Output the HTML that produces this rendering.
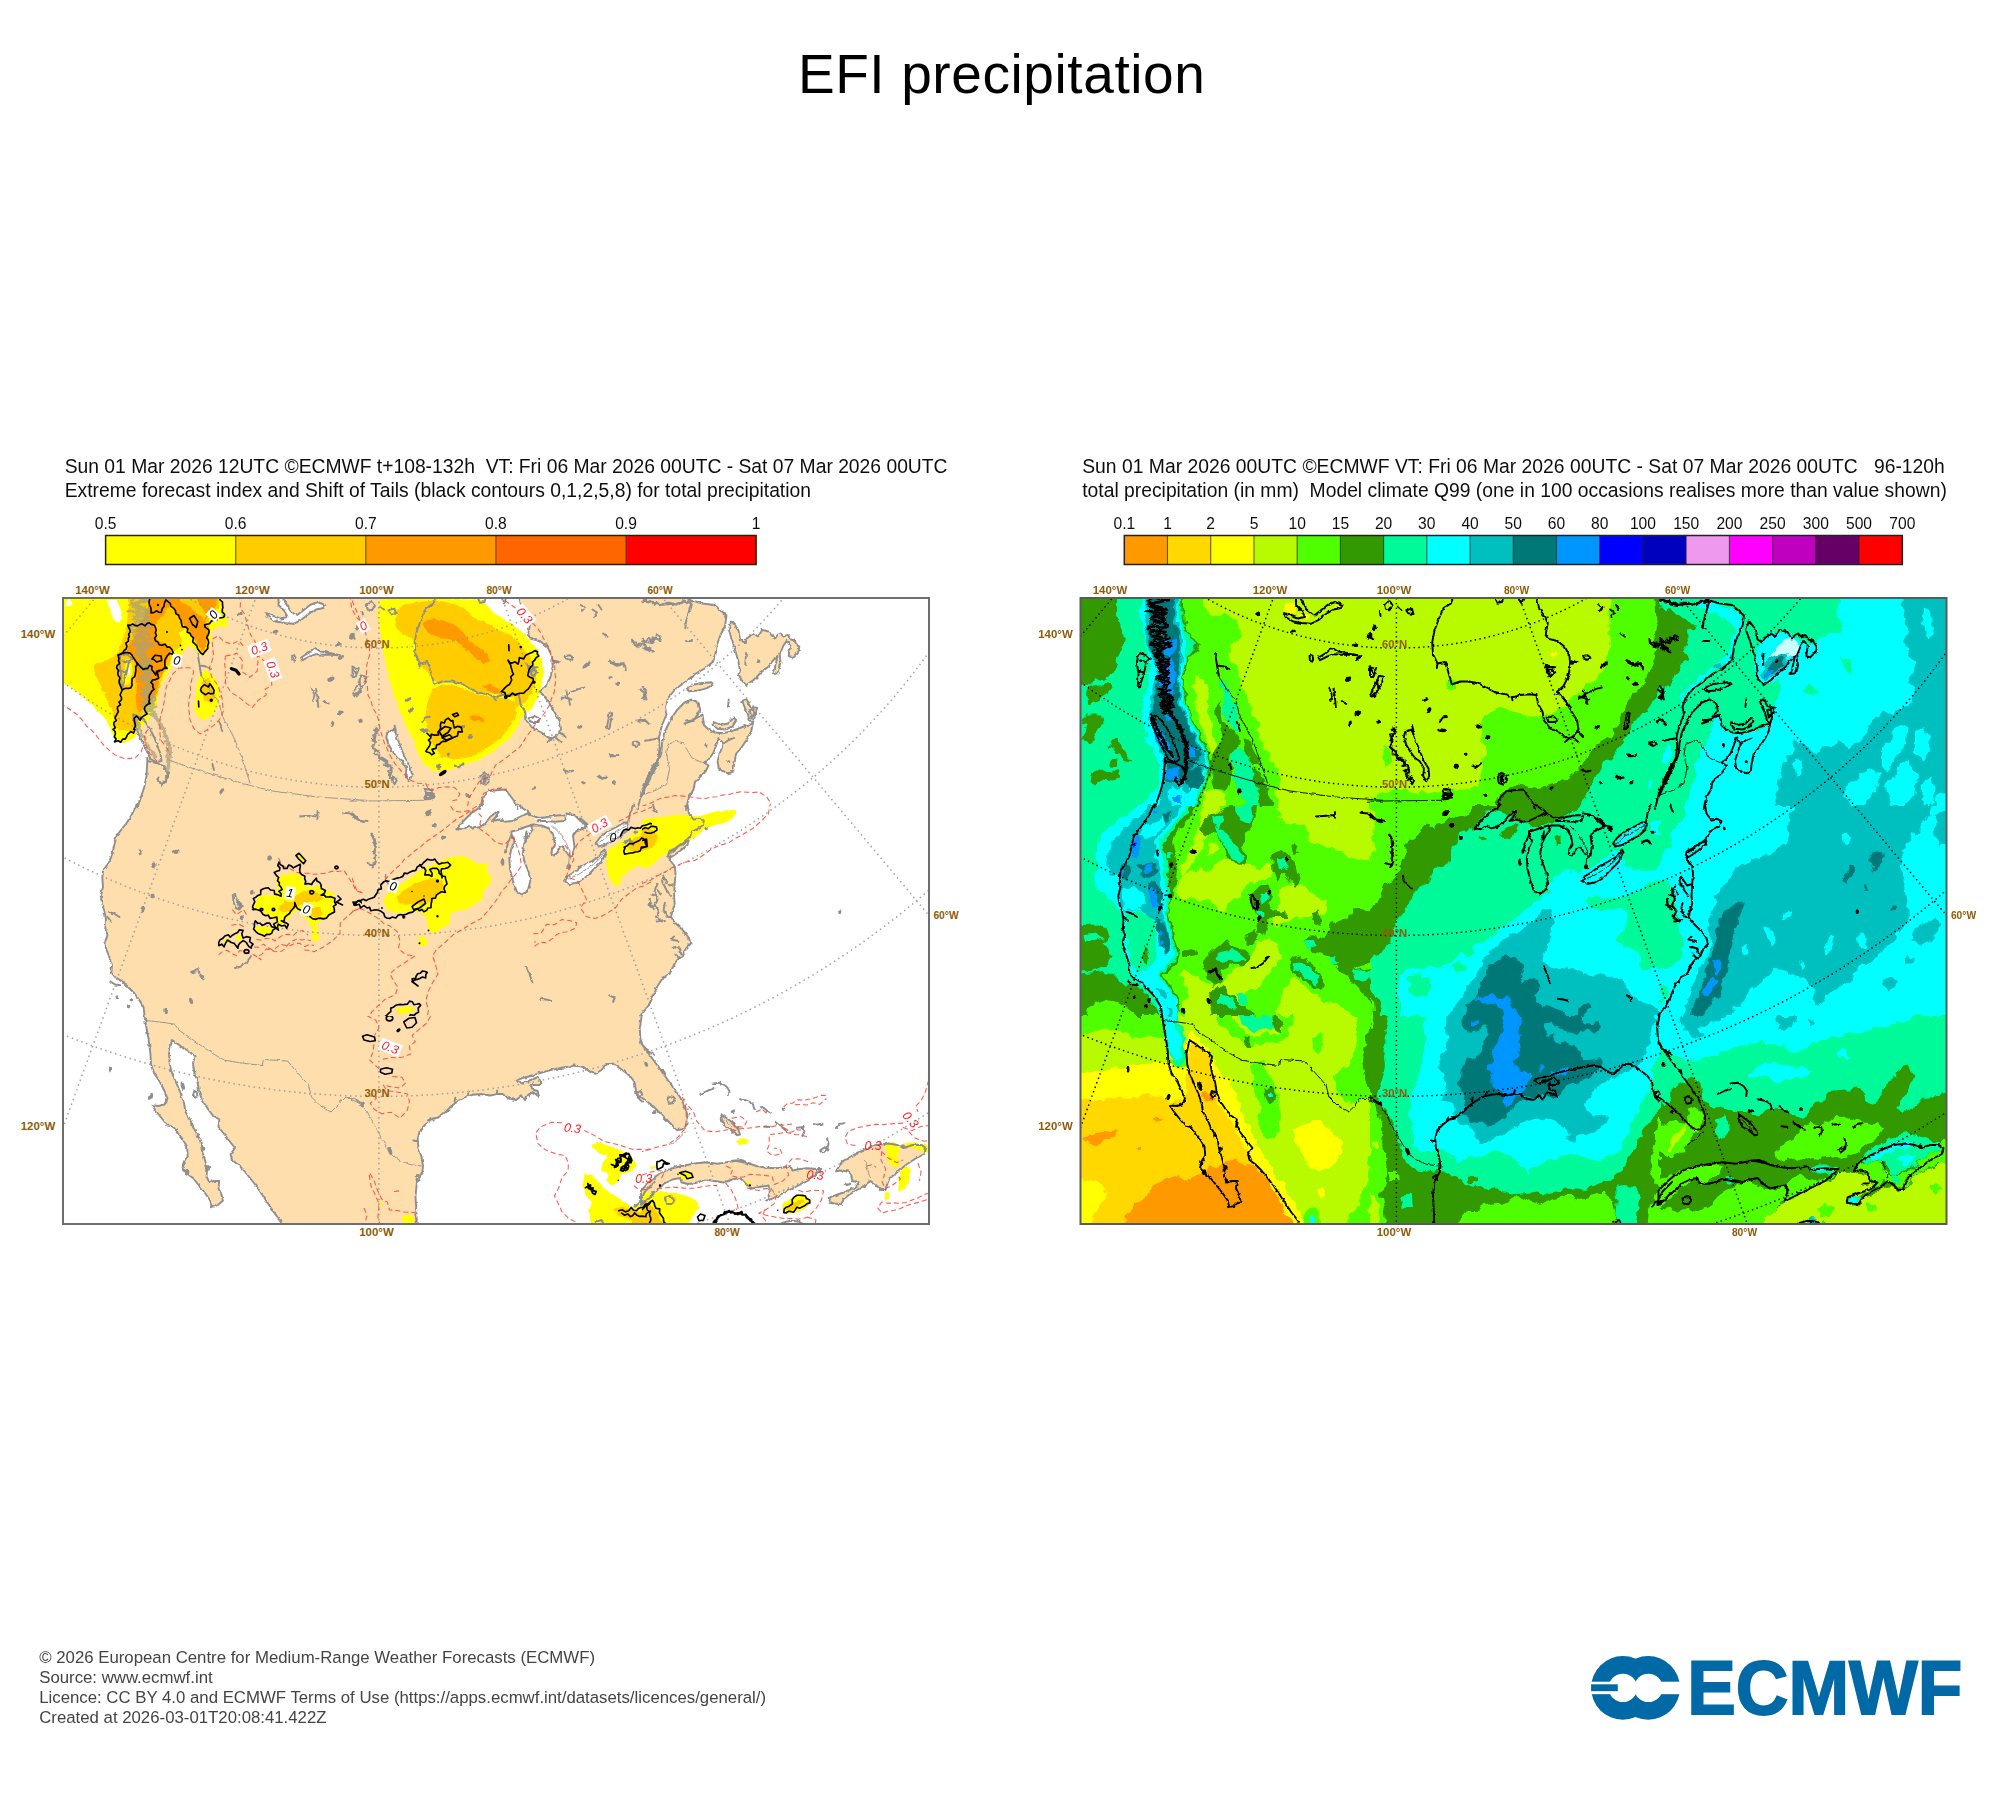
<!DOCTYPE html>
<html lang="en"><head><meta charset="utf-8"><title>EFI precipitation</title>
<style>html,body{margin:0;padding:0;background:#fff;}body{width:2000px;height:1800px;overflow:hidden;}svg{display:block;}text{font-family:"Liberation Sans", sans-serif;}</style>
</head><body>
<svg width="2000" height="1800" viewBox="0 0 2000 1800">
<rect width="2000" height="1800" fill="#fff"/>
<defs>
<filter id="soft" x="-2%" y="-2%" width="104%" height="104%"><feGaussianBlur stdDeviation="0.7"/></filter>
<filter id="rough" x="-2%" y="-2%" width="104%" height="104%"><feTurbulence type="fractalNoise" baseFrequency="0.11" numOctaves="2" seed="7" result="n"/><feDisplacementMap in="SourceGraphic" in2="n" scale="9" xChannelSelector="R" yChannelSelector="G" result="d"/><feGaussianBlur in="d" stdDeviation="0.6"/></filter>
<filter id="soft2" x="-2%" y="-2%" width="104%" height="104%"><feGaussianBlur stdDeviation="0.45"/></filter>
<filter id="wob" x="-2%" y="-2%" width="104%" height="104%"><feTurbulence type="fractalNoise" baseFrequency="0.22" numOctaves="2" seed="3" result="n"/><feDisplacementMap in="SourceGraphic" in2="n" scale="3.2" xChannelSelector="R" yChannelSelector="G" result="d"/><feGaussianBlur in="d" stdDeviation="0.45"/></filter>
<filter id="rough2" x="-2%" y="-2%" width="104%" height="104%"><feTurbulence type="fractalNoise" baseFrequency="0.13" numOctaves="2" seed="11" result="n"/><feDisplacementMap in="SourceGraphic" in2="n" scale="4" xChannelSelector="R" yChannelSelector="G" result="d"/><feGaussianBlur in="d" stdDeviation="0.6"/></filter>
<clipPath id="clipL"><rect x="63" y="598" width="866" height="626"/></clipPath>
<clipPath id="clipR"><rect x="1080.5" y="598" width="866" height="626"/></clipPath>
</defs>
<text x="797.9" y="92.8" font-size="55" letter-spacing="0.6" fill="#000">EFI precipitation</text>
<g filter="url(#soft2)">
<text x="64.7" y="473" font-size="19.3" fill="#111" textLength="882.8" lengthAdjust="spacing" xml:space="preserve">Sun 01 Mar 2026 12UTC ©ECMWF t+108-132h  VT: Fri 06 Mar 2026 00UTC - Sat 07 Mar 2026 00UTC</text>
<text x="64.7" y="497" font-size="19.3" fill="#111" textLength="746.3" lengthAdjust="spacing" xml:space="preserve">Extreme forecast index and Shift of Tails (black contours 0,1,2,5,8) for total precipitation</text>
<text x="1082.2" y="473" font-size="19.3" fill="#111" textLength="862.6" lengthAdjust="spacing" xml:space="preserve">Sun 01 Mar 2026 00UTC ©ECMWF VT: Fri 06 Mar 2026 00UTC - Sat 07 Mar 2026 00UTC   96-120h</text>
<text x="1082.2" y="497" font-size="19.3" fill="#111" textLength="864.6" lengthAdjust="spacing" xml:space="preserve">total precipitation (in mm)  Model climate Q99 (one in 100 occasions realises more than value shown)</text>
<rect x="105.6" y="535.5" width="130.1" height="29" fill="#FFFF00"/>
<rect x="235.7" y="535.5" width="130.1" height="29" fill="#FFCC00"/>
<rect x="365.8" y="535.5" width="130.1" height="29" fill="#FF9900"/>
<rect x="495.9" y="535.5" width="130.1" height="29" fill="#FF6600"/>
<rect x="626" y="535.5" width="130.1" height="29" fill="#FF0000"/>
<line x1="235.7" y1="535.5" x2="235.7" y2="564.5" stroke="#4a3a00" stroke-width="1.2" opacity="0.75"/>
<line x1="365.8" y1="535.5" x2="365.8" y2="564.5" stroke="#4a3a00" stroke-width="1.2" opacity="0.75"/>
<line x1="495.9" y1="535.5" x2="495.9" y2="564.5" stroke="#4a3a00" stroke-width="1.2" opacity="0.75"/>
<line x1="626" y1="535.5" x2="626" y2="564.5" stroke="#4a3a00" stroke-width="1.2" opacity="0.75"/>
<rect x="105.6" y="535.5" width="650.5" height="29" fill="none" stroke="#2a2000" stroke-width="1.5"/>
<text x="105.6" y="529.3" font-size="15.6" text-anchor="middle" fill="#111">0.5</text>
<text x="235.7" y="529.3" font-size="15.6" text-anchor="middle" fill="#111">0.6</text>
<text x="365.8" y="529.3" font-size="15.6" text-anchor="middle" fill="#111">0.7</text>
<text x="495.9" y="529.3" font-size="15.6" text-anchor="middle" fill="#111">0.8</text>
<text x="626" y="529.3" font-size="15.6" text-anchor="middle" fill="#111">0.9</text>
<text x="756.1" y="529.3" font-size="15.6" text-anchor="middle" fill="#111">1</text>
<rect x="1124.3" y="535.5" width="43.4" height="29" fill="#FF9900"/>
<rect x="1167.5" y="535.5" width="43.4" height="29" fill="#FFD800"/>
<rect x="1210.7" y="535.5" width="43.4" height="29" fill="#FFFF00"/>
<rect x="1254" y="535.5" width="43.4" height="29" fill="#B8FA00"/>
<rect x="1297.2" y="535.5" width="43.4" height="29" fill="#50FF00"/>
<rect x="1340.4" y="535.5" width="43.4" height="29" fill="#339900"/>
<rect x="1383.6" y="535.5" width="43.4" height="29" fill="#00FA9A"/>
<rect x="1426.8" y="535.5" width="43.4" height="29" fill="#00FFFF"/>
<rect x="1470.1" y="535.5" width="43.4" height="29" fill="#00BFBF"/>
<rect x="1513.3" y="535.5" width="43.4" height="29" fill="#007878"/>
<rect x="1556.5" y="535.5" width="43.4" height="29" fill="#0096FF"/>
<rect x="1599.7" y="535.5" width="43.4" height="29" fill="#0000FF"/>
<rect x="1642.9" y="535.5" width="43.4" height="29" fill="#0000BF"/>
<rect x="1686.2" y="535.5" width="43.4" height="29" fill="#EE99EE"/>
<rect x="1729.4" y="535.5" width="43.4" height="29" fill="#FF00FF"/>
<rect x="1772.6" y="535.5" width="43.4" height="29" fill="#BF00BF"/>
<rect x="1815.8" y="535.5" width="43.4" height="29" fill="#660066"/>
<rect x="1859" y="535.5" width="43.4" height="29" fill="#FF0000"/>
<line x1="1167.5" y1="535.5" x2="1167.5" y2="564.5" stroke="#222" stroke-width="1.1" opacity="0.7"/>
<line x1="1210.7" y1="535.5" x2="1210.7" y2="564.5" stroke="#222" stroke-width="1.1" opacity="0.7"/>
<line x1="1254" y1="535.5" x2="1254" y2="564.5" stroke="#222" stroke-width="1.1" opacity="0.7"/>
<line x1="1297.2" y1="535.5" x2="1297.2" y2="564.5" stroke="#222" stroke-width="1.1" opacity="0.7"/>
<line x1="1340.4" y1="535.5" x2="1340.4" y2="564.5" stroke="#222" stroke-width="1.1" opacity="0.7"/>
<line x1="1383.6" y1="535.5" x2="1383.6" y2="564.5" stroke="#222" stroke-width="1.1" opacity="0.7"/>
<line x1="1426.8" y1="535.5" x2="1426.8" y2="564.5" stroke="#222" stroke-width="1.1" opacity="0.7"/>
<line x1="1470.1" y1="535.5" x2="1470.1" y2="564.5" stroke="#222" stroke-width="1.1" opacity="0.7"/>
<line x1="1513.3" y1="535.5" x2="1513.3" y2="564.5" stroke="#222" stroke-width="1.1" opacity="0.7"/>
<line x1="1556.5" y1="535.5" x2="1556.5" y2="564.5" stroke="#222" stroke-width="1.1" opacity="0.7"/>
<line x1="1599.7" y1="535.5" x2="1599.7" y2="564.5" stroke="#222" stroke-width="1.1" opacity="0.7"/>
<line x1="1642.9" y1="535.5" x2="1642.9" y2="564.5" stroke="#222" stroke-width="1.1" opacity="0.7"/>
<line x1="1686.2" y1="535.5" x2="1686.2" y2="564.5" stroke="#222" stroke-width="1.1" opacity="0.7"/>
<line x1="1729.4" y1="535.5" x2="1729.4" y2="564.5" stroke="#222" stroke-width="1.1" opacity="0.7"/>
<line x1="1772.6" y1="535.5" x2="1772.6" y2="564.5" stroke="#222" stroke-width="1.1" opacity="0.7"/>
<line x1="1815.8" y1="535.5" x2="1815.8" y2="564.5" stroke="#222" stroke-width="1.1" opacity="0.7"/>
<line x1="1859" y1="535.5" x2="1859" y2="564.5" stroke="#222" stroke-width="1.1" opacity="0.7"/>
<rect x="1124.3" y="535.5" width="778" height="29" fill="none" stroke="#222" stroke-width="1.5"/>
<text x="1124.3" y="529.3" font-size="15.6" text-anchor="middle" fill="#111">0.1</text>
<text x="1167.5" y="529.3" font-size="15.6" text-anchor="middle" fill="#111">1</text>
<text x="1210.7" y="529.3" font-size="15.6" text-anchor="middle" fill="#111">2</text>
<text x="1254" y="529.3" font-size="15.6" text-anchor="middle" fill="#111">5</text>
<text x="1297.2" y="529.3" font-size="15.6" text-anchor="middle" fill="#111">10</text>
<text x="1340.4" y="529.3" font-size="15.6" text-anchor="middle" fill="#111">15</text>
<text x="1383.6" y="529.3" font-size="15.6" text-anchor="middle" fill="#111">20</text>
<text x="1426.8" y="529.3" font-size="15.6" text-anchor="middle" fill="#111">30</text>
<text x="1470.1" y="529.3" font-size="15.6" text-anchor="middle" fill="#111">40</text>
<text x="1513.3" y="529.3" font-size="15.6" text-anchor="middle" fill="#111">50</text>
<text x="1556.5" y="529.3" font-size="15.6" text-anchor="middle" fill="#111">60</text>
<text x="1599.7" y="529.3" font-size="15.6" text-anchor="middle" fill="#111">80</text>
<text x="1642.9" y="529.3" font-size="15.6" text-anchor="middle" fill="#111">100</text>
<text x="1686.2" y="529.3" font-size="15.6" text-anchor="middle" fill="#111">150</text>
<text x="1729.4" y="529.3" font-size="15.6" text-anchor="middle" fill="#111">200</text>
<text x="1772.6" y="529.3" font-size="15.6" text-anchor="middle" fill="#111">250</text>
<text x="1815.8" y="529.3" font-size="15.6" text-anchor="middle" fill="#111">300</text>
<text x="1859" y="529.3" font-size="15.6" text-anchor="middle" fill="#111">500</text>
<text x="1902.3" y="529.3" font-size="15.6" text-anchor="middle" fill="#111">700</text>
</g>
<defs><g id="geo">
<path d="M1139.2,653 1146,655.2 1149.8,659 1146,663.5 1144.5,671 1141.5,680 1140,687.5 1137.8,686 1138.5,674 1137,663.5 1137.8,656Z M1140,660.5 1144.5,662 M1139.2,671 1143,672.5 M1150.5,714.5 1152,723.5 1156.5,734.8 1161,744.5 1165.5,753.5 1168,759 1174,762 1179,761 1178,754 1175,746 1172,738 1168,730 1163,722 1157,716.5Z M1299,596 1303.5,603.5 1308,611 1314,615.5 1320,611 1327.5,605 1335,602 1342.5,605 1341,608 1333.5,609.5 1326,614 1318.5,620 1311,623.8 1302,623 1293,621.5 1285.5,617 1284,613.2 1290,615.5 1297.5,618.5 1305,617 1302,611 1296,605 1296,596Z M1318.5,657.5 1326,653 1332,647.8 1338,651.5 1347,653 1357.5,655.2 1350,654.8 1341,654.8 1333.5,654.2 1327.5,656.3 1320,660.2Z M1309.5,656 1311.8,655.2 1313.2,658.2 1312.2,661.7 1310,661.2Z M1215,653 1216.5,662 1218,671 1218.8,675.5 M1218.8,665.8 1224,666.5 1228.5,668.8 M1236.8,722 1239.8,731 M1230,764 1231.5,770 M1329,687.5 1332,695 1330.5,701 M1333.5,689 1335,698 1335.8,707 M1341.8,701 1346.2,704 M1369.5,666.5 1374,674 1376.2,668 M1377,680 1378.5,689 1376.2,693.5 M1164.8,758 1164.8,761 1164,776 1161.8,787 1158,798.5 1155,807.5 M1164.8,761 1174,763 1181,766 1185,772 M1186.5,772.2 1185.6,775 1185.5,777.9 1183.4,780.4 1182.1,782.8 1179.7,783.7 1179,784.7 1177.1,782.5 1174.8,780.3 1176,777.5 M1184.3,771.8 1185.4,775 1183.2,777.5 1182.6,779.3 1181.1,781.4 1180.2,784.4 1178.8,784.7 1177.9,782.3 1175.2,780.3 1176,777.5 M1453.2,596 1451,603.5 1443.5,608 1439,618.5 1434.5,630.5 1432.2,642.5 1433,654.5 1437.5,663.5 1445,662 1448,671 1451.8,684.5 1460,681.5 1469,681.5 1479.5,683.8 1488.5,689 1494.5,692 1505,694.2 1512.5,697.2 1520,695 1529,694.2 1536.5,695 1538,704 1542.5,711.5 1544,720.5 1550,728 1559,732.5 1565,737 1569.5,738.5 1574,735.5 1578.5,729.5 1577,720.5 1572.5,713 1566.5,702.5 1560.5,695 1556.8,692 1563.5,686 1568,677 1570.2,666.5 1569.5,656 1565,647 1557.5,641 1548.5,638.8 1545.5,635 1547.8,623 1545.5,617 1539.5,609.5 1536.5,596 M1565,742.2 1569.5,737.8 M1572.5,737 1578.5,742.2 M1577,731 1583,737 M1437.5,663.5 1436.8,668 M1511.8,697.2 1512.5,700.2 M1546.2,718.2 1552.2,716 1557.5,719 1556,722 1548.5,722Z M1544.8,665.3 1547.3,666.5 1549.9,667.4 1552.6,667.2 1555.2,667.2 M1544.9,664.6 1547.5,665.5 1550,666.4 1552.5,667.9 1555.2,667.2 M1547,669.7 1549.7,669.7 1552.3,669.9 1555.3,672.3 1552.3,674.2 1550.8,677 M1546.6,670.7 1549.7,669.6 1552,671 1553.9,671.3 1552.7,674.4 1550.8,677 M1547,666.2 1547.2,668.9 1548.8,671.1 1548.5,674 1550,676.2 M1545.4,666.8 1547.7,668.7 1547.7,671.6 1549.5,673.7 1550,676.2 M1570.2,660.5 1576.2,662 1571.8,663.8Z M1494.5,596 1497.5,602.8 1502,602 1503.5,596 M1518.5,596 1521.5,603.5 1523.8,597.5 M1598,605 1602.5,607.2 1599.5,611 M1610,609.5 1614.5,612.5 1611.5,617 M1616,605 1619,609.5 M1405.2,731.8 1412,729.5 1415,738.5 1419.5,750.5 1424,761 1428.5,768.5 1429.2,776 1426.2,781.2 1423.2,776 1424,768.5 1419.5,761 1415,758 1410.5,752 1406,744.5 1403.8,737Z M1410.5,776 1414.2,780.5 1412,784.2 1409.8,781.2Z M1396.3,728.6 1391.6,729.6 1395.2,733.6 1390,734.4 1392.3,738 1390,740 1392,742.9 1391.3,746 1391.4,748.8 1394,750.2 1396.1,752.1 1396.3,755.2 1397.1,757.9 1400.2,757.8 1401.2,760.8 1403.4,762.2 1402.4,766.1 1407.8,765.2 1409,768.7 1409.3,771.8 1405.7,775.1 1407.5,777.6 1409.4,780.2 1411.2,782.8 M1393.4,727.5 1395.2,730.9 1393.5,733 1393,735.6 1392.7,738.2 1392.4,739.8 1392.4,742.8 1389.7,746.1 1392.2,748.2 1392.7,751.1 1392.6,754.4 1397,754.7 1396.9,758.1 1398.7,759.9 1402.2,759.4 1404.9,761.1 1404.8,764.3 1407.4,765.5 1409.1,768.7 1404.5,771.2 1408.6,773.5 1406.8,778 1409.8,780 1411.2,782.8 M1412,725 1413.5,731 M1384.2,604.2 1389.5,601.2 1392.5,605 1389.5,610.2 1385,609.5Z M1397.8,606.5 1401.5,609.5 M1406,610.2 1412,608.8 1413.5,614 1408.2,613.2Z M1379.8,611 1380.5,615.5 M1374.5,626 1376,628.2 M1370,635 1372.2,638.8 M1370,666.5 1376,669.5 1373,677 1370,677Z M1379,675.5 1384.2,677 1380.5,686 1376,692 1371.5,696.5 1370,695 1377.5,680Z M1439.8,722 1442.8,717.5 1447.2,716.8 M1472,765.5 1476.5,767.3 1481,763.2 M1497.8,776 1501.2,772.7 1505.8,775.2 1506.2,782 1502.8,784.7 1498.7,782.8Z M1442.6,789.2 1446,788.9 1450.2,789.4 1449.4,792.1 1451.3,794.3 1451.2,797.6 1447.3,797.2 1443.3,799.4 1443.9,796.5 1444.1,793.6 1442.8,791 M1442.6,789 1446.1,789.7 1449.9,789.4 1450.2,792 1449.4,794.7 1451.1,797.2 1447.9,799 1443.6,799.4 1442.4,796.7 1443.9,793.6 1442.8,791 M1443.5,793.6 1446.3,795.2 1449.5,796.2 M1444.1,792.8 1447.7,793.2 1449.5,796.2 M1583,656 1587.5,655.2 1590.5,657.5 1587.5,659.8 1583.8,658.7Z M1581.5,770 1586,771.8 1590.5,770.8 M1620.5,633.5 1625,636.8 M1649.5,639.7 1650.9,642.2 1654.1,642.5 1654.8,644.4 1657.9,646.9 1659.9,644 1662.7,643.7 1663.7,646.6 1666,647.7 1668.5,648.5 M1649.5,639.6 1649.9,643.3 1652.2,644.7 1655.4,647.3 1657.2,643.4 1660,644.5 1662.1,644.5 1663.6,646.7 1666.1,647.6 1668.5,648.5 M1626.2,660.9 1629.4,661.3 1631.7,663.1 1633.9,664.7 1636.7,663.1 1640.2,663.4 1641.7,666.5 1643.3,669.5 M1626.9,659.9 1628.4,663 1631.1,664.2 1634.2,665.8 1637.3,665.3 1640.7,663.1 1642.6,666 1643.3,669.5 M1578.5,699.5 1586,693.5 1595,689.3 1601.8,687.5 M1583.8,690.5 1586,698 1587.5,704.8 M1579.2,696.5 1589,699.5 M1658.1,689.5 1660.1,691.6 1663,693.7 1663.2,696.7 1664,699.5 M1657.8,689.8 1660.4,691.3 1662.5,693.9 1662.7,697 1664,699.5 M1663,689.2 1663.2,692.9 1661,695.2 1659.5,698 M1663.4,689.4 1662.8,692.7 1661.6,695.6 1659.5,698 M1627.2,712.2 1629.8,713.3 1626.8,728.8 1624.1,729.2Z M1656.8,722 1659.2,720.9 1662.3,719.5 1664.1,721.9 1666.2,723.8 M1656.6,721.3 1659,720.3 1661.3,720.7 1664.3,721.6 1666.2,723.8 M1650.5,742.2 1655,741.5 1656.8,744.5 1653.5,746 1650.2,744.8Z M1662.5,740.8 1669.2,739.7 M1627.2,754.3 1629.8,754.7 1631.7,756.4 1636.2,755 M1627.3,754.1 1629,756.3 1631.7,756.3 1636.2,755 M1616.7,775.6 1619.5,778.3 1623.5,777.5 M1616,776.8 1619.7,778.9 1623.5,777.5 M1655,809 1659.5,791 1665.5,776 1671.5,764 M1497.5,809 1500.5,797 1506.5,791 1514,790.2 1523,789.5 1527.5,795.5 1532,801.5 1535,809 M1659.8,601.5 1663.3,599.5 1666.1,601 1669.1,601.5 1671.9,603.8 1674.8,604.5 1677.8,605.2 1681,604.1 1683.8,602.7 1686.9,602.7 1690.1,604 1693.2,604.9 1696.1,603.4 1698.9,603.4 1701.4,601.6 1704.2,601.7 1706.5,599.3 1709.5,600.5 M1660,600.5 1663.2,599.8 1665.8,602.6 1669.3,600.7 1672,603.1 1675.1,602.6 1677.9,604.6 1680.9,604.7 1684,604 1687,604.2 1690,603.7 1693.2,604.5 1696,602.9 1698.7,602.6 1701.2,600.4 1704.4,603.2 1706.9,601.8 1709.5,600.5 M1709.5,600.5 1706.5,611 1703.5,621.5 1702.8,628.2 M1709.5,600.5 1720,603.5 1732,605 1744,615.5 1742.5,626 1738,635 1734.2,645.5 1732,660.5 1723,668 1712.5,674 1703.5,681.5 1693,689 1685.5,698 1682.5,707 1684,714.5 1679.5,725 1676.5,737 1677.2,747.5 1675.8,758 1670.5,768.5 1664.5,780.5 1658.5,792.5 M1703.5,641 1709.5,641 M1658.5,797 1663,788 1669,776 1675,764 1678.8,753.5 1679.5,743 1682.5,731 1688.5,719 1694.5,710 1702,702.5 1709.5,699.5 1716.2,703.2 1717.8,710 1714,716 1711,720.5 1702,723.5 M1703.5,720.5 1712.5,719 1720,714.5 1721.5,725 1726,729.5 1732,732.5 1741,733.2 1750,731 1757.5,728 1765,725 1770.2,723.5 M1759.8,701 1763.5,699.5 1768,707 1774.8,707.8 1772.5,716 1770.2,723.5 1767.2,720.5 1765,713 1762,707Z M1767.2,710 1771,709.2 1771.8,714.5 1768.8,717.5Z M1731.2,722 1738,725 1745.5,723.5 1751.5,717.5 1753.8,720.5 1750,726.5 1742.5,729.5 1735,728.8 1731.2,725Z M1704.2,689 1711,684.5 1720,683 1729,682.2 1730.5,684.5 1724.5,688.2 1715.5,690.5 1706.5,691.2Z M1746.2,699.5 1745.5,707 M1770.2,723.5 1768.8,731 1765,738.5 1759,747.5 1753.8,753.5 1751.8,762.5 1750.8,771.5 1746.2,773.3 1741,771.8 1736.2,768.5 1735,761 1737.7,752 1741,743.8 1746.2,740 1751.5,737.8 M1741,743.8 1738,740 1736.5,737.8 1733.5,746 1730.5,753.5 1726,759.5 1721.5,762.5 1726,765.5 1723,771.5 1717,777.5 1712.5,782 1711,789.5 1706.5,797 1703.5,809 M1663,740.8 1675,738.5 M1660,686 1663.8,692 1661.5,699.5 M1660.1,638.8 1662.7,642.1 1666.3,638.6 1669.9,642.9 1671.4,640.3 1673,637.7 1677,640.2 1678,636.5 M1659.7,641.5 1662.7,641.7 1665.7,642.3 1670.1,643.2 1670,637.3 1673.5,638.8 1674.5,635 1678,636.5 M1660.8,648.3 1664,647.7 1665.6,650 1668.2,650.4 1670.5,651.5 M1661.9,646.2 1663,649.6 1666.5,648.2 1667.9,651.2 1670.5,651.5 M1748.5,621.5 1746.2,630.5 1750,641 1753,651.5 1756,662 1757.5,671 1756,674 1759,680 1763.5,685.2 1771,680 1778.5,672.5 1786,666.5 1790.5,660.5 1795,656 1792,669.5 1790.5,674 1795,673.2 1798,662 1797.2,654.5 1801,645.5 1804,641 1807.8,645.5 1806.2,656 1810,657.5 1816,651.5 1816.8,647 1813,641 1808.5,639.5 1805.5,635 1801,636.5 1798,633.5 1795,635 1792,639.5 1787.5,632 1780,629.8 1775.5,636.5 1771,633.5 1765,638 1762,642.5 1757.5,639.5 1756,630.5 1753,626 1750,622.2Z M1763.5,653 1762.8,665 M1154.2,804.5 1149,815 1144.5,822.5 1138.5,830 1134,836 1131.8,845 1129.5,855.5 1125,864.5 1120.5,870.5 1119.8,878 1120.5,887 1118.2,896 1119.8,905 1122,911 1123.5,920 1122.8,929 1125,935 1122.8,941 1123.5,948.5 1126.5,956 1129.5,965 1128.8,972.5 1132.5,977 1140,981.5 1146,987.5 1152,993.5 1156.5,999.5 1161,1007 1162.5,1019 M1126.5,911.8 1131,913.2 1137,917 M1125,917 1128,920.8 M1128,981.5 1132.5,984.5 1137.8,985.2 M1250.2,895.2 1252.5,894.5 1254,899 1257.8,902 1259.2,906.5 1257,909.5 1253.2,908 1251,902Z M1317,816.5 1326,815.8 1334.2,815 M1335,812 1335,818.8 M1360.5,812.8 1368,813.5 1372.5,818 1377.8,821 1381.5,822.2 M1209,972.5 1212.6,971.6 1215.3,968.6 1216.1,971.6 1217.1,974.5 1220.4,976.1 1221,979.2 M1208.6,971.8 1212,970.6 1215.9,968.2 1216.5,971.4 1217.1,974.5 1218.7,977.1 1221,979.2 M1252.5,968 1258.5,966.5 1263.8,962.8 1268.2,956.8 M1500.5,804.5 1497.5,807.5 1490,812 1484,818 1478,824 1475,828.5 1481,829.2 1487,825.5 1490,828.5 1497.5,827 1503.5,822.5 1508,816.5 1514,812 1516.2,812 1512.5,818 1509.5,821 1517,819.5 1523,821.8 1529,821 1535,818 1541,815 1545.5,813.5 1548.5,815 1545.5,812 1535,804.5 M1529,831.5 1535,830 1542.5,827 1548.5,825.5 1550,830 1545.5,836 1541.8,843.5 1540.2,854 1542.5,863 1546.2,872 1547.8,881 1545.5,890 1539.5,894.5 1534.2,891.5 1530.5,881 1527.5,869 1526.8,858.5 1529,848 1532,840.5 1529,834.5Z M1529,834.5 1526,842 1523,851 M1544,831.5 1542.5,840.5 M1548.5,815 1556,818 1565,817.2 1572.5,815.8 1580,815 1583,816.5 1581.5,821 1572.5,821.8 1563.5,821 1556,821 M1550,825.5 1559,825.5 1566.5,828.5 1571,836 1572.5,845 1569.5,849.5 1568.8,854 1571.8,855.5 1577,848 1580,846.5 1583,851 1587.5,857 1590.5,855.5 1592,846.5 1590.5,836 1593.5,831.5 1601,828.5 1604,825.5 1598,821 1592,815 1583,813.5 M1592,815 1599.5,819.5 1606.2,825.5 1611.5,827 M1581.5,881 1584.5,876.5 1592,872 1599.5,866 1608.5,861.5 1616,857 1622,849.5 1623.5,852.5 1619,861.5 1611.5,869 1604,876.5 1595,882.5 1587.5,884Z M1613,843.5 1617.5,837.5 1625,831.5 1634,827 1641.5,822.5 1646,822.5 1645.2,830 1638.5,836 1629.5,840.5 1622,845 1616,846.5Z M1646,821.8 1647.5,813.5 1651.2,804.5 M1642.7,843.2 1647.3,839.9 1648.9,842.2 1650.8,844.2 M1642.1,841.5 1647,840.2 1649.5,841.6 1650.8,844.2 M1370,813.5 1376,819.5 1385,821 M1389.4,834.5 1391.3,837.2 1392.5,840.2 1393.4,843.6 1391.9,846.5 1392.6,849.6 1392,852.5 1392.2,855.5 1391.5,858.6 1393.5,861.9 1391.2,864.4 1390.2,867.5 M1388.8,834.7 1390.4,837.5 1391.7,840.4 1391.8,843.4 1392.2,846.5 1392.5,849.5 1391,852.6 1393,855.4 1391.8,858.5 1393,861.7 1392.3,864.8 1390.2,867.5 M1385,863 1391,864.8 M1403,875.8 1403.8,881 1407.5,885.5 1412,888.5 M1544,967.2 1547,974 1550,983 M1557.5,998.8 1563.5,999.5 1568.8,1001 M1626.8,995.3 1632.2,998 1630.7,1001 M1667,899 1667.8,905 1670.8,906.5 M1705,804.5 1706.5,813.5 1711,819.5 1717,818.8 1721.5,821 1720,825.5 1715.5,828.5 1709.5,831.5 1708,836 1705,839 1699,843.5 1693,848 1687,851 1685.5,855.5 1688.5,861.5 1692.2,866 1693,873.5 1692.2,884 1691.5,896 1692.2,903.5 1690,911 1688.5,917 1691.5,921.5 1696,926 1702,932 1706.5,938 1708,944 1703.5,948.5 1700.5,956 1696,959 1693,962 1690,968 1687,974 1681,977 1675,986 1670.5,996.5 1666,1005.5 1658.5,1015.2 M1687,854 1694.5,848 1703.5,842 1706.5,841.2 1705,845 1697.5,851 1690,856.2 1687,857.8Z M1692.2,884 1687,885.5 1681,876.5 1679.5,881 1684,890 1688.5,896 M1675,884 1672,891.5 1675,899 1672,905 1676.5,911 1673.5,917 1679.5,921.5 M1667.5,899 1666,905 1672,909.5 M1682.5,902 1681,911 1685.5,917 1688.5,917 M1675,890 1678,894.5 M1669,894.5 1673.5,896 M1674.2,921.5 1682.5,920 M1691.5,936.5 1688.5,939.5 1696,941 M1690,947 1697.5,948.5 1699,954.5 M1693,954.5 1696,957.5 M1670.5,804.5 1672,810.5 1674.2,812.3 M1161.8,1014.5 1164,1028 1166.2,1040 1167.8,1052 1168.5,1064 1171.5,1073 1177.5,1082 1182,1091 1185,1098.5 1182,1104.5 1176,1106 1170,1105.2 1173,1110.5 1179,1118 1185,1125.5 1191,1127 1195.5,1133 1200,1139 1204.5,1146.5 1205.2,1155.5 1201.5,1161.5 1200,1167.5 1204.5,1173.5 1210.5,1178 1216.5,1185.5 1222.5,1193 1227.8,1200.5 1229.2,1207.2 1234.5,1205.8 1240.5,1200.5 1239,1194.5 1236,1188.5 1236.8,1181 1231.5,1181 1227,1182.5 1224,1176.5 1224.8,1169 1222.5,1160 1219.5,1151 1218,1142 1215,1134.5 1210.5,1127 1207.5,1119.5 1203,1112 1201.5,1103 1198.5,1094 1194,1083.5 1189.5,1073 1187.2,1064 1186.5,1053.5 1189.5,1040 1194,1043 1200,1047.5 1207.5,1052 1212,1056.5 1210.5,1064 1212,1073 1215,1082 1216.5,1091 1219.5,1100 1225.5,1109 1230,1115 1236.8,1119.5 1236,1127 1242,1134.5 1246.5,1140.5 1252.5,1148 1248,1154 1249.5,1160 1255.5,1164.5 1261.5,1170.5 1267.5,1178 1273.5,1185.5 1279.5,1194.5 1285.5,1203.5 1291.5,1212.5 1299,1221.8 M1211.7,1091 1214.2,1091.8 1215,1096.2 1212.8,1097.8 1210.8,1094.8Z M1374,1100 1381.5,1105.2 M1434.5,1229 1433.8,1211 1433,1196 1434.5,1181 1439.8,1172 1440.5,1166 1439,1157 1436,1148 1435.2,1139 1437.5,1130 1443.5,1124 1449.5,1119.5 1457,1116.5 1463,1112 1469,1106 1475,1101.5 1482.5,1097 1490,1094.8 1499,1094 1508,1095.5 1514,1094 1520,1094 1526,1098.5 1533.5,1100 1539.5,1095.5 1542.5,1100 1547,1092.5 1553,1094 1556.8,1097 1555.2,1091 1550,1089.5 1548.5,1085 1556,1085 1559,1082 1554.5,1077.5 1547,1080.5 1539.5,1083.5 1534.2,1080.5 1539.5,1078.2 1548.5,1076 1557.5,1073 1568,1070 1580,1067.8 1592,1065.5 1601,1067 1607,1071.5 1613,1073.8 1619,1070 1623.5,1064 1631,1064 1640,1070 1647.5,1076 1652,1082 1653.5,1091 1655,1097 1659.5,1101.5 M1659.5,1014.5 1657.2,1028 1658,1040 1662.5,1049 1671.5,1055 M1655,1092.5 1658,1091 1659.8,1094.3 1657.7,1097 1655.3,1095.5Z M1433,1177.2 1436,1175 1437.5,1178.8 1434.5,1181Z M1446.5,1121 1448,1118 M1438.2,1131.5 1439.8,1127.8 M1430.8,1140.5 1435.2,1141.2 M1472,1101.5 1472.8,1097.8 M1485.5,1095.5 1485.8,1091.8 M1514,1094 1514.8,1090.2 M1652,1206.5 1658,1200.5 1662.5,1191.5 1668.5,1185.5 1672.2,1181.8 M1658,1202 1664,1200.5 1670.8,1193 M1613,1221.8 1619,1220 1622,1226 M1658.5,1043 1666,1053.5 1675,1065.5 1682.5,1076 1690,1086.5 1697.5,1097 1702,1106 1705,1115 1705,1124 1700.5,1129.2 1694.5,1130 1690,1125.5 1684,1119.5 1676.5,1112 1670.5,1106 1664.5,1101.5 1658.5,1097 M1685.5,1097.8 1689.2,1096.2 1691.8,1099.2 1690.8,1103 1687,1103.8 1684.8,1100.8Z M1717.8,1094 1724.5,1091 1732,1088 M1730.5,1083.5 1738,1082.8 1744,1086.5 1747,1091 1746.2,1095.5 M1757.5,1099.2 1765,1100.8 1770.2,1103.8 1771.8,1109 M1778.5,1106 1784.5,1110.5 1788.2,1112.8 M1781.5,1126.2 1787.5,1127 M1793.5,1122.5 1799.5,1127 1804.8,1130 M1814.5,1127.8 1821.2,1127 1822,1131.5 1819.8,1136 M1832.5,1124.8 1840,1123.7 M1853.5,1127.8 1856.5,1124 1862.5,1123.2 M1837.8,1150.2 1842.2,1147.2 1845.2,1148.8 1840.8,1152.5Z M1845.2,1148 1846,1143.5 1844.5,1139 M1738.8,1114.2 1744,1118 1750,1122.5 1756,1130 1757.5,1134.5 1754.5,1135.2 1748.5,1130 1742.5,1127 1739.5,1121Z M1658.5,1190.8 1666,1182.5 1675,1175 1687,1169 1699,1166 1711,1163.8 1723,1162.2 1735,1163.8 1744,1162.2 1753,1160.8 1765,1163 1774,1166 1783,1167.5 1792,1168.2 1801,1167.5 1807.8,1166 1810,1170.5 1817.5,1169 1825,1168.2 1834,1169 1838.5,1169 1832.5,1175 1825,1181 1816,1185.5 1807,1190 1798,1194.5 1789,1199 1784.5,1200.5 1787.5,1191.5 1786,1185.5 1777,1187 1769.5,1188.5 1763.5,1184 1757.5,1178 1750,1179.5 1741,1182.5 1732,1181 1723,1179.5 1714,1182.5 1706.5,1184 1699,1182.5 1697.5,1178 1690,1179.5 1681,1184 1673.5,1191.5 1666,1199 1658.5,1205Z M1682.5,1197.5 1688.5,1196 1691.5,1200.5 1688.5,1204.2 1683.2,1203.5Z M1750,1160.8 1759,1160 1768,1163.8 M1853.5,1171.2 1859.5,1161.5 1870,1155.5 1882,1149.5 1894,1145 1906,1143.5 1915,1145 1921,1148 1930,1145 1939,1145 1943.5,1148 1942,1154 1933,1158.5 1924,1164.5 1915,1172 1907.5,1178 1904.5,1184 1903,1190 1898.5,1190 1894,1185.5 1888,1181 1882,1185.5 1874.5,1190 1867,1194.5 1861,1199 1859.5,1204.2 1852,1203.5 1846.8,1202.8 1847.5,1197.5 1855,1194.5 1864,1191.5 1873,1187 1877.5,1182.5 1870,1181 1868.5,1175 1867,1172 1859.5,1170.5Z M1799.5,1223 1807,1220.8 1816,1221.5 1822,1224.8" fill="none" stroke="currentColor" stroke-width="1.9" stroke-linejoin="round" stroke-linecap="round"/>
<path d="M1218.8,675.5 1221,680 1228.5,692 1236,701 1239,713 1242,720.5 1246.5,728 1252.5,740 1257,752 1260,761 1264.5,773 1267.5,783.5 M1185,759.5 1210.5,768.5 1230,774.5 1260,783.5 1290,791 1335,797 1383,800.3 M1367,801.2 1400,800.8 1442,800.3 M1685.5,744.5 1694.5,740.8 1700.5,743 1705,750.5 1709.5,758 1714,760.2 1720,762.5 M1685.5,744.5 1684,755 1687,768.5 1684,783.5 1675,789.5 1658.5,795.5 M1569.5,825.5 1580,836 1587.5,851 1586,864.5 M1584.5,879.5 1595,875 1607,867.5 1617.5,858.5 1622,851.8 M1616,844.2 1625,836 1635.5,830.8 1644.5,825.5 M1161.8,1020.5 1177.5,1022 1192.5,1024.2 1195.5,1029.5 1215,1043 1230,1053.5 1242,1060.2 1260,1063.2 1279.5,1065.5 1281,1059.5 1305,1061 1314,1071.5 1326,1085 1329,1097 1338,1106 1348.5,1112 1354.5,1106 1359,1098.5 1372.5,1098.5 1381.5,1105.2 M1368.5,1099.2 1379,1104.5 1385,1112 1391,1124 1397,1134.5 1403,1145 1409,1154 1416.5,1160 1427,1164.5 1439.8,1166 M1703.5,1131.5 1696,1139 1687,1145 M1741.8,1119.5 1748.5,1125.5 1753,1132.2 M1882,1160 1885,1169 1888,1178" fill="none" stroke="currentColor" stroke-width="0.9" stroke-linejoin="round"/>
<path d="M1259.4,612.7 1259.6,613.6 1259.2,614.7 1258.2,615.5 1257,615.8 1256.1,615.3 1255.9,614.4 1256.3,613.3 1257.3,612.5 1258.5,612.2Z M1295.3,630.9 1295.1,631.7 1294.1,632.5 1292.7,633 1291.4,633 1290.7,632.5 1290.9,631.7 1291.9,630.9 1293.3,630.4 1294.6,630.4Z M1371.5,636.9 1370.5,638.4 1369.1,639.1 1367.9,638.7 1367.3,637.3 1367.5,635.5 1368.5,634 1369.9,633.3 1371.1,633.7 1371.7,635.1Z M1357.5,643.7 1357.6,644.7 1357,645.7 1355.9,646.3 1354.7,646.4 1353.9,645.8 1353.8,644.8 1354.4,643.8 1355.5,643.2 1356.7,643.1Z M1375.4,627.9 1374.7,629.2 1373.9,629.8 1373.2,629.5 1372.9,628.5 1373.2,627.1 1373.9,625.8 1374.7,625.2 1375.4,625.5 1375.7,626.5Z M1360.9,656 1360.8,656.8 1360,657.8 1358.6,658.8 1357.3,659.3 1356.5,659 1356.6,658.2 1357.4,657.2 1358.8,656.2 1360.1,655.7Z M1351.5,677.9 1351.3,679 1350.1,680.2 1348.2,681.1 1346.5,681.3 1345.5,680.6 1345.7,679.5 1346.9,678.3 1348.8,677.4 1350.5,677.2Z M1360.5,711.7 1360.4,712.9 1359.4,714.2 1357.7,714.9 1356,715 1355.1,714.3 1355.2,713.1 1356.2,711.8 1357.9,711.1 1359.6,711Z M1351,724.1 1350.4,725.6 1349.6,726.4 1349,726.2 1348.8,725.1 1349,723.5 1349.6,722 1350.4,721.2 1351,721.4 1351.2,722.5Z M1375.8,694 1375.9,694.9 1375.3,695.9 1374.2,696.6 1373,696.6 1372.2,696 1372.1,695.1 1372.7,694.1 1373.8,693.4 1375,693.4Z M1241,791.6 1240.2,792.7 1239.1,793.1 1238.1,792.7 1237.5,791.7 1237.6,790.4 1238.4,789.3 1239.5,788.9 1240.5,789.3 1241.1,790.3Z M1570.2,660.5 1576.2,662 1571.8,663.8Z M1428.2,698.2 1428,699.1 1426.8,700.1 1425.1,700.9 1423.6,701.2 1422.8,700.8 1423,699.9 1424.2,698.9 1425.9,698.1 1427.4,697.8Z M1430.2,711 1429.2,712.3 1428.1,712.8 1427.3,712.3 1427.1,711.1 1427.7,709.5 1428.7,708.3 1429.8,707.8 1430.6,708.3 1430.8,709.5Z M1446.2,730.6 1445.3,731.3 1443.2,731.6 1440.6,731.4 1438.5,730.7 1437.8,729.9 1438.7,729.2 1440.8,728.9 1443.4,729.1 1445.5,729.8Z M1379.6,721.2 1379.3,722.4 1378.7,723.1 1377.8,723.1 1377.2,722.4 1376.9,721.2 1377.2,720.1 1377.8,719.4 1378.7,719.4 1379.3,720.1Z M1481.7,727 1481,727.8 1479.4,728.1 1477.6,727.7 1476.2,726.9 1475.8,726 1476.5,725.2 1478.1,724.9 1479.9,725.3 1481.3,726.1Z M1489.8,736.6 1489.6,737.5 1488.6,738.2 1487.3,738.4 1486.2,738.1 1485.7,737.4 1485.9,736.5 1486.9,735.8 1488.2,735.6 1489.3,735.9Z M1466.9,754.2 1466.7,754.8 1466.3,755.1 1465.7,755.1 1465.3,754.8 1465.1,754.2 1465.3,753.7 1465.7,753.4 1466.3,753.4 1466.7,753.7Z M1458.3,766.2 1457.9,767.5 1456.9,768.2 1455.6,768.2 1454.6,767.5 1454.2,766.2 1454.6,765 1455.6,764.3 1456.9,764.3 1457.9,765Z M1503.8,778.7 1503.5,780.9 1502.6,782.3 1501.4,782.3 1500.5,780.9 1500.2,778.7 1500.5,776.5 1501.4,775.1 1502.6,775.1 1503.5,776.5Z M1607.4,662.1 1607.2,663.2 1605.8,665 1603.7,666.8 1601.7,667.9 1600.6,667.9 1600.8,666.8 1602.2,665 1604.3,663.2 1606.3,662.1Z M1599.3,726.3 1599.1,727 1598.2,727.7 1596.9,728.1 1595.8,727.9 1595.2,727.3 1595.4,726.6 1596.3,725.9 1597.6,725.5 1598.7,725.7Z M1553.1,787.1 1553,787.7 1552.4,788.5 1551.4,789 1550.5,789.2 1549.9,788.9 1550,788.3 1550.6,787.5 1551.6,787 1552.5,786.8Z M1487.6,795.9 1487.1,796.4 1486,796.6 1484.7,796.4 1483.7,795.8 1483.4,795.1 1483.9,794.6 1485,794.4 1486.3,794.6 1487.3,795.2Z M1629.5,677.8 1629.2,678.3 1628.5,678.6 1627.5,678.6 1626.8,678.3 1626.5,677.8 1626.8,677.2 1627.5,676.9 1628.5,676.9 1629.2,677.2Z M1637.6,683.8 1637.2,684.6 1636.1,685.2 1634.9,685.2 1633.8,684.6 1633.4,683.8 1633.8,682.9 1634.9,682.3 1636.1,682.3 1637.2,682.9Z M1632.8,782.3 1632.5,783.2 1631.8,783.7 1630.8,783.7 1630.1,783.2 1629.8,782.3 1630.1,781.4 1630.8,780.9 1631.8,780.9 1632.5,781.4Z M1601.5,782.8 1601.2,783.3 1600.6,783.6 1599.9,783.6 1599.3,783.3 1599,782.8 1599.3,782.2 1599.9,781.9 1600.6,781.9 1601.2,782.2Z M1724.4,745.2 1724.2,746.3 1723.7,747 1723.2,747 1722.7,746.3 1722.5,745.2 1722.7,744.2 1723.2,743.5 1723.7,743.5 1724.2,744.2Z M1747.2,761.8 1747,762.3 1746.5,762.6 1746,762.6 1745.5,762.3 1745.3,761.8 1745.5,761.2 1746,760.9 1746.5,760.9 1747,761.2Z M1777.2,661.2 1777,662 1776.5,662.4 1776,662.4 1775.5,662 1775.3,661.2 1775.5,660.5 1776,660.1 1776.5,660.1 1777,660.5Z M1158.6,852.5 1158.4,853.9 1158,854.8 1157.4,854.8 1157,853.9 1156.8,852.5 1157,851.1 1157.4,850.2 1158,850.2 1158.4,851.1Z M1196.5,851.8 1195.9,852.6 1194.3,853.2 1192.2,853.2 1190.6,852.6 1190,851.8 1190.6,850.9 1192.2,850.3 1194.3,850.3 1195.9,850.9Z M1172.5,865.8 1171.7,867 1170.7,867.6 1169.8,867.2 1169.4,866.2 1169.6,864.7 1170.4,863.5 1171.4,862.9 1172.3,863.3 1172.7,864.3Z M1171.5,896 1171.2,897.1 1170.5,897.7 1169.5,897.7 1168.8,897.1 1168.5,896 1168.8,894.9 1169.5,894.3 1170.5,894.3 1171.2,894.9Z M1161.7,909.3 1160.9,910.5 1159.9,911.1 1159,910.7 1158.6,909.7 1158.8,908.2 1159.6,907 1160.6,906.4 1161.5,906.8 1161.9,907.8Z M1258.8,903.9 1258.8,906.2 1258.2,907.7 1257.1,907.9 1255.9,906.7 1255.2,904.6 1255.2,902.3 1255.8,900.8 1256.9,900.6 1258.1,901.8Z M1270.4,892.7 1269.9,893.6 1269.1,894 1268.4,893.7 1268,892.9 1268.2,891.8 1268.7,890.9 1269.5,890.5 1270.2,890.8 1270.6,891.6Z M1260.8,917.8 1260.5,918.8 1259.7,919.5 1258.8,919.5 1258,918.8 1257.8,917.8 1258,916.7 1258.8,916 1259.7,916 1260.5,916.7Z M1288.6,857.6 1288.7,858.5 1288.2,859.5 1287.2,860 1286.2,860 1285.4,859.4 1285.3,858.5 1285.8,857.5 1286.8,857 1287.8,857Z M1209.7,1000.6 1210,1002.2 1209.8,1003.3 1209.1,1003.5 1208.2,1002.8 1207.4,1001.4 1207.1,999.8 1207.3,998.7 1208,998.5 1208.9,999.2Z M1136,997.2 1135.7,998 1135.1,998.4 1134.4,998.4 1133.8,998 1133.5,997.2 1133.8,996.5 1134.4,996.1 1135.1,996.1 1135.7,996.5Z M1150.2,1000.2 1150,1001.1 1149.4,1001.7 1148.6,1001.7 1148,1001.1 1147.8,1000.2 1148,999.4 1148.6,998.8 1149.4,998.8 1150,999.4Z M1147.2,1006.2 1147,1007.1 1146.4,1007.7 1145.6,1007.7 1145,1007.1 1144.8,1006.2 1145,1005.4 1145.6,1004.8 1146.4,1004.8 1147,1005.4Z M1184.5,1010.5 1184.7,1012.1 1184.4,1013.3 1183.5,1013.6 1182.5,1013 1181.6,1011.6 1181.4,1010 1181.7,1008.8 1182.6,1008.5 1183.6,1009.1Z M1587.5,866.8 1587.2,868 1586.5,868.7 1585.5,868.7 1584.8,868 1584.5,866.8 1584.8,865.5 1585.5,864.8 1586.5,864.8 1587.2,865.5Z M1448.6,811.1 1448.6,812.3 1447.5,813.7 1445.7,814.7 1444,815 1442.9,814.4 1442.9,813.2 1444,811.8 1445.8,810.8 1447.5,810.5Z M1453.8,825.2 1453.4,826.3 1452.4,826.9 1451.1,826.9 1450.1,826.3 1449.7,825.2 1450.1,824.1 1451.1,823.5 1452.4,823.5 1453.4,824.1Z M1462.2,837.8 1462,838.9 1461.2,839.5 1460.3,839.5 1459.5,838.9 1459.2,837.8 1459.5,836.7 1460.3,836.1 1461.2,836.1 1462,836.7Z M1521.3,862.2 1521.1,864 1520.4,865.1 1519.6,865.1 1518.9,864 1518.7,862.2 1518.9,860.5 1519.6,859.4 1520.4,859.4 1521.1,860.5Z M1523.9,851.2 1523.5,852.3 1522.9,853 1522.4,852.9 1522.1,852.1 1522.1,850.8 1522.5,849.7 1523.1,849 1523.6,849.1 1523.9,849.9Z M1612.4,828.5 1611.9,829.7 1610.7,830.5 1609.3,830.5 1608.1,829.7 1607.6,828.5 1608.1,827.3 1609.3,826.5 1610.7,826.5 1611.9,827.3Z M1605.5,825.5 1605.2,826.3 1604.5,826.8 1603.5,826.8 1602.8,826.3 1602.5,825.5 1602.8,824.7 1603.5,824.2 1604.5,824.2 1605.2,824.7Z M1654,832.2 1653.7,832.8 1653.1,833.1 1652.4,833.1 1651.8,832.8 1651.5,832.2 1651.8,831.7 1652.4,831.4 1653.1,831.4 1653.7,831.7Z M1725,828.5 1724.7,829.2 1724.1,829.6 1723.4,829.6 1722.8,829.2 1722.5,828.5 1722.8,827.8 1723.4,827.4 1724.1,827.4 1724.7,827.8Z M1858.3,911.8 1858.1,912.8 1857.6,913.5 1856.9,913.5 1856.4,912.8 1856.2,911.8 1856.4,910.7 1856.9,910 1857.6,910 1858.1,910.7Z M1201.6,1085.9 1202,1088.3 1201.7,1090 1200.9,1090.2 1199.9,1088.9 1199,1086.5 1198.6,1084.1 1198.9,1082.4 1199.7,1082.2 1200.7,1083.5Z M1169.6,1097.4 1168.9,1098.8 1168,1099.5 1167.3,1099.3 1167,1098.2 1167.4,1096.6 1168.1,1095.2 1169,1094.5 1169.7,1094.7 1170,1095.8Z M1129,1069.2 1128.8,1070.8 1128.3,1071.8 1127.7,1071.8 1127.2,1070.8 1127,1069.2 1127.2,1067.7 1127.7,1066.7 1128.3,1066.7 1128.8,1067.7Z M1216.2,1135.2 1216,1136.7 1215.4,1137.5 1214.6,1137.5 1214,1136.7 1213.8,1135.2 1214,1133.8 1214.6,1133 1215.4,1133 1216,1133.8Z M1222.2,1148.8 1222,1149.6 1221.4,1150.2 1220.6,1150.2 1220,1149.6 1219.8,1148.8 1220,1147.9 1220.6,1147.3 1221.4,1147.3 1222,1147.9Z M1227,1167.5 1226.7,1168.6 1226,1169.2 1225,1169.2 1224.3,1168.6 1224,1167.5 1224.3,1166.4 1225,1165.8 1226,1165.8 1226.7,1166.4Z M1206.3,1172 1206,1173.2 1205.1,1174 1203.9,1174 1203,1173.2 1202.7,1172 1203,1170.8 1203.9,1170 1205.1,1170 1206,1170.8Z M1202.6,1164.9 1202,1166 1201.2,1166.5 1200.5,1166.2 1200.2,1165.3 1200.4,1164.1 1201,1163 1201.8,1162.5 1202.5,1162.8 1202.8,1163.7Z M1381.6,1104.8 1380.9,1105.1 1379.8,1104.9 1378.7,1104.3 1378,1103.4 1377.9,1102.7 1378.6,1102.4 1379.7,1102.6 1380.8,1103.2 1381.5,1104.1Z M1408.8,1150.5 1409.3,1152.7 1409.1,1154.2 1408.3,1154.5 1407.2,1153.4 1406.2,1151.5 1405.7,1149.3 1405.9,1147.8 1406.7,1147.5 1407.8,1148.6Z M1665,1064.8 1664.8,1065.6 1664.3,1066.2 1663.7,1066.2 1663.2,1065.6 1663,1064.8 1663.2,1063.9 1663.7,1063.3 1664.3,1063.3 1664.8,1063.9Z M1664.7,1063.8 1665.1,1064.9 1665,1065.9 1664.5,1066.2 1663.6,1065.8 1662.8,1064.8 1662.4,1063.7 1662.5,1062.7 1663,1062.4 1663.9,1062.8Z M1673.3,1112 1673.1,1112.8 1672.4,1113.3 1671.6,1113.3 1670.9,1112.8 1670.7,1112 1670.9,1111.2 1671.6,1110.7 1672.4,1110.7 1673.1,1111.2Z M1682,1071.6 1682.8,1073.1 1682.9,1074.4 1682.3,1074.8 1681.2,1074.3 1680,1072.9 1679.2,1071.4 1679.1,1070.1 1679.7,1069.7 1680.8,1070.2Z M1802.2,1109 1802,1109.7 1801.4,1110.1 1800.6,1110.1 1800,1109.7 1799.8,1109 1800,1108.3 1800.6,1107.9 1801.4,1107.9 1802,1108.3Z M1752.7,1110.5 1752.5,1111.2 1751.7,1111.8 1750.4,1112.3 1749.3,1112.3 1748.8,1112 1749,1111.3 1749.8,1110.7 1751.1,1110.2 1752.2,1110.2Z M1869.2,1184 1868.5,1184.6 1866.7,1185 1864.3,1185 1862.5,1184.6 1861.8,1184 1862.5,1183.4 1864.3,1183 1866.7,1183 1868.5,1183.4Z M1922,1146.5 1921.7,1147.4 1920.8,1147.9 1919.7,1147.9 1918.8,1147.4 1918.5,1146.5 1918.8,1145.6 1919.7,1145.1 1920.8,1145.1 1921.7,1145.6Z" fill="currentColor" stroke="currentColor" stroke-width="1.2"/>
</g>
<g id="geoT"><path d="M1167,597.9 1166.2,600.3 1153.9,602.1 1154.6,604.5 1151.9,606.7 1167.9,609.8 1145.8,611.2 1164,613.3 1151.1,616.9 1166,617.9 1157.6,621 1165.9,622.6 1166.4,625 1162.1,627.8 1159,630.3 1158.6,633 1157.4,635.8 1153.6,639.2 1170,638.5 1152.4,644.6 1154.1,647.5 1164.7,647.3 1158,652 1161.9,653.8 1164,656 M1150.8,597.2 1163.6,600.2 1158.4,602.3 1151.9,604.3 1150.6,606.6 1155.2,609.2 1165.5,612 1160.5,613.6 1156.1,616.4 1155.6,618.8 1153.9,621.4 1160.3,623.2 1147.8,626.7 1166.6,627.3 1154.4,631.2 1160.2,632.7 1156.8,635.9 1162.9,637.3 1153.8,641.7 1149.5,645.2 1161.8,645.3 1153.6,650.5 1153.1,653.4 1158.8,654.6 1164,656 M1167.5,598 1168.4,600.4 1160.2,602.4 1147.7,604.2 1162.3,607.2 1157.7,609.3 1163.6,612 1167.2,613 1155.6,616.5 1150.1,619.3 1166.4,620.2 1160.5,623.1 1168.3,624.8 1167.7,627.2 1149.2,632.3 1150.6,634.6 1166.9,633.9 1166.1,636.7 1150.5,642.4 1154.4,644.2 1171.6,642.5 1156.4,649.6 1161.7,651 1156.7,655.2 1164,656 M1154.4,597.4 1149.8,599.5 1148.2,601.8 1154.6,604.5 1149.8,606.6 1167.2,609.8 1149.9,611.3 1155.1,614.1 1163.2,615.8 1166,617.9 1154.5,621.3 1151.3,624 1152.1,626.3 1147.2,629.1 1156.7,630.8 1166,631.5 1152,636.9 1162.7,637.4 1160,640.5 1163.8,642.3 1165,644.4 1171.7,645.3 1156.7,652.4 1153.3,656.2 1164,656 M1169.7,656.6 1169.5,659.1 1158.7,660.5 1169.8,664.2 1167.5,666.5 1164.5,668.7 1159,671.4 1163.9,673.4 1166.9,675.6 1164.9,678.3 1159.9,681.4 1163.9,683.5 1166.9,685.6 1166.6,688.2 1162.9,691.3 1157.8,694.6 1171.1,695.2 1162.5,699 1169.4,700.5 1160.1,704.3 1161.1,706.5 1174.1,706.6 1166.9,710.1 1170.4,711.9 1168.5,714.5 M1160.5,655.6 1163.7,658.5 1162.7,660.9 1159.4,663.1 1162.1,665.9 1158.3,668.1 1160.1,671.2 1169.5,672.8 1164.1,675.9 1159.8,678.8 1166.2,680.7 1163.5,683.5 1167.5,685.5 1158.3,689.4 1170.9,690.1 1158,694.6 1159.8,696.9 1172.3,697.5 1172.8,699.9 1170.9,702.5 1165.7,705.7 1160.9,708.8 1165.2,710.4 1162.2,713.2 1168.5,714.5 M1163.2,655.9 1156.7,657.8 1161.9,660.8 1168.6,664 1156.2,665.3 1157.4,668 1169,670.3 1169.3,672.8 1167,675.6 1156.4,679.2 1164.9,680.9 1170.2,682.9 1165.9,685.7 1161.2,689 1169.4,690.3 1165.9,693.4 1169.4,695.4 1173.2,697.4 1159.8,702.1 1170,702.7 1172.7,704.5 1174.6,706.5 1162.7,710.8 1172.6,711.5 1168.5,714.5 M1162.6,655.9 1164.4,658.6 1169.4,661.6 1156.5,662.8 1168.2,666.5 1157.1,667.9 1167.5,670.5 1167.3,673 1155.6,676.7 1169.1,677.9 1167.7,680.6 1170.4,682.8 1162.6,686.2 1162.1,688.8 1161.4,691.5 1162.6,693.9 1169,695.5 1172,697.6 1173.4,699.8 1167.1,703.2 1170.9,704.8 1168.9,707.5 1167.8,710 1162.9,713.1 1168.5,714.5 M1162.9,700.4 1165,701.9 1164.2,705.5 1166.3,707 1169.1,708 1169.2,710.9 1168.6,714.3 1172.4,714.7 1174.3,716.5 1175,719.1 1177.5,720.5 1175.7,724.7 1180.5,724.7 1178,728.7 1183,729.3 1182.3,732 1181.6,734.6 1184.7,735.9 1185.3,738.1 1185.6,740.3 1185.4,742.8 1184.1,745.1 1188.4,747.3 1188.7,749.8 1186.1,752.5 1187.4,754.9 1187.8,757.4 1186.1,759.8 1187.1,762.4 1184,764.4 1187.8,767.5 1187,769.8 1185,772 M1162.5,700.7 1163,703.3 1164.6,705.2 1164.4,708.3 1166.1,710.1 1169.6,710.6 1168.8,714.2 1171.4,715.3 1173.4,717.1 1174,719.7 1175.6,721.7 1178.2,723.1 1180.1,725 1178,728.7 1182.2,729.6 1181,732.4 1183.2,734.1 1183.7,736.2 1182.4,739.1 1185.9,740.2 1185,742.9 1184.9,745 1187.2,747.4 1185.3,750 1187.9,752.4 1188.1,754.9 1188.7,757.3 1184.7,759.6 1184.6,762 1185.3,764.6 1184,766.9 1186.8,769.8 1185,772 M1163,700.3 1162.4,703.7 1165.2,704.7 1168.2,705.6 1166.4,709.9 1169.6,710.6 1171.2,712.5 1170.1,716.1 1173.6,717 1174.8,719.2 1177.7,720.4 1176.2,724.4 1177.4,726.6 1179.7,728.1 1181.6,729.8 1182.8,731.8 1182.1,734.4 1181.5,737 1184.5,738.3 1182.8,741.3 1185.8,742.7 1186.9,744.9 1185.2,747.5 1184.1,750.1 1185.3,752.5 1184.3,755.1 1185.7,757.5 1187.3,760 1186.3,762.3 1185.6,764.7 1185.7,767.1 1184.7,769.4 1185,772 M1162.9,700.4 1162.1,703.9 1164.5,705.3 1165.6,707.5 1168.1,708.7 1170.2,710.2 1171.7,712.2 1173.1,714.2 1172.1,717.9 1173.2,720.2 1175.8,721.6 1177.2,723.7 1180.2,724.9 1181.2,727.6 1181.8,729.8 1180.7,732.5 1182.5,734.3 1181,737.2 1184.5,738.3 1183.1,741.2 1187.3,742.1 1187.9,744.8 1186.4,747.4 1186.3,750 1188.7,752.3 1186.8,754.9 1184.7,757.6 1186.6,759.9 1187.4,762.5 1187.3,764.9 1184.3,766.9 1184.8,769.5 1185,772 M1151.7,716.1 1153,718.1 1154.7,719.9 1154.4,722.5 1154.2,725.1 1157.7,726.2 1156.3,729.2 1159,730.5 1160.1,732.6 1159.2,735.8 1162.5,736.8 1163,739.2 1163,741.9 1164,744.1 1166.3,745.5 1166.5,748.2 1167.3,750.4 1170.4,751.3 1169.9,754.4 1172.3,755.7 1173,758 M1152.8,715.7 1152.4,718.3 1153.8,720.2 1154.8,722.3 1156.6,724.1 1156,726.8 1157.6,728.7 1159.3,730.3 1158.2,733.6 1158.9,735.9 1160.9,737.6 1163.4,739 1163.2,741.8 1165.5,743.3 1165,746.3 1167,747.8 1168.2,749.9 1169.4,751.9 1170.8,753.8 1172.8,755.3 1173,758 M1152.8,715.7 1152.2,718.4 1152.6,720.8 1153.6,722.8 1154.5,724.9 1157.6,726.2 1156,729.3 1159,730.5 1159,733.2 1160.3,735.2 1161.7,737.2 1163.3,739.1 1162.4,742.2 1165.5,743.3 1164.8,746.5 1167.2,747.7 1167.8,750.1 1168.9,752.2 1171.5,753.4 1172.1,755.8 1173,758 M1152.3,715.9 1152.8,718.2 1152.9,720.6 1153.9,722.7 1154.4,725 1156.7,726.6 1156,729.3 1159,730.5 1160,732.7 1159.3,735.7 1161.3,737.4 1163.4,739 1163.4,741.7 1164.4,743.9 1164.3,746.7 1165.6,748.7 1167.3,750.4 1169.4,751.9 1171.6,753.3 1172.9,755.3 1173,758" fill="none" stroke="currentColor" stroke-width="1.7" stroke-linejoin="round"/></g>
</defs>
<g clip-path="url(#clipL)">
<g filter="url(#wob)">
<rect x="55" y="590" width="890" height="650" fill="#FFDEAD"/>
<path d="M55,590 140,590 135,640 137,680 133,714.5 134.5,723.5 139,734.8 143.5,744.5 148,753.5 148,758 147.2,761 146.5,776 144.2,787 140.5,798.5 136.8,804.5 131.5,815 127,822.5 121,830 116.5,836 114.2,845 112,855.5 107.5,864.5 103,870.5 102.2,878 103,887 100.8,896 102.2,905 104.5,911 106,920 105.2,929 107.5,935 105.2,941 106,948.5 109,956 112,965 111.2,972.5 115,977 122.5,981.5 128.5,987.5 134.5,993.5 139,999.5 143.5,1007 145,1019 144.2,1014.5 146.5,1028 148.8,1040 150.2,1052 151,1064 154,1073 160,1082 164.5,1091 167.5,1098.5 164.5,1104.5 158.5,1106 152.5,1105.2 155.5,1110.5 161.5,1118 167.5,1125.5 173.5,1127 178,1133 182.5,1139 187,1146.5 187.8,1155.5 184,1161.5 182.5,1167.5 187,1173.5 193,1178 199,1185.5 205,1193 210.2,1200.5 211.8,1207.2 217,1205.8 223,1200.5 221.5,1194.5 218.5,1188.5 219.2,1181 214,1181 209.5,1182.5 206.5,1176.5 207.2,1169 205,1160 202,1151 200.5,1142 197.5,1134.5 193,1127 190,1119.5 185.5,1112 184,1103 181,1094 176.5,1083.5 172,1073 169.8,1064 169,1053.5 172,1040 176.5,1043 182.5,1047.5 190,1052 194.5,1056.5 193,1064 194.5,1073 197.5,1082 199,1091 202,1100 208,1109 212.5,1115 219.2,1119.5 218.5,1127 224.5,1134.5 229,1140.5 235,1148 230.5,1154 232,1160 238,1164.5 244,1170.5 250,1178 256,1185.5 262,1194.5 268,1203.5 274,1212.5 281.5,1221.8 283,1232 55,1232Z M416.5,1232 417,1229 416.2,1211 415.5,1196 417,1181 422.2,1172 423,1166 421.5,1157 418.5,1148 417.8,1139 420,1130 426,1124 432,1119.5 439.5,1116.5 445.5,1112 451.5,1106 457.5,1101.5 465,1097 472.5,1094.8 481.5,1094 490.5,1095.5 496.5,1094 502.5,1094 508.5,1098.5 516,1100 522,1095.5 525,1100 529.5,1092.5 535.5,1094 539.2,1097 537.8,1091 532.5,1089.5 531,1085 538.5,1085 541.5,1082 537,1077.5 529.5,1080.5 522,1083.5 516.8,1080.5 522,1078.2 531,1076 540,1073 550.5,1070 562.5,1067.8 574.5,1065.5 583.5,1067 589.5,1071.5 595.5,1073.8 601.5,1070 606,1064 613.5,1064 622.5,1070 630,1076 634.5,1082 636,1091 637.5,1097 641,1097 647,1101.5 653,1106 659,1112 666.5,1119.5 672.5,1125.5 677,1130 683,1129.2 687.5,1124 687.5,1115 684.5,1106 680,1097 672.5,1086.5 665,1076 657.5,1065.5 648.5,1053.5 641,1043 640.5,1040 639.8,1028 642,1014.5 641,1015.2 648.5,1005.5 653,996.5 657.5,986 663.5,977 669.5,974 672.5,968 675.5,962 678.5,959 683,956 686,948.5 690.5,944 689,938 684.5,932 678.5,926 674,921.5 671,917 672.5,911 674.8,903.5 674,896 674.8,884 675.5,873.5 674.8,866 671,861.5 668,855.5 669.5,851 675.5,848 681.5,843.5 687.5,839 690.5,836 692,831.5 698,828.5 702.5,825.5 704,821 699.5,818.8 693.5,819.5 689,813.5 687.5,804.5 686,809 689,797 693.5,789.5 695,782 699.5,777.5 705.5,771.5 708.5,765.5 704,762.5 708.5,759.5 713,753.5 716,746 719,737.8 720.5,740 723.5,743.8 723.5,743.8 720.2,752 717.5,761 718.7,768.5 723.5,771.8 728.8,773.3 733.2,771.5 734.3,762.5 736.2,753.5 741.5,747.5 747.5,738.5 751.2,731 752.8,723.5 752.8,723.5 755,716 757.2,707.8 750.5,707 746,699.5 742.2,701 744.5,707 747.5,713 749.8,720.5 752.8,723.5 747.5,725 740,728 732.5,731 723.5,733.2 714.5,732.5 708.5,729.5 704,725 702.5,714.5 695,719 686,720.5 684.5,723.5 693.5,720.5 696.5,716 700.2,710 698.8,703.2 692,699.5 684.5,702.5 677,710 671,719 665,731 662,743 661.2,753.5 657.5,764 651.5,776 645.5,788 641,797 641,792.5 647,780.5 653,768.5 658.2,758 659.8,747.5 659,737 662,725 666.5,714.5 665,707 668,698 675.5,689 686,681.5 695,674 705.5,668 714.5,660.5 716.8,645.5 720.5,635 725,626 726.5,615.5 714.5,605 702.5,603.5 692,600.5 692,590 940,590 940,1232Z M436,590 435.8,596 433.5,603.5 426,608 421.5,618.5 417,630.5 414.8,642.5 415.5,654.5 420,663.5 427.5,662 430.5,671 434.2,684.5 442.5,681.5 451.5,681.5 462,683.8 471,689 477,692 487.5,694.2 495,697.2 502.5,695 511.5,694.2 519,695 520.5,704 525,711.5 526.5,720.5 532.5,728 541.5,732.5 547.5,737 552,738.5 556.5,735.5 561,729.5 559.5,720.5 555,713 549,702.5 543,695 539.2,692 546,686 550.5,677 552.8,666.5 552,656 547.5,647 540,641 531,638.8 528,635 530.2,623 528,617 522,609.5 519,596 519,590Z M483,804.5 480,807.5 472.5,812 466.5,818 460.5,824 457.5,828.5 463.5,829.2 469.5,825.5 472.5,828.5 480,827 486,822.5 490.5,816.5 496.5,812 498.8,812 495,818 492,821 499.5,819.5 505.5,821.8 511.5,821 517.5,818 523.5,815 528,813.5 531,815 528,812 517.5,804.5 517.5,809 514.5,801.5 510,795.5 505.5,789.5 496.5,790.2 489,791 483,797 480,809Z M511.5,831.5 517.5,830 525,827 531,825.5 532.5,830 528,836 524.2,843.5 522.8,854 525,863 528.8,872 530.2,881 528,890 522,894.5 516.8,891.5 513,881 510,869 509.2,858.5 511.5,848 514.5,840.5 511.5,834.5Z M532.5,825.5 541.5,825.5 549,828.5 553.5,836 555,845 552,849.5 551.2,854 554.2,855.5 559.5,848 562.5,846.5 565.5,851 570,857 573,855.5 574.5,846.5 573,836 576,831.5 583.5,828.5 586.5,825.5 580.5,821 574.5,815 565.5,813.5Z M564,881 567,876.5 574.5,872 582,866 591,861.5 598.5,857 604.5,849.5 606,852.5 601.5,861.5 594,869 586.5,876.5 577.5,882.5 570,884Z M595.5,843.5 600,837.5 607.5,831.5 616.5,827 624,822.5 628.5,822.5 627.8,830 621,836 612,840.5 604.5,845 598.5,846.5Z M387.8,731.8 394.5,729.5 397.5,738.5 402,750.5 406.5,761 411,768.5 411.8,776 408.8,781.2 405.8,776 406.5,768.5 402,761 397.5,758 393,752 388.5,744.5 386.2,737Z M281.5,596 286,603.5 290.5,611 296.5,615.5 302.5,611 310,605 317.5,602 325,605 323.5,608 316,609.5 308.5,614 301,620 293.5,623.8 284.5,623 275.5,621.5 268,617 266.5,613.2 272.5,615.5 280,618.5 287.5,617 284.5,611 278.5,605 278.5,596Z M301,657.5 308.5,653 314.5,647.8 320.5,651.5 329.5,653 340,655.2 332.5,654.8 323.5,654.8 316,654.2 310,656.3 302.5,660.2Z M531,815 538.5,818 547.5,817.2 555,815.8 562.5,815 565.5,816.5 564,821 555,821.8 546,821 538.5,821Z" fill="#fff"/>
<path d="M731,621.5 728.8,630.5 732.5,641 735.5,651.5 738.5,662 740,671 738.5,674 741.5,680 746,685.2 753.5,680 761,672.5 768.5,666.5 773,660.5 777.5,656 774.5,669.5 773,674 777.5,673.2 780.5,662 779.8,654.5 783.5,645.5 786.5,641 790.2,645.5 788.8,656 792.5,657.5 798.5,651.5 799.2,647 795.5,641 791,639.5 788,635 783.5,636.5 780.5,633.5 777.5,635 774.5,639.5 770,632 762.5,629.8 758,636.5 753.5,633.5 747.5,638 744.5,642.5 740,639.5 738.5,630.5 735.5,626 732.5,622.2Z M713.8,722 720.5,725 728,723.5 734,717.5 736.2,720.5 732.5,726.5 725,729.5 717.5,728.8 713.8,725Z M686.8,689 693.5,684.5 702.5,683 711.5,682.2 713,684.5 707,688.2 698,690.5 689,691.2Z M641,1190.8 648.5,1182.5 657.5,1175 669.5,1169 681.5,1166 693.5,1163.8 705.5,1162.2 717.5,1163.8 726.5,1162.2 735.5,1160.8 747.5,1163 756.5,1166 765.5,1167.5 774.5,1168.2 783.5,1167.5 790.2,1166 792.5,1170.5 800,1169 807.5,1168.2 816.5,1169 821,1169 815,1175 807.5,1181 798.5,1185.5 789.5,1190 780.5,1194.5 771.5,1199 767,1200.5 770,1191.5 768.5,1185.5 759.5,1187 752,1188.5 746,1184 740,1178 732.5,1179.5 723.5,1182.5 714.5,1181 705.5,1179.5 696.5,1182.5 689,1184 681.5,1182.5 680,1178 672.5,1179.5 663.5,1184 656,1191.5 648.5,1199 641,1205Z M836,1171.2 842,1161.5 852.5,1155.5 864.5,1149.5 876.5,1145 888.5,1143.5 897.5,1145 903.5,1148 912.5,1145 921.5,1145 926,1148 924.5,1154 915.5,1158.5 906.5,1164.5 897.5,1172 890,1178 887,1184 885.5,1190 881,1190 876.5,1185.5 870.5,1181 864.5,1185.5 857,1190 849.5,1194.5 843.5,1199 842,1204.2 834.5,1203.5 829.2,1202.8 830,1197.5 837.5,1194.5 846.5,1191.5 855.5,1187 860,1182.5 852.5,1181 851,1175 849.5,1172 842,1170.5Z M721.2,1114.2 726.5,1118 732.5,1122.5 738.5,1130 740,1134.5 737,1135.2 731,1130 725,1127 722,1121Z M669.5,854 677,848 686,842 689,841.2 687.5,845 680,851 672.5,856.2 669.5,857.8Z M121.8,653 128.5,655.2 132.2,659 128.5,663.5 127,671 124,680 122.5,687.5 120.2,686 121,674 119.5,663.5 120.2,656Z" fill="#FFDEAD"/>
<svg x="62" y="596" width="300" height="210" viewBox="0 0 2000 1400" preserveAspectRatio="none">
<path d="M-10,-10 1060,-10 1080,80 1100,150 1100,210 1050,200 1000,230 990,300 960,380 930,400 880,350 840,330 790,400 760,460 720,480 690,540 650,600 640,680 610,760 570,830 520,880 480,950 420,975 360,970 330,900 300,830 250,780 200,730 150,680 100,640 50,600 -10,560Z" fill="#FFFF00"/>
<path d="M20,30 60,25 70,60 30,70Z" fill="#FFFFFF"/>
<path d="M300,30 360,25 390,80 400,140 380,180 340,150 320,90Z" fill="#FFFFFF"/>
<path d="M440,-10 1060,-10 1040,80 980,140 980,240 960,340 930,390 900,330 860,260 820,210 780,250 800,300 780,340 740,380 720,440 690,500 660,560 640,640 620,700 560,740 540,800 500,860 480,900 420,900 360,880 350,820 330,760 300,700 280,640 250,580 220,520 210,460 260,440 320,420 370,380 400,300 430,220 440,120Z" fill="#FFCC00"/>
<path d="M580,-10 1040,-10 1030,60 1000,100 960,150 975,240 960,330 940,380 910,330 870,270 830,210 790,160 760,110 730,60 700,80 680,130 640,160 620,220 640,300 700,330 730,370 700,430 680,500 650,560 630,640 600,700 560,720 520,780 500,760 490,680 500,600 480,520 450,460 420,400 440,340 470,280 500,220 540,160 570,90Z" fill="#FF9900"/>
<path d="M760,-10 880,-10 920,60 960,120 950,160 900,120 850,70 800,40Z" fill="#FFCC00"/>
<path d="M400,400 460,380 500,440 480,520 470,600 440,620 400,600 380,520Z" fill="#FFCC00"/>
<path d="M420,430 460,420 470,500 450,580 420,590 410,500Z" fill="#FFFF00"/>
<path d="M435,460 450,455 455,520 440,530Z" fill="#FFFFFF"/>
<path d="M920,520 960,490 1000,520 1040,580 1050,660 1040,740 1000,800 940,830 900,800 880,740 890,660 900,580Z" fill="#FFFF00"/>
<path d="M940,560 980,545 1010,600 1020,680 990,720 950,700 930,630Z" fill="#FFCC00"/>
</svg>
<svg x="352" y="596" width="300" height="210" viewBox="0 0 2000 1400" preserveAspectRatio="none">
<path d="M190,25 300,20 500,20 700,20 860,25 900,60 940,110 1020,160 1100,210 1170,280 1230,350 1270,430 1280,520 1260,600 1240,680 1200,750 1130,810 1100,880 1060,940 1000,990 920,1050 840,1100 760,1120 680,1150 600,1170 540,1160 480,1120 440,1060 420,980 380,900 340,820 300,720 270,620 240,520 220,420 200,320 180,200 170,100Z" fill="#FFFF00"/>
<path d="M300,100 340,60 440,40 560,30 680,50 760,90 820,150 900,180 980,230 1060,260 1120,320 1180,400 1220,480 1230,560 1200,640 1160,700 1100,740 1080,680 1000,660 940,650 860,640 800,620 720,580 640,560 580,580 540,560 500,500 460,470 430,420 420,340 400,280 340,260 290,200Z" fill="#FFCC00"/>
<path d="M540,620 600,590 700,600 800,640 900,670 1000,680 1090,700 1100,780 1060,860 1000,940 920,1000 840,1050 760,1080 680,1090 600,1070 560,1020 520,960 500,880 490,800 500,720 520,660Z" fill="#FFCC00"/>
<path d="M470,180 520,150 600,160 680,190 740,240 780,300 840,340 900,380 920,430 880,450 830,420 780,370 720,320 660,290 600,280 540,260 490,230Z" fill="#FF9900"/>
<path d="M870,600 920,590 980,620 1000,650 950,650 900,630Z" fill="#FF9900"/>
<path d="M780,800 830,790 880,820 870,840 810,830Z" fill="#FF9900"/>
</svg>
<svg x="62" y="806" width="300" height="210" viewBox="0 0 2000 1400" preserveAspectRatio="none">
<path d="M1280,680 1300,620 1340,590 1400,600 1440,560 1430,490 1470,460 1530,450 1590,460 1610,510 1640,540 1700,530 1760,560 1810,580 1820,640 1810,700 1780,740 1720,760 1700,790 1710,880 1700,900 1670,900 1660,800 1640,760 1600,720 1560,690 1530,720 1510,760 1470,780 1440,820 1420,800 1430,760 1400,740 1360,720 1310,700Z" fill="#FFFF00"/>
<path d="M1440,680 1480,640 1540,640 1560,600 1600,570 1660,560 1720,580 1740,620 1700,640 1640,640 1600,660 1560,680 1520,700 1470,710Z" fill="#FFCC00"/>
<path d="M1660,680 1720,670 1740,720 1700,750 1660,730Z" fill="#FFCC00"/>
<path d="M1290,810 1340,800 1400,810 1420,840 1380,860 1330,860 1295,840Z" fill="#FFFF00"/>
<path d="M1160,870 1190,850 1200,890 1170,910Z" fill="#FFFF00"/>
<path d="M1080,895 1110,885 1115,910 1085,915Z" fill="#FFFF00"/>
<path d="M1570,330 1590,320 1620,370 1605,385Z" fill="#FFFF00"/>
</svg>
<svg x="352" y="806" width="300" height="210" viewBox="0 0 2000 1400" preserveAspectRatio="none">
<path d="M210,640 230,590 260,560 330,520 400,470 440,440 480,420 520,400 580,380 620,350 680,340 760,340 800,360 840,390 900,380 900,440 930,470 920,520 880,560 870,620 820,660 760,690 700,700 660,720 650,780 600,820 550,850 510,830 500,780 490,730 460,710 400,700 340,710 280,710 230,690Z" fill="#FFFF00"/>
<path d="M300,620 320,580 380,540 440,510 500,490 560,480 600,500 620,540 600,580 560,600 520,640 470,660 420,650 360,660 320,650Z" fill="#FFCC00"/>
<path d="M440,880 480,870 505,900 490,935 450,925Z" fill="#FFFF00"/>
<path d="M1690,330 1720,280 1800,240 1880,180 1950,120 2010,90 2010,400 1960,410 1900,400 1850,430 1800,470 1780,530 1750,530 1720,490 1700,420Z" fill="#FFFF00"/>
<path d="M1830,250 1880,220 1950,190 2010,170 2010,290 1960,300 1900,310 1850,300Z" fill="#FFCC00"/>
<path d="M290,1360 340,1340 400,1340 420,1360 380,1380 310,1385Z" fill="#FFFF00"/>
</svg>
<svg x="642" y="806" width="300" height="210" viewBox="0 0 2000 1400" preserveAspectRatio="none">
<path d="M-10,100 60,80 140,70 220,60 300,60 380,70 440,50 500,35 580,30 630,35 620,70 560,110 480,130 420,150 380,190 320,230 260,270 200,300 140,330 80,380 30,410 -10,410Z" fill="#FFFF00"/>
<path d="M-10,150 60,160 110,200 90,260 40,290 -10,300Z" fill="#FFCC00"/>
</svg>
<svg x="352" y="1016" width="300" height="210" viewBox="0 0 2000 1400" preserveAspectRatio="none">
<path d="M1600,850 1640,840 1720,870 1780,890 1830,920 1880,960 1900,1000 1860,1040 1800,1050 1780,1100 1740,1130 1700,1100 1710,1060 1660,1030 1670,980 1700,940 1640,910 1610,880Z" fill="#FFFF00"/>
<path d="M1550,1050 1600,1060 1640,1100 1680,1150 1740,1190 1800,1230 1860,1270 1920,1250 1980,1210 2010,1200 2010,1420 1600,1420 1590,1360 1580,1300 1600,1240 1560,1200 1540,1140 1545,1090Z" fill="#FFFF00"/>
<path d="M1740,1290 1800,1270 1860,1290 1920,1310 1960,1280 2010,1250 2010,1420 1900,1420 1860,1360 1780,1330Z" fill="#FFCC00"/>
<path d="M330,1340 370,1320 410,1340 420,1390 340,1390Z" fill="#FFFF00"/>
<path d="M190,1240 212,1240 212,1262 190,1262Z" fill="#FFFF00"/>
</svg>
<svg x="642" y="1016" width="300" height="210" viewBox="0 0 2000 1400" preserveAspectRatio="none">
<path d="M-10,1170 60,1180 140,1170 220,1180 300,1200 360,1230 380,1280 340,1330 310,1380 300,1420 -10,1420Z" fill="#FFFF00"/>
<path d="M-10,1250 40,1240 80,1280 120,1340 140,1420 -10,1420Z" fill="#FFCC00"/>
<path d="M150,1200 200,1190 230,1220 210,1260 160,1260Z" fill="#FFCC00"/>
<path d="M165,1212 198,1208 210,1228 195,1248 168,1245Z" fill="#FFFF00"/>
<path d="M625,835 670,815 715,825 700,850 650,860Z" fill="#FFFF00"/>
<path d="M50,1000 90,995 110,1010 60,1015Z" fill="#FFFF00"/>
<path d="M240,1040 300,1030 340,1050 320,1090 260,1085Z" fill="#FFFF00"/>
<path d="M670,1100 720,1105 730,1130 680,1130Z" fill="#FFFF00"/>
<path d="M930,1270 980,1220 1040,1190 1100,1200 1120,1250 1080,1290 1020,1310 960,1320Z" fill="#FFFF00"/>
<path d="M960,1290 1000,1250 1040,1225 1080,1235 1040,1275 1000,1300Z" fill="#FFCC00"/>
<path d="M1620,850 1680,840 1720,880 1700,940 1720,990 1690,1010 1650,990 1630,930Z" fill="#FFFF00"/>
<path d="M1740,850 1800,840 1860,850 1920,870 1920,920 1870,900 1800,880 1750,880Z" fill="#FFFF00"/>
<path d="M1720,1040 1760,1000 1790,1020 1780,1100 1750,1160 1710,1170 1710,1100Z" fill="#FFFF00"/>
<path d="M1620,1180 1645,1170 1640,1220 1620,1235Z" fill="#FFFF00"/>
</svg>
</g>
<g filter="url(#wob)"><use href="#geo" color="#8e8e8e" transform="translate(-1017.5,0)"/><use href="#geoT" color="#a8a27c" opacity="0.75" transform="translate(-1017.5,0)"/></g>
<g filter="url(#soft2)">
<path d="M-928.7,490.4 -906,486.4 -883.6,482.4 -861.6,478.5 -839.9,474.7 -818.5,470.9 -797.4,467.2 -776.7,463.6 -756.2,459.9 -736,456.4 -716.1,452.9 -696.4,449.4 -677,446 -657.9,442.6 -639,439.3 -620.3,436 -601.8,432.7 -583.6,429.5 -565.6,426.3 -547.8,423.2 -530.2,420.1 -512.8,417 -495.6,414 -478.5,411 -461.7,408 -445,405.1 -428.5,402.2 -412.1,399.3 -395.9,396.4 -379.8,393.6 -363.9,390.8 -348.2,388 -332.6,385.3 -317.1,382.5 -301.7,379.8 -286.5,377.1 -271.4,374.5 -256.4,371.8 -241.6,369.2 -226.8,366.6 -212.2,364 -197.6,361.5 -183.2,358.9 -168.9,356.4 -154.6,353.9 -140.5,351.4 -126.4,348.9 -112.5,346.4 -98.6,344 -84.8,341.6 -71,339.1 -57.4,336.7 -43.8,334.3 -30.3,331.9 -16.8,329.6 -3.5,327.2 9.9,324.9 23.1,322.5 36.3,320.2 49.5,317.9 62.5,315.6 75.6,313.3 88.6,311 101.5,308.7 114.4,306.4 127.3,304.2 140.1,301.9 152.9,299.7 165.6,297.4 178.4,295.2 191,292.9 203.7,290.7 216.3,288.5 228.9,286.2 241.5,284 254.1,281.8 266.6,279.6 279.1,277.4 291.6,275.2 304.1,273 316.6,270.8 329.1,268.6 341.5,266.4 354,264.2 M-771,923.7 -751,912.1 -731.3,900.8 -711.9,889.6 -692.9,878.6 -674.1,867.7 -655.5,857 -637.3,846.5 -619.3,836.1 -601.5,825.8 -584,815.7 -566.7,805.7 -549.7,795.9 -532.8,786.2 -516.2,776.6 -499.8,767.1 -483.5,757.7 -467.5,748.5 -451.7,739.3 -436,730.3 -420.5,721.4 -405.2,712.5 -390.1,703.8 -375.1,695.1 -360.3,686.6 -345.6,678.1 -331.1,669.7 -316.7,661.4 -302.4,653.2 -288.3,645 -274.3,637 -260.5,629 -246.8,621 -233.1,613.2 -219.6,605.4 -206.3,597.6 -193,590 -179.8,582.4 -166.7,574.8 -153.8,567.3 -140.9,559.9 -128.1,552.5 -115.4,545.2 -102.8,537.9 -90.3,530.7 -77.8,523.5 -65.5,516.4 -53.2,509.3 -41,502.2 -28.8,495.2 -16.8,488.2 -4.8,481.3 7.2,474.4 19.1,467.5 30.9,460.7 42.7,453.9 54.4,447.2 66,440.4 77.6,433.7 89.2,427.1 100.7,420.4 112.2,413.8 123.6,407.2 135,400.6 146.3,394.1 157.6,387.5 168.9,381 180.1,374.5 191.4,368.1 202.5,361.6 213.7,355.2 224.8,348.8 235.9,342.3 247,335.9 258.1,329.6 269.1,323.2 280.1,316.8 291.2,310.5 302.1,304.1 313.1,297.8 324.1,291.4 335.1,285.1 346,278.8 357,272.4 M-474.6,1276.9 -459.7,1259.2 -445.1,1241.8 -430.8,1224.7 -416.6,1207.8 -402.6,1191.2 -388.9,1174.8 -375.3,1158.7 -362,1142.7 -348.8,1127 -335.8,1111.5 -323,1096.2 -310.3,1081.2 -297.8,1066.3 -285.5,1051.6 -273.3,1037 -261.2,1022.7 -249.3,1008.5 -237.6,994.5 -226,980.6 -214.5,966.9 -203.1,953.4 -191.9,940 -180.7,926.8 -169.7,913.6 -158.8,900.7 -148.1,887.8 -137.4,875.1 -126.8,862.5 -116.3,850 -106,837.6 -95.7,825.4 -85.5,813.2 -75.4,801.2 -65.4,789.2 -55.4,777.4 -45.6,765.7 -35.8,754 -26.1,742.4 -16.5,731 -6.9,719.6 2.6,708.3 12,697 21.4,685.9 30.7,674.8 39.9,663.8 49.1,652.9 58.2,642 67.3,631.2 76.3,620.5 85.2,609.8 94.1,599.2 103,588.6 111.8,578.1 120.6,567.6 129.3,557.2 138,546.9 146.7,536.6 155.3,526.3 163.9,516.1 172.4,505.9 180.9,495.7 189.4,485.6 197.9,475.6 206.3,465.5 214.7,455.5 223,445.6 231.4,435.6 239.7,425.7 248,415.8 256.3,405.9 264.5,396.1 272.8,386.3 281,376.5 289.2,366.7 297.4,356.9 305.6,347.2 313.8,337.4 321.9,327.7 330.1,318 338.2,308.3 346.4,298.6 354.5,288.9 362.6,279.2 M-75.2,1507.5 -67.3,1485.8 -59.6,1464.5 -51.9,1443.4 -44.4,1422.7 -36.9,1402.3 -29.6,1382.2 -22.4,1362.4 -15.3,1342.9 -8.3,1323.6 -1.4,1304.6 5.4,1285.9 12.2,1267.3 18.8,1249.1 25.4,1231 31.9,1213.2 38.3,1195.6 44.6,1178.2 50.9,1161 57.1,1144 63.2,1127.2 69.2,1110.6 75.2,1094.2 81.1,1077.9 87,1061.9 92.8,1045.9 98.5,1030.2 104.2,1014.6 109.8,999.1 115.4,983.8 120.9,968.6 126.4,953.6 131.8,938.7 137.2,923.9 142.5,909.3 147.8,894.7 153,880.3 158.3,866 163.4,851.8 168.5,837.8 173.6,823.8 178.7,809.9 183.7,796.2 188.7,782.5 193.6,768.9 198.5,755.4 203.4,742 208.3,728.6 213.1,715.4 217.9,702.2 222.6,689.1 227.4,676.1 232.1,663.1 236.8,650.2 241.5,637.4 246.1,624.6 250.7,611.9 255.3,599.3 259.9,586.7 264.5,574.2 269,561.7 273.6,549.2 278.1,536.8 282.6,524.5 287,512.2 291.5,499.9 296,487.7 300.4,475.5 304.8,463.3 309.2,451.2 313.7,439.1 318,427 322.4,414.9 326.8,402.9 331.2,390.9 335.5,378.9 339.9,367 344.2,355 348.6,343.1 352.9,331.2 357.3,319.2 361.6,307.3 365.9,295.5 370.2,283.6 M378.9,1587.6 378.9,1564.5 378.9,1541.8 378.9,1519.4 378.9,1497.4 378.9,1475.7 378.9,1454.3 378.9,1433.2 378.9,1412.4 378.9,1391.9 378.9,1371.7 378.9,1351.7 378.9,1332 378.9,1312.6 378.9,1293.4 378.9,1274.4 378.9,1255.7 378.9,1237.2 378.9,1218.9 378.9,1200.8 378.9,1182.9 378.9,1165.2 378.9,1147.7 378.9,1130.4 378.9,1113.3 378.9,1096.4 378.9,1079.6 378.9,1063 378.9,1046.5 378.9,1030.2 378.9,1014.1 378.9,998.1 378.9,982.2 378.9,966.5 378.9,950.9 378.9,935.5 378.9,920.1 378.9,904.9 378.9,889.8 378.9,874.9 378.9,860 378.9,845.2 378.9,830.6 378.9,816 378.9,801.6 378.9,787.2 378.9,772.9 378.9,758.7 378.9,744.6 378.9,730.6 378.9,716.7 378.9,702.8 378.9,689 378.9,675.3 378.9,661.6 378.9,648.1 378.9,634.5 378.9,621.1 378.9,607.7 378.9,594.3 378.9,581 378.9,567.8 378.9,554.6 378.9,541.5 378.9,528.4 378.9,515.3 378.9,502.3 378.9,489.3 378.9,476.4 378.9,463.4 378.9,450.6 378.9,437.7 378.9,424.9 378.9,412.1 378.9,399.3 378.9,386.6 378.9,373.8 378.9,361.1 378.9,348.4 378.9,335.7 378.9,323.1 378.9,310.4 378.9,297.7 378.9,285.1 M833,1507.5 825.1,1485.8 817.4,1464.5 809.7,1443.4 802.2,1422.7 794.7,1402.3 787.4,1382.2 780.2,1362.4 773.1,1342.9 766.1,1323.6 759.2,1304.6 752.4,1285.9 745.6,1267.3 739,1249.1 732.4,1231 725.9,1213.2 719.5,1195.6 713.2,1178.2 706.9,1161 700.7,1144 694.6,1127.2 688.6,1110.6 682.6,1094.2 676.7,1077.9 670.8,1061.9 665,1045.9 659.3,1030.2 653.6,1014.6 648,999.1 642.4,983.8 636.9,968.6 631.4,953.6 626,938.7 620.6,923.9 615.3,909.3 610,894.7 604.8,880.3 599.5,866 594.4,851.8 589.3,837.8 584.2,823.8 579.1,809.9 574.1,796.2 569.1,782.5 564.2,768.9 559.3,755.4 554.4,742 549.5,728.6 544.7,715.4 539.9,702.2 535.2,689.1 530.4,676.1 525.7,663.1 521,650.2 516.3,637.4 511.7,624.6 507.1,611.9 502.5,599.3 497.9,586.7 493.3,574.2 488.8,561.7 484.2,549.2 479.7,536.8 475.2,524.5 470.8,512.2 466.3,499.9 461.8,487.7 457.4,475.5 453,463.3 448.6,451.2 444.1,439.1 439.8,427 435.4,414.9 431,402.9 426.6,390.9 422.3,378.9 417.9,367 413.6,355 409.2,343.1 404.9,331.2 400.5,319.2 396.2,307.3 391.9,295.5 387.6,283.6 M1232.4,1276.9 1217.5,1259.2 1202.9,1241.8 1188.6,1224.7 1174.4,1207.8 1160.4,1191.2 1146.7,1174.8 1133.1,1158.7 1119.8,1142.7 1106.6,1127 1093.6,1111.5 1080.8,1096.2 1068.1,1081.2 1055.6,1066.3 1043.3,1051.6 1031.1,1037 1019,1022.7 1007.1,1008.5 995.4,994.5 983.8,980.6 972.3,966.9 960.9,953.4 949.7,940 938.5,926.8 927.5,913.6 916.6,900.7 905.9,887.8 895.2,875.1 884.6,862.5 874.1,850 863.8,837.6 853.5,825.4 843.3,813.2 833.2,801.2 823.2,789.2 813.2,777.4 803.4,765.7 793.6,754 783.9,742.4 774.3,731 764.7,719.6 755.2,708.3 745.8,697 736.4,685.9 727.1,674.8 717.9,663.8 708.7,652.9 699.6,642 690.5,631.2 681.5,620.5 672.6,609.8 663.7,599.2 654.8,588.6 646,578.1 637.2,567.6 628.5,557.2 619.8,546.9 611.1,536.6 602.5,526.3 593.9,516.1 585.4,505.9 576.9,495.7 568.4,485.6 559.9,475.6 551.5,465.5 543.1,455.5 534.8,445.6 526.4,435.6 518.1,425.7 509.8,415.8 501.5,405.9 493.3,396.1 485,386.3 476.8,376.5 468.6,366.7 460.4,356.9 452.2,347.2 444,337.4 435.9,327.7 427.7,318 419.6,308.3 411.4,298.6 403.3,288.9 395.2,279.2 M1528.8,923.7 1508.8,912.1 1489.1,900.8 1469.7,889.6 1450.7,878.6 1431.9,867.7 1413.3,857 1395.1,846.5 1377.1,836.1 1359.3,825.8 1341.8,815.7 1324.5,805.7 1307.5,795.9 1290.6,786.2 1274,776.6 1257.6,767.1 1241.3,757.7 1225.3,748.5 1209.5,739.3 1193.8,730.3 1178.3,721.4 1163,712.5 1147.9,703.8 1132.9,695.1 1118.1,686.6 1103.4,678.1 1088.9,669.7 1074.5,661.4 1060.2,653.2 1046.1,645 1032.1,637 1018.3,629 1004.6,621 990.9,613.2 977.4,605.4 964.1,597.6 950.8,590 937.6,582.4 924.5,574.8 911.6,567.3 898.7,559.9 885.9,552.5 873.2,545.2 860.6,537.9 848.1,530.7 835.6,523.5 823.3,516.4 811,509.3 798.8,502.2 786.6,495.2 774.6,488.2 762.6,481.3 750.6,474.4 738.7,467.5 726.9,460.7 715.1,453.9 703.4,447.2 691.8,440.4 680.2,433.7 668.6,427.1 657.1,420.4 645.6,413.8 634.2,407.2 622.8,400.6 611.5,394.1 600.2,387.5 588.9,381 577.7,374.5 566.4,368.1 555.3,361.6 544.1,355.2 533,348.8 521.9,342.3 510.8,335.9 499.7,329.6 488.7,323.2 477.7,316.8 466.6,310.5 455.7,304.1 444.7,297.8 433.7,291.4 422.7,285.1 411.8,278.8 400.8,272.4 M1686.5,490.4 1663.8,486.4 1641.4,482.4 1619.4,478.5 1597.7,474.7 1576.3,470.9 1555.2,467.2 1534.5,463.6 1514,459.9 1493.8,456.4 1473.9,452.9 1454.2,449.4 1434.8,446 1415.7,442.6 1396.8,439.3 1378.1,436 1359.6,432.7 1341.4,429.5 1323.4,426.3 1305.6,423.2 1288,420.1 1270.6,417 1253.4,414 1236.3,411 1219.5,408 1202.8,405.1 1186.3,402.2 1169.9,399.3 1153.7,396.4 1137.6,393.6 1121.7,390.8 1106,388 1090.4,385.3 1074.9,382.5 1059.5,379.8 1044.3,377.1 1029.2,374.5 1014.2,371.8 999.4,369.2 984.6,366.6 970,364 955.4,361.5 941,358.9 926.7,356.4 912.4,353.9 898.3,351.4 884.2,348.9 870.3,346.4 856.4,344 842.6,341.6 828.8,339.1 815.2,336.7 801.6,334.3 788.1,331.9 774.6,329.6 761.3,327.2 747.9,324.9 734.7,322.5 721.5,320.2 708.3,317.9 695.3,315.6 682.2,313.3 669.2,311 656.3,308.7 643.4,306.4 630.5,304.2 617.7,301.9 604.9,299.7 592.2,297.4 579.4,295.2 566.8,292.9 554.1,290.7 541.5,288.5 528.9,286.2 516.3,284 503.7,281.8 491.2,279.6 478.7,277.4 466.2,275.2 453.7,273 441.2,270.8 428.7,268.6 416.3,266.4 403.8,264.2 M-837,259.8 -836.8,281 -836.2,302.2 -835.3,323.4 -834,344.6 -832.3,365.8 -830.3,386.9 -827.9,408 -825.1,429 -822,450 -818.5,470.9 -814.6,491.8 -810.4,512.6 -805.8,533.3 -800.8,553.9 -795.5,574.5 -789.9,594.9 -783.8,615.3 -777.4,635.5 -770.7,655.6 -763.6,675.6 -756.2,695.5 -748.4,715.3 -740.3,734.9 -731.8,754.3 -723,773.6 -713.9,792.8 -704.4,811.8 -694.6,830.6 -684.5,849.3 -674.1,867.7 -663.3,886 -652.2,904.1 -640.8,922 -629.1,939.7 -617.1,957.2 -604.7,974.5 -592.1,991.5 -579.2,1008.4 -566,1025 -552.5,1041.3 -538.7,1057.5 -524.7,1073.4 -510.3,1089 -495.7,1104.4 -480.8,1119.5 -465.7,1134.4 -450.3,1149 -434.7,1163.4 -418.8,1177.4 -402.6,1191.2 -386.3,1204.7 -369.7,1217.9 -352.8,1230.8 -335.8,1243.4 -318.5,1255.8 -301,1267.8 -283.3,1279.5 -265.4,1290.9 -247.3,1302 -229,1312.8 -210.6,1323.2 -191.9,1333.3 -173.1,1343.1 -154.1,1352.6 -134.9,1361.7 -115.6,1370.5 -96.2,1379 -76.6,1387.1 -56.8,1394.9 -36.9,1402.3 -16.9,1409.4 3.2,1416.1 23.4,1422.5 43.8,1428.6 64.2,1434.2 84.8,1439.5 105.4,1444.5 126.1,1449.1 146.9,1453.3 167.8,1457.2 188.7,1460.7 209.7,1463.8 230.7,1466.6 251.8,1469 272.9,1471 294.1,1472.7 315.3,1474 336.5,1474.9 357.7,1475.5 378.9,1475.7 400.1,1475.5 421.3,1474.9 442.5,1474 463.7,1472.7 484.9,1471 506,1469 527.1,1466.6 548.1,1463.8 569.1,1460.7 590,1457.2 610.9,1453.3 631.7,1449.1 652.4,1444.5 673,1439.5 693.6,1434.2 714,1428.6 734.4,1422.5 754.6,1416.1 774.7,1409.4 794.7,1402.3 814.6,1394.9 834.4,1387.1 854,1379 873.4,1370.5 892.7,1361.7 911.9,1352.6 930.9,1343.1 949.7,1333.3 968.4,1323.2 986.8,1312.8 1005.1,1302 1023.2,1290.9 1041.1,1279.5 1058.8,1267.8 1076.3,1255.8 1093.6,1243.4 1110.6,1230.8 1127.5,1217.9 1144.1,1204.7 1160.4,1191.2 1176.6,1177.4 1192.5,1163.4 1208.1,1149 1223.5,1134.4 1238.6,1119.5 1253.5,1104.4 1268.1,1089 1282.5,1073.4 1296.5,1057.5 1310.3,1041.3 1323.8,1025 1337,1008.4 1349.9,991.5 1362.5,974.5 1374.9,957.2 1386.9,939.7 1398.6,922 1410,904.1 1421.1,886 1431.9,867.7 1442.3,849.3 1452.4,830.6 1462.2,811.8 1471.7,792.8 1480.8,773.6 1489.6,754.3 1498.1,734.9 1506.2,715.3 1514,695.5 1521.4,675.6 1528.5,655.6 1535.2,635.5 1541.6,615.3 1547.7,594.9 1553.3,574.5 1558.6,553.9 1563.6,533.3 1568.2,512.6 1572.4,491.8 1576.3,470.9 1579.8,450 1582.9,429 1585.7,408 1588.1,386.9 1590.1,365.8 1591.8,344.6 1593.1,323.4 1594,302.2 1594.6,281 1594.8,259.8 M-635.7,259.8 -635.5,277.5 -635.1,295.2 -634.3,312.9 -633.2,330.6 -631.8,348.2 -630.1,365.9 -628.1,383.4 -625.8,401 -623.2,418.5 -620.3,436 -617.1,453.4 -613.5,470.7 -609.7,488 -605.6,505.3 -601.1,522.4 -596.4,539.5 -591.4,556.4 -586,573.3 -580.4,590.1 -574.5,606.8 -568.3,623.4 -561.8,639.9 -555,656.2 -548,672.5 -540.6,688.6 -533,704.6 -525.1,720.4 -516.9,736.1 -508.5,751.7 -499.8,767.1 -490.8,782.4 -481.5,797.5 -472,812.4 -462.2,827.2 -452.2,841.8 -441.9,856.2 -431.4,870.4 -420.6,884.5 -409.6,898.3 -398.3,912 -386.8,925.4 -375.1,938.7 -363.1,951.8 -350.9,964.6 -338.5,977.2 -325.9,989.6 -313.1,1001.8 -300,1013.8 -286.7,1025.5 -273.3,1037 -259.6,1048.3 -245.8,1059.3 -231.7,1070.1 -217.5,1080.6 -203.1,1090.9 -188.5,1100.9 -173.7,1110.7 -158.8,1120.2 -143.7,1129.5 -128.4,1138.5 -113,1147.2 -97.4,1155.6 -81.7,1163.8 -65.9,1171.7 -49.9,1179.3 -33.8,1186.7 -17.5,1193.7 -1.2,1200.5 15.3,1207 31.9,1213.2 48.6,1219.1 65.4,1224.7 82.3,1230.1 99.2,1235.1 116.3,1239.8 133.4,1244.3 150.7,1248.4 168,1252.2 185.3,1255.8 202.7,1259 220.2,1261.9 237.7,1264.5 255.3,1266.8 272.8,1268.8 290.5,1270.5 308.1,1271.9 325.8,1273 343.5,1273.8 361.2,1274.2 378.9,1274.4 396.6,1274.2 414.3,1273.8 432,1273 449.7,1271.9 467.3,1270.5 485,1268.8 502.5,1266.8 520.1,1264.5 537.6,1261.9 555.1,1259 572.5,1255.8 589.8,1252.2 607.1,1248.4 624.4,1244.3 641.5,1239.8 658.6,1235.1 675.5,1230.1 692.4,1224.7 709.2,1219.1 725.9,1213.2 742.5,1207 759,1200.5 775.3,1193.7 791.6,1186.7 807.7,1179.3 823.7,1171.7 839.5,1163.8 855.2,1155.6 870.8,1147.2 886.2,1138.5 901.5,1129.5 916.6,1120.2 931.5,1110.7 946.3,1100.9 960.9,1090.9 975.3,1080.6 989.5,1070.1 1003.6,1059.3 1017.4,1048.3 1031.1,1037 1044.5,1025.5 1057.8,1013.8 1070.9,1001.8 1083.7,989.6 1096.3,977.2 1108.7,964.6 1120.9,951.8 1132.9,938.7 1144.6,925.4 1156.1,912 1167.4,898.3 1178.4,884.5 1189.2,870.4 1199.7,856.2 1210,841.8 1220,827.2 1229.8,812.4 1239.3,797.5 1248.6,782.4 1257.6,767.1 1266.3,751.7 1274.7,736.1 1282.9,720.4 1290.8,704.6 1298.4,688.6 1305.8,672.5 1312.8,656.2 1319.6,639.9 1326.1,623.4 1332.3,606.8 1338.2,590.1 1343.8,573.3 1349.2,556.4 1354.2,539.5 1358.9,522.4 1363.4,505.3 1367.5,488 1371.3,470.7 1374.9,453.4 1378.1,436 1381,418.5 1383.6,401 1385.9,383.4 1387.9,365.9 1389.6,348.2 1391,330.6 1392.1,312.9 1392.9,295.2 1393.3,277.5 1393.5,259.8 M-457.7,259.8 -457.6,274.4 -457.2,289 -456.5,303.6 -455.6,318.2 -454.5,332.7 -453.1,347.2 -451.4,361.8 -449.5,376.2 -447.4,390.7 -445,405.1 -442.3,419.4 -439.4,433.7 -436.2,448 -432.8,462.2 -429.2,476.3 -425.3,490.4 -421.1,504.4 -416.7,518.3 -412.1,532.2 -407.2,545.9 -402.1,559.6 -396.8,573.2 -391.2,586.7 -385.4,600.1 -379.3,613.4 -373,626.5 -366.5,639.6 -359.8,652.6 -352.8,665.4 -345.6,678.1 -338.2,690.7 -330.6,703.1 -322.7,715.4 -314.7,727.6 -306.4,739.6 -297.9,751.5 -289.2,763.3 -280.3,774.9 -271.2,786.3 -262,797.5 -252.5,808.6 -242.8,819.6 -232.9,830.3 -222.9,840.9 -212.7,851.4 -202.2,861.6 -191.6,871.6 -180.9,881.5 -169.9,891.2 -158.8,900.7 -147.6,909.9 -136.2,919 -124.6,927.9 -112.8,936.6 -100.9,945.1 -88.9,953.4 -76.7,961.4 -64.4,969.3 -52,976.9 -39.4,984.3 -26.7,991.5 -13.9,998.5 -0.9,1005.2 12.2,1011.7 25.3,1018 38.6,1024.1 52,1029.9 65.5,1035.5 79.1,1040.8 92.8,1045.9 106.5,1050.8 120.4,1055.4 134.3,1059.8 148.3,1064 162.4,1067.9 176.5,1071.5 190.7,1074.9 205,1078.1 219.3,1081 233.6,1083.7 248,1086.1 262.5,1088.2 276.9,1090.1 291.5,1091.8 306,1093.2 320.5,1094.3 335.1,1095.2 349.7,1095.9 364.3,1096.3 378.9,1096.4 393.5,1096.3 408.1,1095.9 422.7,1095.2 437.3,1094.3 451.8,1093.2 466.3,1091.8 480.9,1090.1 495.3,1088.2 509.8,1086.1 524.2,1083.7 538.5,1081 552.8,1078.1 567.1,1074.9 581.3,1071.5 595.4,1067.9 609.5,1064 623.5,1059.8 637.4,1055.4 651.3,1050.8 665,1045.9 678.7,1040.8 692.3,1035.5 705.8,1029.9 719.2,1024.1 732.5,1018 745.6,1011.7 758.7,1005.2 771.7,998.5 784.5,991.5 797.2,984.3 809.8,976.9 822.2,969.3 834.5,961.4 846.7,953.4 858.7,945.1 870.6,936.6 882.4,927.9 894,919 905.4,909.9 916.6,900.7 927.7,891.2 938.7,881.5 949.4,871.6 960,861.6 970.5,851.4 980.7,840.9 990.7,830.3 1000.6,819.6 1010.3,808.6 1019.8,797.5 1029,786.3 1038.1,774.9 1047,763.3 1055.7,751.5 1064.2,739.6 1072.5,727.6 1080.5,715.4 1088.4,703.1 1096,690.7 1103.4,678.1 1110.6,665.4 1117.6,652.6 1124.3,639.6 1130.8,626.5 1137.1,613.4 1143.2,600.1 1149,586.7 1154.6,573.2 1159.9,559.6 1165,545.9 1169.9,532.2 1174.5,518.3 1178.9,504.4 1183.1,490.4 1187,476.3 1190.6,462.2 1194,448 1197.2,433.7 1200.1,419.4 1202.8,405.1 1205.2,390.7 1207.3,376.2 1209.2,361.8 1210.9,347.2 1212.3,332.7 1213.4,318.2 1214.3,303.6 1215,289 1215.4,274.4 1215.5,259.8 M-296.8,259.8 -296.7,271.6 -296.4,283.4 -295.9,295.2 -295.1,306.9 -294.2,318.7 -293.1,330.4 -291.7,342.1 -290.2,353.8 -288.5,365.5 -286.5,377.1 -284.4,388.7 -282,400.3 -279.5,411.8 -276.7,423.3 -273.8,434.7 -270.6,446 -267.3,457.3 -263.7,468.6 -260,479.8 -256,490.9 -251.9,501.9 -247.6,512.9 -243.1,523.8 -238.4,534.6 -233.5,545.4 -228.4,556 -223.1,566.6 -217.7,577 -212.1,587.4 -206.3,597.6 -200.3,607.8 -194.1,617.9 -187.8,627.8 -181.3,637.6 -174.6,647.4 -167.7,657 -160.7,666.4 -153.5,675.8 -146.2,685 -138.7,694.1 -131,703.1 -123.2,711.9 -115.3,720.6 -107.1,729.2 -98.9,737.6 -90.5,745.8 -81.9,754 -73.2,761.9 -64.4,769.7 -55.4,777.4 -46.3,784.9 -37.1,792.2 -27.7,799.4 -18.3,806.4 -8.7,813.3 1.1,820 10.9,826.5 20.8,832.8 30.9,839 41.1,845 51.3,850.8 61.7,856.4 72.1,861.8 82.7,867.1 93.3,872.2 104.1,877.1 114.9,881.8 125.8,886.3 136.8,890.6 147.8,894.7 158.9,898.7 170.1,902.4 181.4,906 192.7,909.3 204,912.5 215.4,915.4 226.9,918.2 238.4,920.7 250,923.1 261.6,925.2 273.2,927.2 284.9,928.9 296.6,930.4 308.3,931.8 320,932.9 331.8,933.8 343.5,934.6 355.3,935.1 367.1,935.4 378.9,935.5 390.7,935.4 402.5,935.1 414.3,934.6 426,933.8 437.8,932.9 449.5,931.8 461.2,930.4 472.9,928.9 484.6,927.2 496.2,925.2 507.8,923.1 519.4,920.7 530.9,918.2 542.4,915.4 553.8,912.5 565.1,909.3 576.4,906 587.7,902.4 598.9,898.7 610,894.7 621,890.6 632,886.3 642.9,881.8 653.7,877.1 664.5,872.2 675.1,867.1 685.7,861.8 696.1,856.4 706.5,850.8 716.7,845 726.9,839 737,832.8 746.9,826.5 756.7,820 766.5,813.3 776.1,806.4 785.5,799.4 794.9,792.2 804.1,784.9 813.2,777.4 822.2,769.7 831,761.9 839.7,754 848.3,745.8 856.7,737.6 864.9,729.2 873.1,720.6 881,711.9 888.8,703.1 896.5,694.1 904,685 911.3,675.8 918.5,666.4 925.5,657 932.4,647.4 939.1,637.6 945.6,627.8 951.9,617.9 958.1,607.8 964.1,597.6 969.9,587.4 975.5,577 980.9,566.6 986.2,556 991.3,545.4 996.2,534.6 1000.9,523.8 1005.4,512.9 1009.7,501.9 1013.8,490.9 1017.8,479.8 1021.5,468.6 1025.1,457.3 1028.4,446 1031.6,434.7 1034.5,423.3 1037.3,411.8 1039.8,400.3 1042.2,388.7 1044.3,377.1 1046.3,365.5 1048,353.8 1049.5,342.1 1050.9,330.4 1052,318.7 1052.9,306.9 1053.7,295.2 1054.2,283.4 1054.5,271.6 1054.6,259.8 M-148.5,259.8 -148.4,269 -148.2,278.2 -147.8,287.4 -147.2,296.6 -146.5,305.8 -145.6,314.9 -144.6,324.1 -143.4,333.2 -142,342.3 -140.5,351.4 -138.8,360.4 -137,369.5 -135,378.4 -132.8,387.4 -130.5,396.3 -128.1,405.2 -125.4,414 -122.7,422.8 -119.8,431.5 -116.7,440.2 -113.5,448.8 -110.1,457.4 -106.6,465.9 -102.9,474.3 -99.1,482.7 -95.1,491 -91,499.2 -86.8,507.4 -82.4,515.5 -77.8,523.5 -73.2,531.4 -68.4,539.3 -63.4,547 -58.3,554.7 -53.1,562.3 -47.8,569.8 -42.3,577.2 -36.7,584.5 -31,591.7 -25.1,598.8 -19.1,605.8 -13,612.7 -6.8,619.5 -0.5,626.2 6,632.7 12.5,639.2 19.2,645.5 26,651.7 32.9,657.8 39.9,663.8 47,669.7 54.2,675.4 61.5,681 68.9,686.5 76.4,691.8 84,697 91.7,702.1 99.4,707.1 107.3,711.9 115.2,716.5 123.2,721.1 131.3,725.5 139.5,729.7 147.7,733.8 156,737.8 164.4,741.6 172.8,745.3 181.3,748.8 189.9,752.2 198.5,755.4 207.2,758.5 215.9,761.4 224.7,764.1 233.5,766.8 242.4,769.2 251.3,771.5 260.3,773.7 269.2,775.7 278.3,777.5 287.3,779.2 296.4,780.7 305.5,782.1 314.6,783.3 323.8,784.3 332.9,785.2 342.1,785.9 351.3,786.5 360.5,786.9 369.7,787.1 378.9,787.2 388.1,787.1 397.3,786.9 406.5,786.5 415.7,785.9 424.9,785.2 434,784.3 443.2,783.3 452.3,782.1 461.4,780.7 470.5,779.2 479.5,777.5 488.6,775.7 497.5,773.7 506.5,771.5 515.4,769.2 524.3,766.8 533.1,764.1 541.9,761.4 550.6,758.5 559.3,755.4 567.9,752.2 576.5,748.8 585,745.3 593.4,741.6 601.8,737.8 610.1,733.8 618.3,729.7 626.5,725.5 634.6,721.1 642.6,716.5 650.5,711.9 658.4,707.1 666.1,702.1 673.8,697 681.4,691.8 688.9,686.5 696.3,681 703.6,675.4 710.8,669.7 717.9,663.8 724.9,657.8 731.8,651.7 738.6,645.5 745.3,639.2 751.8,632.7 758.3,626.2 764.6,619.5 770.8,612.7 776.9,605.8 782.9,598.8 788.8,591.7 794.5,584.5 800.1,577.2 805.6,569.8 810.9,562.3 816.1,554.7 821.2,547 826.2,539.3 831,531.4 835.6,523.5 840.2,515.5 844.6,507.4 848.8,499.2 852.9,491 856.9,482.7 860.7,474.3 864.4,465.9 867.9,457.4 871.3,448.8 874.5,440.2 877.6,431.5 880.5,422.8 883.2,414 885.9,405.2 888.3,396.3 890.6,387.4 892.8,378.4 894.8,369.5 896.6,360.4 898.3,351.4 899.8,342.3 901.2,333.2 902.4,324.1 903.4,314.9 904.3,305.8 905,296.6 905.6,287.4 906,278.2 906.2,269 906.3,259.8 M-9.4,259.8 -9.3,266.6 -9.1,273.4 -8.8,280.1 -8.4,286.9 -7.9,293.6 -7.2,300.4 -6.5,307.1 -5.6,313.8 -4.6,320.5 -3.5,327.2 -2.2,333.9 -0.9,340.5 0.6,347.1 2.2,353.7 3.9,360.3 5.7,366.8 7.6,373.3 9.6,379.8 11.8,386.2 14.1,392.6 16.4,398.9 18.9,405.2 21.5,411.5 24.2,417.7 27,423.9 29.9,430 33,436.1 36.1,442.1 39.3,448 42.7,453.9 46.1,459.8 49.6,465.5 53.3,471.3 57,476.9 60.9,482.5 64.8,488 68.8,493.5 72.9,498.8 77.2,504.1 81.5,509.4 85.9,514.5 90.4,519.6 94.9,524.6 99.6,529.5 104.4,534.3 109.2,539.1 114.1,543.8 119.1,548.3 124.2,552.8 129.3,557.2 134.6,561.5 139.9,565.8 145.2,569.9 150.7,573.9 156.2,577.8 161.8,581.7 167.4,585.4 173.2,589.1 178.9,592.6 184.8,596 190.7,599.4 196.6,602.6 202.6,605.7 208.7,608.8 214.8,611.7 221,614.5 227.2,617.2 233.5,619.8 239.8,622.3 246.1,624.6 252.5,626.9 258.9,629.1 265.4,631.1 271.9,633 278.4,634.8 285,636.5 291.6,638.1 298.2,639.6 304.8,640.9 311.5,642.2 318.2,643.3 324.9,644.3 331.6,645.2 338.3,645.9 345.1,646.6 351.8,647.1 358.6,647.5 365.3,647.8 372.1,648 378.9,648.1 385.7,648 392.5,647.8 399.2,647.5 406,647.1 412.7,646.6 419.5,645.9 426.2,645.2 432.9,644.3 439.6,643.3 446.3,642.2 453,640.9 459.6,639.6 466.2,638.1 472.8,636.5 479.4,634.8 485.9,633 492.4,631.1 498.9,629.1 505.3,626.9 511.7,624.6 518,622.3 524.3,619.8 530.6,617.2 536.8,614.5 543,611.7 549.1,608.8 555.2,605.7 561.2,602.6 567.1,599.4 573,596 578.9,592.6 584.6,589.1 590.4,585.4 596,581.7 601.6,577.8 607.1,573.9 612.6,569.9 617.9,565.8 623.2,561.5 628.5,557.2 633.6,552.8 638.7,548.3 643.7,543.8 648.6,539.1 653.4,534.3 658.2,529.5 662.9,524.6 667.4,519.6 671.9,514.5 676.3,509.4 680.6,504.1 684.9,498.8 689,493.5 693,488 696.9,482.5 700.8,476.9 704.5,471.3 708.2,465.5 711.7,459.8 715.1,453.9 718.5,448 721.7,442.1 724.8,436.1 727.9,430 730.8,423.9 733.6,417.7 736.3,411.5 738.9,405.2 741.4,398.9 743.7,392.6 746,386.2 748.2,379.8 750.2,373.3 752.1,366.8 753.9,360.3 755.6,353.7 757.2,347.1 758.7,340.5 760,333.9 761.3,327.2 762.4,320.5 763.4,313.8 764.3,307.1 765,300.4 765.7,293.6 766.2,286.9 766.6,280.1 766.9,273.4 767.1,266.6 767.2,259.8 M123.4,259.8 123.4,264.3 123.6,268.7 123.8,273.2 124,277.6 124.4,282.1 124.8,286.5 125.3,290.9 125.9,295.4 126.5,299.8 127.3,304.2 128.1,308.6 129,312.9 130,317.3 131,321.6 132.1,325.9 133.3,330.2 134.6,334.5 135.9,338.8 137.3,343 138.8,347.2 140.4,351.4 142,355.5 143.7,359.6 145.5,363.7 147.3,367.8 149.3,371.8 151.2,375.8 153.3,379.7 155.4,383.7 157.6,387.5 159.9,391.4 162.2,395.2 164.6,399 167.1,402.7 169.6,406.3 172.2,410 174.9,413.6 177.6,417.1 180.3,420.6 183.2,424 186.1,427.4 189,430.8 192,434 195.1,437.3 198.2,440.5 201.4,443.6 204.7,446.7 207.9,449.7 211.3,452.6 214.7,455.5 218.1,458.4 221.6,461.1 225.1,463.8 228.7,466.5 232.4,469.1 236,471.6 239.7,474.1 243.5,476.5 247.3,478.8 251.2,481.1 255,483.3 259,485.4 262.9,487.5 266.9,489.4 270.9,491.4 275,493.2 279.1,495 283.2,496.7 287.3,498.3 291.5,499.9 295.7,501.4 299.9,502.8 304.2,504.1 308.5,505.4 312.8,506.6 317.1,507.7 321.4,508.7 325.8,509.7 330.1,510.6 334.5,511.4 338.9,512.2 343.3,512.8 347.8,513.4 352.2,513.9 356.6,514.3 361.1,514.7 365.5,514.9 370,515.1 374.4,515.3 378.9,515.3 383.4,515.3 387.8,515.1 392.3,514.9 396.7,514.7 401.2,514.3 405.6,513.9 410,513.4 414.5,512.8 418.9,512.2 423.3,511.4 427.7,510.6 432,509.7 436.4,508.7 440.7,507.7 445,506.6 449.3,505.4 453.6,504.1 457.9,502.8 462.1,501.4 466.3,499.9 470.5,498.3 474.6,496.7 478.7,495 482.8,493.2 486.9,491.4 490.9,489.4 494.9,487.5 498.8,485.4 502.8,483.3 506.6,481.1 510.5,478.8 514.3,476.5 518.1,474.1 521.8,471.6 525.4,469.1 529.1,466.5 532.7,463.8 536.2,461.1 539.7,458.4 543.1,455.5 546.5,452.6 549.9,449.7 553.1,446.7 556.4,443.6 559.6,440.5 562.7,437.3 565.8,434 568.8,430.8 571.7,427.4 574.6,424 577.5,420.6 580.2,417.1 582.9,413.6 585.6,410 588.2,406.3 590.7,402.7 593.2,399 595.6,395.2 597.9,391.4 600.2,387.5 602.4,383.7 604.5,379.7 606.6,375.8 608.5,371.8 610.5,367.8 612.3,363.7 614.1,359.6 615.8,355.5 617.4,351.4 619,347.2 620.5,343 621.9,338.8 623.2,334.5 624.5,330.2 625.7,325.9 626.8,321.6 627.8,317.3 628.8,312.9 629.7,308.6 630.5,304.2 631.3,299.8 631.9,295.4 632.5,290.9 633,286.5 633.4,282.1 633.8,277.6 634,273.2 634.2,268.7 634.4,264.3 634.4,259.8 M252.1,259.8 252.1,262 252.2,264.2 252.3,266.4 252.4,268.6 252.6,270.8 252.8,273.1 253.1,275.2 253.4,277.4 253.7,279.6 254.1,281.8 254.5,284 254.9,286.2 255.4,288.3 255.9,290.5 256.4,292.6 257,294.7 257.7,296.9 258.3,299 259,301.1 259.8,303.2 260.5,305.2 261.4,307.3 262.2,309.3 263.1,311.4 264,313.4 265,315.4 265.9,317.4 267,319.3 268,321.3 269.1,323.2 270.2,325.1 271.4,327 272.6,328.8 273.8,330.7 275.1,332.5 276.3,334.3 277.7,336.1 279,337.8 280.4,339.6 281.8,341.3 283.2,343 284.7,344.6 286.2,346.3 287.7,347.9 289.3,349.4 290.8,351 292.4,352.5 294.1,354 295.7,355.5 297.4,356.9 299.1,358.3 300.9,359.7 302.6,361 304.4,362.4 306.2,363.6 308,364.9 309.9,366.1 311.7,367.3 313.6,368.5 315.5,369.6 317.4,370.7 319.4,371.7 321.3,372.8 323.3,373.7 325.3,374.7 327.3,375.6 329.4,376.5 331.4,377.3 333.5,378.2 335.5,378.9 337.6,379.7 339.7,380.4 341.8,381 344,381.7 346.1,382.3 348.2,382.8 350.4,383.3 352.5,383.8 354.7,384.2 356.9,384.6 359.1,385 361.3,385.3 363.5,385.6 365.6,385.9 367.9,386.1 370.1,386.3 372.3,386.4 374.5,386.5 376.7,386.6 378.9,386.6 381.1,386.6 383.3,386.5 385.5,386.4 387.7,386.3 389.9,386.1 392.2,385.9 394.3,385.6 396.5,385.3 398.7,385 400.9,384.6 403.1,384.2 405.3,383.8 407.4,383.3 409.6,382.8 411.7,382.3 413.8,381.7 416,381 418.1,380.4 420.2,379.7 422.3,378.9 424.3,378.2 426.4,377.3 428.4,376.5 430.5,375.6 432.5,374.7 434.5,373.7 436.5,372.8 438.4,371.7 440.4,370.7 442.3,369.6 444.2,368.5 446.1,367.3 447.9,366.1 449.8,364.9 451.6,363.6 453.4,362.4 455.2,361 456.9,359.7 458.7,358.3 460.4,356.9 462.1,355.5 463.7,354 465.4,352.5 467,351 468.5,349.4 470.1,347.9 471.6,346.3 473.1,344.6 474.6,343 476,341.3 477.4,339.6 478.8,337.8 480.1,336.1 481.5,334.3 482.7,332.5 484,330.7 485.2,328.8 486.4,327 487.6,325.1 488.7,323.2 489.8,321.3 490.8,319.3 491.9,317.4 492.8,315.4 493.8,313.4 494.7,311.4 495.6,309.3 496.4,307.3 497.3,305.2 498,303.2 498.8,301.1 499.5,299 500.1,296.9 500.8,294.7 501.4,292.6 501.9,290.5 502.4,288.3 502.9,286.2 503.3,284 503.7,281.8 504.1,279.6 504.4,277.4 504.7,275.2 505,273.1 505.2,270.8 505.4,268.6 505.5,266.4 505.6,264.2 505.7,262 505.7,259.8" fill="none" stroke="#8f9296" stroke-width="1.5" stroke-dasharray="1.5 3.6" opacity="0.85"/>
<svg x="62" y="596" width="300" height="210" viewBox="0 0 2000 1400" preserveAspectRatio="none">
<path d="M1175.4,-9.5 1189.9,34.5 1188,81.2 1213,113.3 1225.2,150.7 1244.2,217.6 1256.7,256.9 1278.4,290.8 1300,330 M1921.4,-10.2 1925.2,35 1930.7,79.6 1960.4,139.6 2010,185 M1090.1,400.2 1130.7,393 1166.1,382.4 1202.1,430 1198.3,502.1 1251.3,541.6 1301.6,500.3 1306.2,440.9 1302.6,396.1 1330.6,419 1357.7,440.9 1377.3,479.1 1390,520 1396.8,559.8 1398.5,596.9 1355.5,620 1360.6,660.8 1306.5,696.5 1268,743.9 1232,717.6 1182.3,677.1 1127.3,642.2 1092.1,589.9 1088.1,545 1089.5,500.2 1084.6,449.9 1090,400Z M1207.7,332.3 1179.4,298.5 1129.4,321.5 1078,302.3 1040.1,265.1 1000.1,290 1005.2,345 1010.4,400.1 997.2,440.8 982.3,479.2 998.4,541.1 1041.6,599.4 1053.4,640.6 1067.1,680.3 1071.4,725.4 1076.2,767.7 1051.9,821.9 1011.6,862.1 958.9,897.9 920.5,919.5 877.3,881.3 851.8,819.8 848.7,779.5 843.3,740.7 847.2,689.4 858,640 855.1,600 864.5,561.5 878.4,502.3 850,477.7 779.7,479.7 739.2,519.6 719.8,559.9 696.8,599.4 689,649.8 681.9,700.4 673.8,745.8 660.2,790 650.8,834.5 653.5,879.6 653.2,920.2 658.9,960.7 703,1018.5 720,1060 M-11,711.4 25,739 63.2,763.5 99.9,790.1 134.1,826 163,866.7 201.6,898.7 229.4,931.1 255.2,965.2 281.6,998.2 316.1,1028.7 350.9,1057.9 419.4,1086.1 488.8,1078.8 528.2,1039.5 540,1000 M577.1,887.1 548.2,920.3 557.6,991.2 586.8,1052.4 621.7,1088.3 640,1110" fill="none" stroke="#FF4638" stroke-width="7" opacity="0.9" stroke-dasharray="34 20" stroke-linejoin="round"/>
<path d="M1057.7,-12.2 1047.7,9.6 1054.4,26.6 1070.2,41 1070.1,60 1072.4,74.9 1069.2,90.3 1067.4,105.5 1083.8,121.5 1082.7,136.7 1072.3,143 1054.5,146.4 1036.5,135.4 1033.2,158.8 1014.1,161 997.8,165.6 982.7,185.3 950.4,192.1 955.1,209.4 977.6,222.8 981.5,240.3 974.1,259.9 964.1,276.8 975.1,295.2 977.5,312.9 971.5,330.8 971.8,349.6 960.5,362.7 948.7,375.6 939.9,390.1 925.3,380.2 915.3,366.9 904.7,353.2 899.2,333.8 886,319 871,305.4 876.4,279.5 861.1,266 852.4,248 834.6,241.8 838.5,218.2 826.2,207.6 802.8,204.3 796.8,185.2 794.2,164.2 784,147.6 778.2,128.4 758.5,117.5 756.2,96.3 743.2,81.4 726.3,68.9 721.4,48.6 692.5,26.2 683.2,46.6 679.9,69.9 668.4,83.9 661.7,110.1 645.9,108.1 628.9,98.5 615.3,109.4 593.3,112.7 594.3,92.9 590.8,75 583.8,60.5 579.8,42.1 583.7,24.8 587.7,7.5 590,-10 M850,150 880,130 905,170 895,210 870,190Z M438.2,194.5 455.3,195.9 470.6,187.2 486.2,195.6 502.8,199.4 517.7,190.7 533.4,185.6 553.8,199.2 566.7,182.9 582.6,178.3 592.3,187.7 615.5,194.5 622.7,209 628,227.6 622,244.6 630.1,263.6 617.6,281.8 623.5,298.2 639.6,307 648.5,325.1 666.5,328.6 687.6,320.8 700.9,340.5 718.2,340.9 733.9,358 744.6,389.2 716.4,382.8 700.6,400.1 691.9,415.7 685.2,431.7 685.5,451.5 686.2,467.9 700.9,482.1 680.9,480.5 667.1,494.5 640.7,497.7 636.9,518 644,547.9 623.6,557.2 606.1,559 592.4,576.7 606.4,589.8 604.8,605.5 613.5,622.6 599.9,633.2 592,648.2 583.2,659.5 580.7,675.3 583.2,690.3 578.7,706.5 587.8,716.7 569.8,722.1 552.2,740 549.2,755 556.2,770 567.4,785 555.2,793.7 540.5,801.8 528,812.9 521.1,828.9 508.3,811.7 496.3,800.9 480.3,816.5 483.4,834.8 487.2,853.2 489.1,867 477.6,887.5 486.6,889.8 477.9,913.6 457.9,903.7 445.6,916.9 437.5,921.9 429.4,941.1 419,954.2 403.7,954.4 391.6,974.9 374.6,965 350.3,972.4 360.7,952.8 348.4,938.9 356.1,920 354.3,903.4 340.1,890 355.4,878.5 346,858.7 346.2,842.1 362.1,830.5 353.3,812.8 360.2,798.6 368,784.6 375.7,770.5 369.3,753.4 370,738.8 390,725 379.9,707.5 396,693.3 396.7,677.1 387.4,659.1 394.2,644.7 400.4,629.8 396.3,612.2 388.6,595.9 381.3,579.9 381,563.1 386.3,545.7 375.2,530 371.8,513.5 376.5,496.2 364.3,479.3 367.7,463.5 384.4,449.3 376.5,432.1 379.1,416.1 373.6,391.4 392.2,388.5 407.7,381.4 409.8,367.1 427.4,353.2 432.8,335.8 425.7,314.8 442.8,300.5 441.8,284.9 448.9,270.6 444.3,254.5 454.4,238.9 450.1,218.7 440,200 M377.4,394.8 396.1,382.2 420.7,377.8 437.4,377.8 453,381 465.7,392.9 471.8,404.1 484.1,423 494.3,438.6 501.9,457.5 491.2,471.8 492.8,489.2 491,505.7 488.6,521.1 484.2,536.8 466.7,550.8 466.8,567.1 465.3,583.2 467.4,593.9 458.7,612.2 443.6,615.8 426.9,615.4 412,619.3 400,630 M498.1,441.9 509.6,457.1 522.1,471.3 541.6,489.6 555.9,482.7 571.5,484.2 583.3,462.3 600.7,469.7 597.6,490.3 610.3,504.6 624.9,527.3 630.3,502.9 650,500 M600,420 620,395 660,400 665,430 630,440 615,425Z M929.3,609.3 949.4,591.2 976.6,606.6 985.6,584.5 994.9,597.6 1003.1,610.2 1014.4,629.1 1009.9,649.7 990.5,652.2 976.1,646.1 956.7,658.3 930.7,640.7 923.6,626.5 930,610Z M910,700 912,740" fill="none" stroke="#000" stroke-width="11" stroke-linejoin="round" stroke-linecap="round"/>
<path d="M1130,485 1160,495 1180,520" fill="none" stroke="#000" stroke-width="22" stroke-linejoin="round" stroke-linecap="round"/>
<path d="M693,240a7,7 0 1,0 14,0a7,7 0 1,0 -14,0Z M784,330a6,6 0 1,0 12,0a6,6 0 1,0 -12,0Z M794,357a6,6 0 1,0 12,0a6,6 0 1,0 -12,0Z M632,60a8,8 0 1,0 16,0a8,8 0 1,0 -16,0Z M983,695a12,12 0 1,0 24,0a12,12 0 1,0 -24,0Z" fill="#000"/>
<g transform="translate(1010 125) rotate(-50)"><rect x="-33.0" y="-42" width="66" height="84" fill="#fff"/><text x="0" y="28" font-size="82" font-style="italic" text-anchor="middle" fill="#000">0</text></g>
<g transform="translate(765 430) rotate(10)"><rect x="-33.0" y="-42" width="66" height="84" fill="#fff"/><text x="0" y="28" font-size="82" font-style="italic" text-anchor="middle" fill="#000">0</text></g>
<g transform="translate(1315 350) rotate(-20)"><rect x="-73.0" y="-42" width="146" height="84" fill="#fff"/><text x="0" y="28" font-size="82" font-style="italic" text-anchor="middle" fill="#FF1E28">0.3</text></g>
<g transform="translate(1405 490) rotate(70)"><rect x="-73.0" y="-42" width="146" height="84" fill="#fff"/><text x="0" y="28" font-size="82" font-style="italic" text-anchor="middle" fill="#FF1E28">0.3</text></g>
</svg>
<svg x="352" y="596" width="300" height="210" viewBox="0 0 2000 1400" preserveAspectRatio="none">
<path d="M0,30 30,100 60,180 M87.8,229.4 101.1,299.7 113,339.3 121,380.3 109.4,419.8 98.5,459.9 97.4,510.2 91.4,559.7 103.2,609.4 107.1,661.1 126.9,699.3 136.4,741.3 159,778.5 174.8,818.8 180.7,859.8 190.7,899.7 202.6,940.9 216.6,981.3 234.9,1020 251.7,1058.9 288.3,1121.4 340.3,1179.7 390.9,1227.7 440.2,1248.2 494.3,1252.5 509.3,1292 538,1295.9 579.5,1276.9 639.8,1271.2 689,1280.7 718.9,1319.5 699.7,1358.7 650,1370 M1020,30 1090,80 M1200.8,179.2 1232.2,208.4 1257.7,243.1 1276.3,281.9 1299.3,320.3 1318.2,360.5 1334.5,410.2 1351.2,459.9 1352.7,510.2 1359.2,559.9 1352.2,599.7 1348.5,639.4 1331.8,678.8 1320.5,720.3 1282.8,782 1257.8,817 1228.3,848.6 1182.9,911.6 1158.7,944.2 1139.1,979.1 1113.1,1013.1 1078.4,1037.6 1023,1083.6 956.8,1128.2 937,1163.3 921.4,1202.5 883.9,1218 848.2,1238.5 813.4,1291.7 778.3,1349.7 770,1410 M861.3,1380.4 877.9,1315.8 939.6,1287.8 1001.5,1277.7 1030,1300" fill="none" stroke="#FF4638" stroke-width="7" opacity="0.9" stroke-dasharray="34 20" stroke-linejoin="round"/>
<path d="M1040.9,427.4 1052,443.9 1067.6,447.2 1087,439 1106.8,454.5 1112.5,436.7 1115.5,411 1144.5,418.9 1157.2,395.4 1171.1,388 1185.8,381.9 1200.2,376.9 1219,364.3 1235.9,370.7 1235.3,386.2 1244.8,399.8 1227.5,410.9 1217.8,428.4 1204.3,439 1205.6,460.9 1192.8,471.4 1180.6,490.3 1177.2,505.2 1171.3,530.8 1187.5,541.7 1207.4,550.1 1208.7,568.7 1196.3,586.3 1185.7,603.8 1176.2,619.1 1160.4,630.8 1144.2,648.5 1119.9,648.6 1103.3,651.3 1087.5,661.5 1069,646.8 1051.3,667.5 1026,666 1018.9,644.2 994.9,636.6 1008.6,624.1 1020.7,611.1 1034.2,598.8 1049.9,589.9 1057.6,575 1064.6,560 1057.8,538.8 1076.9,521.1 1067.8,504.2 1067.4,496.4 1060.9,476.3 1056.6,457.8 1047.7,444.1 1040,430Z M1045,325 1047,365 M491.7,1035.8 504.4,1017.2 515.8,1001.1 523.5,977.9 509.9,960 524,947.7 528.9,921.3 550,927.7 577.5,926.1 573,907.6 583.3,895.2 590.5,881.1 589.3,861.8 594.2,840.7 616.3,846.4 622.3,826.4 641.3,814.3 659.4,832.5 672.5,830.9 675.2,850.9 682.3,879.6 704.3,868.7 728.2,875.9 735.3,906.4 708.3,904.4 703,933 682.6,939.5 664.7,949.4 644.4,958.9 623.2,969.6 606,968.1 596.2,974.1 583.5,987.3 564.8,992.2 559.1,1016.1 533.4,1022.2 540,1036.7 549.3,1048.7 530.9,1058.6 518.3,1045.1 500,1040Z M580,900 620,870 660,880 640,910 600,935Z M600,945 650,925 670,945 630,960Z M670,790 700,780 710,795 685,805Z M500,915 520,935" fill="none" stroke="#000" stroke-width="11" stroke-linejoin="round" stroke-linecap="round"/>
<path d="M1116,340a9,9 0 1,0 18,0a9,9 0 1,0 -18,0Z M1124,465a6,6 0 1,0 12,0a6,6 0 1,0 -12,0Z M1205,575a10,10 0 1,0 20,0a10,10 0 1,0 -20,0Z M1012,675a13,13 0 1,0 26,0a13,13 0 1,0 -26,0Z M1225,625a5,5 0 1,0 10,0a5,5 0 1,0 -10,0Z" fill="#000"/>
<ellipse cx="605" cy="1180" rx="30" ry="13" transform="rotate(-35 605 1180)" fill="#000"/>
<g transform="translate(75 200) rotate(-30)"><rect x="-33.0" y="-42" width="66" height="84" fill="#fff"/><text x="0" y="28" font-size="82" font-style="italic" text-anchor="middle" fill="#FF1E28">0</text></g>
<g transform="translate(1150 130) rotate(50)"><rect x="-73.0" y="-42" width="146" height="84" fill="#fff"/><text x="0" y="28" font-size="82" font-style="italic" text-anchor="middle" fill="#FF1E28">0.3</text></g>
</svg>
<svg x="642" y="596" width="300" height="210" viewBox="0 0 2000 1400" preserveAspectRatio="none">
<path d="M-0.9,1402.9 60,1379.9 129.3,1345.9 174.7,1340.9 220.3,1330.7 260.3,1332.6 300.3,1337.9 340.5,1341.2 379.9,1348.1 420.2,1349.9 459.1,1340.4 500.2,1338.7 539.1,1326.5 580.7,1322.9 620.1,1312.4 659.8,1304.6 699.8,1308.5 739.9,1309.7 782.2,1306.4 830.7,1339.4 858.1,1379.4 850,1410" fill="none" stroke="#FF4638" stroke-width="7" opacity="0.9" stroke-dasharray="34 20" stroke-linejoin="round"/>
</svg>
<svg x="62" y="806" width="300" height="210" viewBox="0 0 2000 1400" preserveAspectRatio="none">
<path d="M1443.9,347.6 1469.6,400.8 1517,415.6 1560,440.1 1599.4,449.7 1640,447.9 1680,454.7 1720.2,451.3 1760.5,448.8 1799.4,435.2 1840.3,437.3 1879.9,430.1 1919.1,490.5 1941.1,524.4 1958.1,564.4 2005,580 M1989.7,679.3 1942.1,702.1 1899,739 1855.6,779.4 1853.2,853.2 1800.3,900.4 1740.7,941.3 1679.7,972.1 1640.5,961.3 1600,960 M1044.1,992.4 1070,970 1099,962.1 1127.4,980.2 1163.9,997.7 1184.3,963.6 1215.9,968.2 1245.7,983.5 1278.1,991.9 1327.4,1025.1 1304.9,1007.4 1333.7,985.6 1362,954 1393.6,959.1 1415.3,970.5 1454,972.9 1483.5,954.2 1507.5,922 1539.2,897.6 1568.8,886.5 1595.7,892.9 1630.4,888.9 1660,900 M1296.8,890.5 1331.5,894.6 1359,883.1 1393.3,880 1420.1,900.2 1446.8,878.7 1477.9,857.2 1508.3,854.5 1541.3,864 1566.8,840.3 1604.9,830.3 1640,860 M1136.1,690.9 1163.1,726.2 1209.9,690.1 1240,740 M1129.1,795.7 1181.1,787.9 1220,810 M1279.9,939.5 1311.1,941.7 1343.2,920.5 1369.6,941.3 1405.8,961.5 1432.9,940.9 1459.9,920.8 1489.2,930 1520.3,932 1548.6,916.7 1582.6,914.7 1619.5,937.3 1648.2,924 1680,930" fill="none" stroke="#FF4638" stroke-width="7" opacity="0.9" stroke-dasharray="34 20" stroke-linejoin="round"/>
<path d="M1278.5,691.2 1270.3,672.2 1276.9,655.3 1285.3,638.6 1275.8,615.8 1292.7,607.7 1306.3,596.3 1324.5,589.5 1324.7,561.2 1341.8,551.9 1361.3,546.6 1374.9,545.1 1389.7,560.3 1414.8,563.6 1417.8,587.4 1436.3,590.5 1460.2,601.7 1461.9,586.6 1446.2,568.5 1467.8,556.7 1459.6,540.1 1447.8,527.4 1449.3,510.2 1436.1,498 1444.6,477 1430.8,464.5 1415.2,442.8 1431.7,435 1450.1,430 1452.7,412.1 1438.5,397.6 1446.1,373.9 1455.6,391.1 1473.4,400 1478,417 1499.5,416.8 1511.4,393.2 1527.5,399.1 1542.2,412.6 1555.4,405.4 1588.3,388.3 1588.8,405.6 1584.3,423.8 1586.1,442.6 1596.8,457.2 1619.4,468.1 1618,485.7 1625,501.7 1620,521.3 1640,517 1664.2,523.6 1671.1,509.3 1681.4,497.8 1696,481 1699.2,500.5 1717.9,509.7 1726.2,523.8 1729.4,550.6 1756,564 1749.1,581.1 1727.4,594 1748.8,594.2 1758.9,605.7 1780.4,606.6 1791.3,604.3 1819.4,615.3 1816.8,639.5 1827.6,656.7 1809,669 1815.4,685.5 1816.4,706.4 1796.7,716.7 1778.5,727 1763.6,747.2 1740.5,752.6 1722.1,747.3 1705.3,749.8 1692.2,755.5 1669.7,750.6 1653.6,737.3 1633.8,731.3 1627.9,714.9 1618.1,703.7 1596.4,697.2 1571.6,685.6 1561.8,670.5 1551.3,644.2 1552.2,666.5 1543.6,681.8 1526.9,698.5 1516.5,716.5 1498.8,728.8 1485,742.5 1480.4,768.1 1462.1,764.8 1477.6,774.4 1494.9,779.4 1508.9,789.4 1497.9,815.3 1486.6,795.2 1465.3,800.2 1441.6,787.9 1435.9,807.7 1443.2,828.4 1425.5,812.2 1410.5,787.6 1435.6,772.6 1432.3,741 1409.9,745.2 1386.4,749 1375.5,728 1355,730.9 1339.4,721.2 1324.7,700.6 1302.9,691.3 1287.4,687.7 1270,690Z M1560,330 1580,315 1625,365 1610,385 1575,350Z M1819,410a11,8.8 0 1,0 22,0a11,8.8 0 1,0 -22,0Z M1288.8,766.2 1303.3,780.7 1320,781.4 1335,795.5 1350,790.2 1365,780.1 1384.5,781 1397.7,804.6 1426.8,813.4 1405.4,827.7 1398.9,847.3 1383.3,856.6 1363.8,856.1 1351,868 1330.7,858.6 1308.3,851.4 1293.3,838.5 1277,820 1283.3,805 1282.3,790 1285,775Z M1045,910 1053.5,891.7 1071.4,882.7 1087.5,864.9 1110.2,859.4 1121.7,874.8 1133.5,863.5 1152.2,852.2 1171.2,843.7 1182.1,826.3 1207.4,828.2 1198.1,851.7 1207.4,880.2 1231,871.1 1256.1,876.9 1250.7,904.6 1273.6,921.2 1262.8,934.3 1261.3,948 1246.6,937.5 1237.6,924.9 1228.5,909.4 1207,897 1184.1,916 1174.6,931.4 1172.8,948.6 1158.6,930.7 1148.5,915.8 1128.8,910 1103.3,893.3 1091.9,911.9 1080,938.7 1065,921 1045.1,931.2 1045,910Z M1214,970a16,12.8 0 1,0 32,0a16,12.8 0 1,0 -32,0Z M1840,600 1860,620 1830,640 1870,660 M1950,650 1980,630 2005,650 M1321,690a9,7.2 0 1,0 18,0a9,7.2 0 1,0 -18,0Z M1401,690a9,7.2 0 1,0 18,0a9,7.2 0 1,0 -18,0Z M1652,575a13,10.4 0 1,0 26,0a13,10.4 0 1,0 -26,0Z" fill="none" stroke="#000" stroke-width="11" stroke-linejoin="round" stroke-linecap="round"/>
<g transform="translate(1520 580) rotate(10)"><rect x="-33.0" y="-42" width="66" height="84" fill="#fff"/><text x="0" y="28" font-size="82" font-style="italic" text-anchor="middle" fill="#000">1</text></g>
<g transform="translate(1630 690) rotate(20)"><rect x="-33.0" y="-42" width="66" height="84" fill="#fff"/><text x="0" y="28" font-size="82" font-style="italic" text-anchor="middle" fill="#000">0</text></g>
</svg>
<svg x="352" y="806" width="300" height="210" viewBox="0 0 2000 1400" preserveAspectRatio="none">
<path d="M0,480 30,560 70,580 M0.7,702.2 57.7,683.4 122.6,716.2 182.5,755.7 212.6,784.3 251.1,798.6 302.9,839 320,900 309.7,950.4 359.6,992.4 419.4,999.1 359.8,1039.6 298.4,1078 252,1118.8 280.3,1169.8 306.4,1208.5 289.1,1257.9 219.3,1289.2 163,1342.2 131.4,1372.5 110,1410 M831.7,2.4 794.3,24.1 762.2,53.3 697.8,86.6 642,132.4 580.2,180.3 538.4,207.8 497.6,236.7 459.5,269.3 418.8,298.6 384.8,329.7 347.6,357.6 321.9,391.9 288.7,418.7 259.3,449.3 230.3,480.2 200,520 M657.4,1.3 679.7,35.3 726.9,40 773.2,31.5 823.5,26.5 864.3,70.5 855,110 849.3,151.1 907.7,192.3 959,243 1016.7,257.8 1042,233 1073.5,207.9 1096.9,260.9 1120.4,329.9 1129.3,399.6 1088.2,458.2 1052.4,501.7 1028.6,537.5 996.9,567.8 977.7,606.9 951.7,641.4 903.2,702.6 860.5,750.9 801.1,781.7 740.1,820.2 677.2,856.6 620,910 560.6,960.3 537.5,1000.8 558.1,1060.3 572.7,1121.3 536.9,1178.5 507.2,1239.1 492.3,1299.2 509.8,1360 500,1410 M2006.5,3.2 1941.1,32.9 1898.8,41.8 1859.8,59.6 1801,92 1760,110 M1590.6,180.9 1562.2,202.2 1527.2,227.2 1498.9,259.4 1469.7,310.1 1478.2,359.1 1446.7,418.7 1429.3,471.7 1503,498 1535.3,561.6 1563.1,622.1 1523,678 1560.5,736.8 1619.7,749.2 1660.6,736.6 1698,717 1757.2,678.1 1799.8,619.7 1861.6,573.2 1898,546.1 1941.7,533.7 2005,500 M1208.3,851.7 1258.8,849 1276.6,822.3 1297.8,789.1 1350.6,791.4 1397.5,757.3 1448.7,763.3 1497.6,778.1 1490.9,813.7 1459.4,828.2 1429.8,839.5 1396.2,842.3 1365.6,856.2 1340.3,880.8 1295.9,911.9 1256.8,908.5 1218.4,933.9 1220,900 M1330,290 1350,270 1380,290 M1420,260 1450,310 1460,350" fill="none" stroke="#FF4638" stroke-width="7" opacity="0.9" stroke-dasharray="34 20" stroke-linejoin="round"/>
<path d="M6.5,641.2 26.1,642 41.3,631.5 59.8,628.8 75.6,621.4 94.9,631.1 110.7,621.1 129.4,614.6 148.2,608 159.9,589.9 169.4,576.3 173.5,558.4 195.6,552.8 191.5,525.8 209.3,507.1 228.2,497.9 251.9,504.7 266.3,492.5 283.4,486.8 300.3,480.5 320.5,476.5 338.8,469.1 348.9,447.4 369.8,451.1 385,441 401.9,433.9 424.7,429.4 436.1,404.8 450.9,396.8 466.4,389.7 477.4,376.6 490.6,366.3 502.7,354.7 520,359.3 540,360.3 552.6,353.7 564.2,372.9 579.5,388 599,381 620.7,378 638.4,374.9 657.5,393.8 640.1,410.6 620.5,416.8 596.8,418.9 593.7,434.6 594.9,442.7 600.7,466.4 621.6,469.7 623.8,486.6 629.4,502.8 632.9,520.6 617.6,534.9 613.3,551.3 623.1,576.2 595.9,571.8 575.9,584.5 562.4,594.3 556.2,613.8 531.9,616.7 531.7,636 527.5,653.7 526.1,678.2 506.4,679.7 497.6,695.7 479.2,704.6 466.3,689.6 449.4,698.4 436.1,685.7 421.3,692.6 403.8,707.6 380.5,712.2 361.8,722.1 342.8,727.1 321.9,723.1 305.1,729.3 291.7,746.8 268.8,740.1 250.5,749.4 231.4,747 218,737.1 212,716 194.1,701.9 171.7,693.1 150.5,692.9 124.7,697.9 117.9,675.6 100,679.6 80,663.9 57.1,678.6 48.3,655.1 29.8,660.4 10,650 M452.3,390.9 468.6,410.7 479.6,410 491.9,430 485.6,458.8 510.7,458.6 532.6,469.4 534,447.8 518.4,423.7 537.5,415.2 565.9,416.1 578.5,429.3 581.1,449.3 596.9,460.4 600,480 M400,670 440,640 480,620 490,650 450,680 410,690Z M405.9,1173.7 400.8,1152 424.6,1148.3 427.1,1134.6 437.8,1118.5 454.4,1115.2 470.6,1099.8 487.9,1103.3 502.1,1110.4 492.2,1123.2 491.3,1146.7 469.2,1139.8 451.5,1150.2 436.9,1155.7 423.6,1157.8 400,1170Z M400,1170 440,1200 M215.8,1407.2 230.8,1395.5 243.8,1382.5 258.4,1370.6 258.5,1347.5 275.4,1341.9 288.6,1330.1 305.6,1324.7 320.5,1322.5 336.7,1324.8 352.6,1322.4 368.6,1321.6 383.4,1301.2 401.8,1304.6 411.9,1324.3 429.6,1321.3 447.5,1317.6 457.6,1328.8 441.4,1345.7 443.3,1374.9 426.8,1382.7 414,1396 389.2,1391.3 380,1410 M1790.1,200.1 1799.1,179.5 1810.3,161.3 1826.2,154.2 1844.8,160.5 1858.8,142.6 1874.8,146.4 1891,150.7 1905.4,144.8 1922,148.7 1935.9,131.5 1953.3,129 1970,123.8 1986.1,116.1 2005,120 M1814.5,274.5 1834.8,264.8 1850,250.1 1870.5,252.9 1885.9,243 1901.8,236.1 1917.8,228.8 1931.2,212.8 1941.1,217 1954.8,229.7 1954.9,245.4 1965.3,267 1949.2,273.4 1928.8,274 1923.1,297.7 1906.7,305.1 1888.1,306.9 1870.7,313.2 1855,313.5 1840.1,317 1818,320.9 1811.6,301.4 1820,280Z" fill="none" stroke="#000" stroke-width="11" stroke-linejoin="round" stroke-linecap="round"/>
<path d="M559,500a11,11 0 1,0 22,0a11,11 0 1,0 -22,0Z M395,570a5,5 0 1,0 10,0a5,5 0 1,0 -10,0Z M475,600a5,5 0 1,0 10,0a5,5 0 1,0 -10,0Z M334,740a11,11 0 1,0 22,0a11,11 0 1,0 -22,0Z M562,735a8,8 0 1,0 16,0a8,8 0 1,0 -16,0Z M504,830a6,6 0 1,0 12,0a6,6 0 1,0 -12,0Z M443,915a7,7 0 1,0 14,0a7,7 0 1,0 -14,0Z M194,680a6,6 0 1,0 12,0a6,6 0 1,0 -12,0Z M6,655a14,14 0 1,0 28,0a14,14 0 1,0 -28,0Z" fill="#000"/>
<g transform="translate(275 535) rotate(15)"><rect x="-33.0" y="-42" width="66" height="84" fill="#fff"/><text x="0" y="28" font-size="82" font-style="italic" text-anchor="middle" fill="#000">0</text></g>
<g transform="translate(1650 130) rotate(-30)"><rect x="-73.0" y="-42" width="146" height="84" fill="#fff"/><text x="0" y="28" font-size="82" font-style="italic" text-anchor="middle" fill="#FF1E28">0.3</text></g>
<g transform="translate(1740 215) rotate(0)"><text x="0" y="28" font-size="82" font-style="italic" text-anchor="middle" fill="#000">0</text></g>
</svg>
<svg x="642" y="806" width="300" height="210" viewBox="0 0 2000 1400" preserveAspectRatio="none">
<path d="M-1.4,517.3 61.5,492.7 94.4,468.9 131.7,453 166.5,432.6 200.3,410.7 240.2,395.5 278.7,375.6 351.9,363.4 386.6,342.7 419.3,318.9 457.7,291.4 499.8,269.4 540.6,256.6 581.4,242.9 618.8,217.7 659,198.4 698.7,172.9 739.4,149.3 797.6,98 843.6,50.6 850,-5" fill="none" stroke="#FF4638" stroke-width="7" opacity="0.9" stroke-dasharray="34 20" stroke-linejoin="round"/>
<path d="M1.4,155.6 20.1,145.3 42.7,150.6 60.2,135.8 72,135.3 96.8,140.5 100,160.1 81.9,172.7 61.3,180.6 41.1,181.6 20,175 M0,230 30,220 35,270 0,280" fill="none" stroke="#000" stroke-width="11" stroke-linejoin="round" stroke-linecap="round"/>
</svg>
<svg x="352" y="1016" width="300" height="210" viewBox="0 0 2000 1400" preserveAspectRatio="none">
<path d="M523.4,1.4 498,47.6 437.7,97 401,129.5 421.3,171.8 383,199.4 391.6,253.9 340.4,272.8 300.4,278 259.4,276.5 200,290 M101,-2 160.4,29.8 179.6,79.8 150,130 M145.7,189.1 141,240.4 117.4,291.9 151.4,327.9 180,350 M269.5,403.2 332.3,408.3 357.3,446.5 320,480.1 259.8,471 209,460.5 230.5,496.7 300.4,507 370.8,519.8 382.7,570.4 368.8,628.8 319.5,680.7 260.2,641.1 198.9,651.9 147.8,621.7 121.3,581.7 162.8,547.2 130,520 M120.2,1049.9 148.4,1100.5 168.9,1160.5 199.1,1221.8 236.1,1240.8 249.5,1292.5 300.7,1296.7 350,1307.2 420.4,1309.9 426.1,1349.9 430,1390 M114.5,1058.7 126.6,1131.4 157.8,1200.5 174.7,1238.8 179.5,1279.9 172.5,1339.2 190,1405 M80,1280 100,1330 80,1405 M280,1170 320,1165 M1400.2,711.8 1329.6,709.1 1258.4,738.4 1224.7,778.7 1239.1,851.1 1289.1,892.2 1360,919.8 1420.2,929.9 1442.5,980 1440.7,1030.6 1399.2,1079.8 1376.9,1148.1 1349.3,1200.3 1380.4,1259.8 1401.2,1308.6 1448.7,1352.2 1500.9,1378.5 1540,1405 M1546.1,762.6 1583.9,779.5 1620.6,799.2 1680.6,836.6 1740.3,849.1 1800.9,866.3 1839.9,880.3 1880,890.7 1920,888.5 1960.7,893 2005,880 M1878.5,1131.5 1900.5,1146.9 1958.4,1156.3 2005,1140" fill="none" stroke="#FF4638" stroke-width="7" opacity="0.9" stroke-dasharray="34 20" stroke-linejoin="round"/>
<path d="M228,15a22,17.6 0 1,0 44,0a22,17.6 0 1,0 -44,0Z M345,40 380,15 420,10 430,45 400,75 365,80Z M70,135 100,125 150,140 155,165 120,170 80,160Z M190,355 230,345 270,355 265,380 220,388 190,375Z M1729.6,989.6 1764.2,1004.2 1773,993 1757.4,957.4 1793.5,973.5 1788.9,948.9 1793,933 1819.2,939.2 1809.3,930.7 1844.1,915.9 1850.3,929.7 1858.2,941.8 1866.4,963.8 1853.5,973.1 1838.3,981 1832.4,994.4 1820.4,990.9 1818.3,1019.9 1808.6,1034 1790,1030 M1749.8,1009.8 1760.9,1000.9 1761.2,981.2 1778.4,978.4 1793,973 1794.2,954.2 1784.9,924.9 1805.6,925.6 1827,913 1818.7,941.3 1830.4,949.6 1849.8,950.2 1859.4,959.6 1861.4,977.8 1835.9,979.5 1845.2,1002.1 1837.1,1024.2 1823.7,1030.6 1795.5,1007.7 1790,1030 M1749.7,1009.7 1764.3,1004.3 1775.1,995.1 1767,967 1770.6,950.6 1787.9,947.9 1789.8,929.8 1820.6,940.6 1826.1,913.9 1841.6,918.4 1850.9,929.1 1837.9,962.1 1863.6,962.1 1840.4,965.2 1829.2,975.5 1822.1,988.3 1833.7,1017.3 1808.1,999.5 1800.4,1017.5 1790,1030 M1556.4,1145.1 1590.4,1126.3 1588.3,1155.8 1609.8,1161.8 1625,1170.8 1620,1190 M1572.1,1117.5 1576.1,1151.2 1608,1146 1597.2,1168.1 1604.5,1181.1 1620,1190 M1572.6,1116.8 1584.5,1136.4 1588.5,1155.7 1603.1,1165.1 1628.8,1169 1620,1190 M1778,1298.1 1800.8,1291.8 1822.9,1305.7 1844.4,1298.9 1861.8,1276.3 1877.4,1295.3 1897.8,1297.1 1908.9,1284.1 1924.7,1277.3 1942.5,1274.9 1956.5,1253.1 1982.2,1252.7 1990.5,1237.4 2005,1230 M1797.9,1314.1 1816.1,1327.9 1838.3,1319.5 1856.6,1337.1 1871.2,1332 1883.4,1312.9 1897,1326 1917,1336 1935.7,1334.6 1959,1338.1 1963.1,1317.7 1976.8,1309.2 1990,1300" fill="none" stroke="#000" stroke-width="11" stroke-linejoin="round" stroke-linecap="round"/>
<path d="M1770,1095a5,5 0 1,0 10,0a5,5 0 1,0 -10,0Z" fill="#000"/>
<ellipse cx="310" cy="95" rx="16" ry="11" transform="rotate(-40 310 95)" fill="#000"/>
<g transform="translate(255 210) rotate(22)"><rect x="-73.0" y="-42" width="146" height="84" fill="#fff"/><text x="0" y="28" font-size="82" font-style="italic" text-anchor="middle" fill="#FF1E28">0.3</text></g>
<g transform="translate(1470 748) rotate(8)"><text x="0" y="28" font-size="82" font-style="italic" text-anchor="middle" fill="#FF1E28">0.3</text></g>
<g transform="translate(1945 1085) rotate(0)"><text x="0" y="28" font-size="82" font-style="italic" text-anchor="middle" fill="#FF1E28">0.3</text></g>
</svg>
<svg x="642" y="1016" width="300" height="210" viewBox="0 0 2000 1400" preserveAspectRatio="none">
<path d="M270.1,540 290.2,600 292.3,640.3 297,679.3 291.6,720.4 279.7,759.7 229.3,819 169.4,858 98.9,875.6 39.5,892.6 -5,905 M310.1,599.9 342.7,638.7 366.3,703.1 419.3,764.1 480.4,772.4 540,763.4 580,755.3 620.3,762.6 659.5,751.1 699.9,748.9 740,744.9 780,737.5 820,740.5 859.9,739.6 899.4,730.3 939.7,727.9 1000,720 M600.3,681.7 659.2,671 699.3,699.6 680,740.1 623,739 600,680Z M943.7,607.5 969.3,583.5 1001.5,582.3 1039.1,557.7 1080.2,562 1119.8,553.2 1158.3,543.3 1197.1,528.5 1240,530 M1019,592.1 1059.4,590.2 1100.4,592.9 1139.1,577.6 1185.7,589.5 1230,550 M760,640 800,620 830,650 M1099.4,804.9 1060.2,793.1 1020.1,789.6 959.4,776.1 900,785.6 848.4,790 847.8,858.9 829.7,900.4 870,930.3 933.7,918.8 920.6,887.5 880,880 M944.2,747.4 967.5,777.5 998,774 1026.4,759.3 1060,760 M559.9,1000.2 604.6,1021.1 588.9,1062.6 639.2,1076.9 680.5,1071.9 720,1055 760,1057.7 799.9,1060.6 868.2,1070.4 881.3,1123.8 939.4,1099.4 977.8,1060.7 958.8,999.1 1000,952.4 1058.8,952.9 1130,980 M100.1,1150.8 150.2,1146.8 200,1139.9 250,1144.9 299.8,1148.5 350.3,1148.3 399.8,1137.6 449.6,1131 500,1130 M556.8,1112.5 596.7,1161.1 624.3,1218.6 641.2,1282.5 601.5,1298 640,1330 M0,1060 60,1040 130,1030 M130,1080 160,1020 M700.5,1146.4 739.8,1156.2 780.3,1162.7 819.5,1150.7 859.5,1150.4 896.3,1198.5 880.8,1251.3 822.1,1294.1 778.2,1314.4 830.1,1329.1 899.5,1342.9 960,1352.1 1000,1349.3 1040.8,1354.7 1102.8,1343.4 1156.5,1287.6 1195.4,1229.2 1210.6,1165.9 1140.1,1160.6 1078.9,1174.5 1040,1160 M819,1289.6 802.5,1337.5 838.6,1384.2 900,1400 M1100,1340 1160,1360 1150,1405 M1740.4,714.3 1680.2,717.5 1640.2,721.1 1600.6,724.4 1559.6,722 1519.9,729.2 1480.1,736 1442,743.9 1377.6,768.2 1352.9,808.8 1370.3,856.4 1440,865 M1739,743.1 1801.2,763.7 1859.4,736.9 1915,730 M1778.5,771.5 1818.9,813.3 1880,834.5 1915,830 M1910.5,428.4 1891,500.5 1862.8,562.1 1825.4,601.1 1840,640 M1596.1,903.1 1641.9,946.2 1698.9,977.9 1740,960 M1500,1000 1540,990 1560,1010 M1599.2,1100.3 1620.2,1150.4 1662.2,1133.3 1724,1087.3 1700,1060 M1915,1180.1 1876.1,1191.4 1840.9,1212.4 1800.5,1226.3 1760.3,1242.7 1720.4,1248.4 1680.5,1245.9 1639.5,1248.6 1599.5,1239.6 1570.9,1279.1 1600.5,1314.3 1639.5,1300.9 1678.7,1296.6 1719.8,1284.4 1758.4,1265.7 1799.6,1254 1840.7,1242.5 1915,1220 M1598.9,899.8 1592.5,958.8 1624.8,1020.8 1610,1080 M1840,980 1860,1040 1850,1100" fill="none" stroke="#FF4638" stroke-width="7" opacity="0.9" stroke-dasharray="34 20" stroke-linejoin="round"/>
<path d="M100,970.2 117.1,968.8 132.5,959.1 143.3,966.7 161.4,978.6 180.9,984.3 164.8,988.4 143.1,982.3 138.4,1005.1 124.4,1013.1 102,1023.2 98.9,995 100,970Z M250,1045 290,1035 330,1050 340,1075 300,1085 290,1065Z M1.1,1291.1 14.5,1277.9 26,1262.7 41.8,1252.7 54.7,1239.5 70.6,1229.9 82.3,1248.2 84.5,1263.3 93.5,1282.3 118.1,1285.9 116.5,1311.7 129.2,1330.4 142.8,1348.6 144.6,1372.2 159,1385.7 165,1402.7 170,1420 M49.8,1252 34,1266.1 32,1283.1 36.3,1293.7 52.3,1307.7 50.5,1328.1 58.6,1347.1 57.7,1364.2 48.3,1383.3 65.7,1398.5 90,1400 M370,1340 390,1320 420,1330 410,1360 380,1365Z M475,1376.6 484.2,1361.2 503.3,1354.4 510.7,1336.5 526.4,1329.7 542.4,1324.8 555.8,1318.2 564.6,1302.5 576.1,1307.7 594.8,1303.7 608.3,1310 618.1,1312.4 640.2,1315.9 665.5,1302.7 671.3,1322.8 690.5,1324.9 697.2,1343.7 710.7,1353.6 724.5,1362.9 736.8,1372.8 750.4,1381.3 755.5,1397.2 770,1405 M481.2,1380.8 491.4,1366 497.9,1347.2 513.7,1340.4 523.1,1325.2 542,1323.9 553.6,1313.9 568.8,1310.9 576.8,1306.5 594,1305.4 607.8,1311.1 620.7,1322.8 639.1,1311.6 659.5,1310.7 669.8,1324.7 689.6,1326.1 697,1344 710.7,1353.5 722.3,1365.8 739.5,1370.5 750.3,1381.4 763.4,1390.4 770,1405 M486.7,1384.5 498.3,1370.5 498.2,1347.5 508.2,1333.1 525.3,1328.1 542.3,1324.6 549.7,1306.1 566.5,1306.3 581.9,1296.3 590.4,1312.5 608.8,1309 619.2,1317 642,1322.8 654.5,1317.3 668.7,1326.2 692.6,1322.1 703,1336.1 715.1,1347.7 730.8,1354.4 732.6,1376.4 743.2,1387.5 763.4,1390.5 770,1405 M945.4,1310.2 947.8,1288.2 962.4,1274.7 982.9,1265.9 1002.9,1251.4 1000.6,1225.3 1016.3,1205.6 1032.7,1194.8 1046.3,1194.8 1068.8,1195.8 1089.5,1200.4 1096.9,1217.1 1117.8,1226.1 1119,1246.1 1099.2,1251.7 1083.5,1265.3 1066.7,1272.6 1050.6,1281.8 1031.8,1275.5 1021.6,1292.4 1010.8,1308.6 990,1303.1 975,1302 960,1313.5 945,1310Z" fill="none" stroke="#000" stroke-width="11" stroke-linejoin="round" stroke-linecap="round"/>
<path d="M713,1128a7,7 0 1,0 14,0a7,7 0 1,0 -14,0Z M235,1055a5,5 0 1,0 10,0a5,5 0 1,0 -10,0Z M900,1295a5,5 0 1,0 10,0a5,5 0 1,0 -10,0Z M112,1130a8,8 0 1,0 16,0a8,8 0 1,0 -16,0Z" fill="#000"/>
<g transform="translate(1155 1060) rotate(5)"><text x="0" y="28" font-size="82" font-style="italic" text-anchor="middle" fill="#FF1E28">0.3</text></g>
<g transform="translate(1540 862) rotate(0)"><text x="0" y="28" font-size="82" font-style="italic" text-anchor="middle" fill="#FF1E28">0.3</text></g>
<g transform="translate(1790 690) rotate(50)"><text x="0" y="28" font-size="82" font-style="italic" text-anchor="middle" fill="#FF1E28">0.3</text></g>
</svg>
</g>
</g>
<rect x="63" y="598" width="866" height="626" fill="none" stroke="#6e6e6e" stroke-width="2"/>
<text x="92.5" y="594" font-size="10.8" font-weight="bold" fill="#8f5c08" text-anchor="middle" textLength="34.5" lengthAdjust="spacingAndGlyphs">140°W</text>
<text x="252.5" y="594" font-size="10.8" font-weight="bold" fill="#8f5c08" text-anchor="middle" textLength="34.5" lengthAdjust="spacingAndGlyphs">120°W</text>
<text x="376.5" y="594" font-size="10.8" font-weight="bold" fill="#8f5c08" text-anchor="middle" textLength="34.5" lengthAdjust="spacingAndGlyphs">100°W</text>
<text x="499" y="594" font-size="10.8" font-weight="bold" fill="#8f5c08" text-anchor="middle" textLength="25.2" lengthAdjust="spacingAndGlyphs">80°W</text>
<text x="660" y="594" font-size="10.8" font-weight="bold" fill="#8f5c08" text-anchor="middle" textLength="25.2" lengthAdjust="spacingAndGlyphs">60°W</text>
<text x="376.5" y="1236" font-size="10.8" font-weight="bold" fill="#8f5c08" text-anchor="middle" textLength="34.5" lengthAdjust="spacingAndGlyphs">100°W</text>
<text x="727" y="1236" font-size="10.8" font-weight="bold" fill="#8f5c08" text-anchor="middle" textLength="25.2" lengthAdjust="spacingAndGlyphs">80°W</text>
<text x="38" y="638" font-size="10.8" font-weight="bold" fill="#8f5c08" text-anchor="middle" textLength="34.5" lengthAdjust="spacingAndGlyphs">140°W</text>
<text x="38" y="1129.5" font-size="10.8" font-weight="bold" fill="#8f5c08" text-anchor="middle" textLength="34.5" lengthAdjust="spacingAndGlyphs">120°W</text>
<text x="946" y="919" font-size="10.8" font-weight="bold" fill="#8f5c08" text-anchor="middle" textLength="25.2" lengthAdjust="spacingAndGlyphs">60°W</text>
<text x="377" y="647.5" font-size="10.8" font-weight="bold" fill="#8f5c08" text-anchor="middle" textLength="25.2" lengthAdjust="spacingAndGlyphs">60°N</text>
<text x="377" y="787.5" font-size="10.8" font-weight="bold" fill="#8f5c08" text-anchor="middle" textLength="25.2" lengthAdjust="spacingAndGlyphs">50°N</text>
<text x="377" y="936.5" font-size="10.8" font-weight="bold" fill="#8f5c08" text-anchor="middle" textLength="25.2" lengthAdjust="spacingAndGlyphs">40°N</text>
<text x="377" y="1096.5" font-size="10.8" font-weight="bold" fill="#8f5c08" text-anchor="middle" textLength="25.2" lengthAdjust="spacingAndGlyphs">30°N</text>
<g clip-path="url(#clipR)">
<g filter="url(#rough)">
<svg x="1060" y="576" width="320" height="230" viewBox="-133.3 -133.3 2133.3 1533.3" preserveAspectRatio="none">
<rect x="-300" y="-300" width="2600" height="2000" fill="#50FF00"/>
<path d="M830,-153.3 820,60 850,120 900,130 960,100 1010,140 1050,180 1080,260 1060,300 1010,330 990,380 1000,420 1040,460 1060,520 1080,600 1110,660 1140,720 1160,800 1190,870 1200,940 1230,1010 1270,1060 1290,1130 1330,1200 1340,1270 1300,1300 1310,1350 1330,1420 2020,1420 2020,-153.3Z" fill="#B8FA00"/>
<path d="M770,540 830,560 860,640 850,760 880,860 900,960 930,1040 950,1120 900,1100 860,1000 820,900 790,800 770,700 760,600Z" fill="#B8FA00"/>
<path d="M800,1420 830,1300 900,1280 960,1330 980,1420Z" fill="#B8FA00"/>
<path d="M1360,50 1400,35 1440,60 1440,100 1400,115 1365,95Z" fill="#FFFF00"/>
<path d="M1440,110 1500,100 1535,130 1520,160 1470,160Z" fill="#FFFF00"/>
<path d="M1700,65 1740,55 1765,80 1740,100 1705,95Z" fill="#FFFF00"/>
<path d="M-173.3,-153.3 680,-153.3 690,150 720,230 760,280 800,320 770,370 720,420 700,500 700,600 715,700 740,800 790,900 830,970 860,1050 880,1100 870,1160 850,1220 830,1280 800,1340 780,1420 -173.3,1420Z" fill="#339900"/>
<path d="M900,740 930,700 950,760 960,850 1000,880 1040,920 1060,960 1040,1020 1000,1040 990,1100 1010,1160 990,1200 940,1180 900,1120 880,1060 920,1000 950,940 930,860 905,800Z" fill="#339900"/>
<path d="M1090,950 1130,960 1160,1020 1190,1080 1200,1130 1160,1130 1120,1080 1100,1010Z" fill="#339900"/>
<path d="M1160,1150 1220,1200 1250,1280 1270,1340 1290,1420 1200,1420 1190,1330 1160,1260 1140,1200Z" fill="#339900"/>
<path d="M870,1100 1000,1100 1020,1180 1000,1260 960,1300 900,1280 870,1200Z" fill="#339900"/>
<path d="M250,-153.3 245,100 255,180 290,260 285,330 255,400 240,470 205,540 160,565 110,560 60,590 -173.3,600 -173.3,1420 770,1420 790,1340 818,1280 838,1220 858,1160 866,1100 848,1050 818,970 778,900 728,800 703,700 688,600 688,500 708,420 755,365 780,320 745,285 708,230 678,150 668,-153.3Z" fill="#00FA9A"/>
<path d="M940,540 970,560 1000,640 1030,700 1050,780 1060,850 1080,900 1050,920 1010,880 980,840 960,760 950,680 935,600Z" fill="#00FA9A"/>
<path d="M1000,1040 1060,1000 1100,1040 1130,1100 1160,1150 1150,1220 1180,1300 1200,1420 1100,1420 1090,1330 1050,1290 1020,1220 1030,1160 1000,1100Z" fill="#00FA9A"/>
<path d="M415,-153.3 410,120 425,220 440,320 455,400 470,480 465,560 440,640 415,720 415,800 430,880 450,960 490,1040 520,1100 530,1180 520,1260 480,1330 420,1400 400,1420 760,1420 780,1340 805,1280 825,1220 845,1160 852,1100 835,1050 805,970 765,900 715,800 690,700 680,600 690,500 700,400 700,300 690,230 665,150 655,-153.3Z" fill="#00FFFF"/>
<path d="M440,-153.3 435,200 450,330 490,420 500,520 490,600 470,680 465,760 470,830 490,900 520,980 550,1060 560,1150 545,1250 530,1330 520,1420 690,1420 700,1330 730,1290 770,1260 800,1220 825,1160 835,1100 820,1050 790,970 750,900 700,800 675,700 665,600 670,500 680,400 680,300 670,230 650,150 640,-153.3Z" fill="#00BFBF"/>
<path d="M460,-153.3 455,200 470,330 500,420 520,520 510,620 490,700 480,800 500,880 530,960 560,1040 575,1140 570,1220 610,1250 680,1230 720,1160 760,1120 800,1100 810,1050 780,980 740,900 690,800 660,700 650,600 655,500 665,400 665,300 650,230 630,150 620,-153.3Z" fill="#007878"/>
<path d="M700,1160 800,1130 830,1200 800,1280 740,1300 700,1260Z" fill="#007878"/>
<path d="M590,1290 680,1270 700,1330 690,1420 600,1420Z" fill="#00FFFF"/>
<path d="M560,280 640,300 650,360 600,400 550,380Z" fill="#0096FF"/>
<path d="M530,420 620,420 640,520 630,620 600,660 560,640 530,560Z" fill="#0096FF"/>
<path d="M580,780 620,800 610,840 575,830Z" fill="#0096FF"/>
<path d="M480,850 520,860 560,930 600,1000 640,1080 620,1100 580,1050 530,980 490,910Z" fill="#0096FF"/>
<path d="M720,1010 780,1020 780,1080 730,1080Z" fill="#0096FF"/>
<path d="M570,1150 650,1150 660,1200 610,1230 570,1210Z" fill="#0096FF"/>
<path d="M620,1340 670,1340 670,1380 620,1380Z" fill="#0096FF"/>
<path d="M-173.3,-153.3 250,-153.3 245,100 255,180 290,260 285,330 255,400 240,470 205,540 160,565 110,560 60,590 -173.3,600Z" fill="#339900"/>
<path d="M60,600 200,580 210,620 150,660 130,700 70,720 40,660Z" fill="#339900"/>
<path d="M40,790 140,790 150,860 90,920 100,960 50,990 20,950 40,880 10,850Z" fill="#339900"/>
<path d="M190,960 260,950 280,1010 330,1080 340,1110 300,1100 250,1050 200,1010Z" fill="#339900"/>
<path d="M80,1180 160,1150 200,1180 250,1160 270,1200 220,1230 160,1220 110,1250 70,1240Z" fill="#339900"/>
<path d="M200,1100 240,1090 250,1130 210,1140Z" fill="#339900"/>
</svg>
<svg x="1370" y="576" width="300" height="230" viewBox="0 -133.3 2000 1533.3" preserveAspectRatio="none">
<rect x="-300" y="-300" width="2600" height="2000" fill="#B8FA00"/>
<path d="M1640,-153.3 1600,100 1590,200 1600,300 1580,400 1560,500 1500,560 1440,600 1380,660 1330,700 1290,740 1240,770 1180,790 1120,800 1050,810 1000,790 950,770 900,750 850,740 800,770 760,810 740,860 740,920 760,980 770,1040 750,1100 740,1180 720,1260 650,1290 560,1290 470,1310 380,1320 300,1300 200,1290 130,1300 60,1330 -20,1350 -20,1420 2020,1420 2020,-153.3Z" fill="#50FF00"/>
<path d="M90,1000 130,1020 150,1100 120,1140 90,1080Z" fill="#50FF00"/>
<path d="M510,570 570,560 590,600 550,625 515,610Z" fill="#50FF00"/>
<path d="M1880,-153.3 1900,100 1930,160 1900,260 1890,340 1900,420 1870,500 1840,560 1790,620 1740,680 1700,740 1680,800 1650,870 1620,920 1570,960 1500,1000 1450,1060 1420,1120 1380,1160 1330,1200 1280,1230 1230,1260 1180,1270 1100,1280 1050,1270 990,1260 930,1280 880,1320 840,1370 820,1420 2020,1420 2020,-153.3Z" fill="#339900"/>
<path d="M1900,-153.3 1960,60 2020,110 2020,-153.3Z" fill="#00FA9A"/>
<path d="M2020,560 1950,600 1900,680 1880,740 1850,780 1800,800 1750,850 1720,920 1690,980 1640,1040 1600,1080 1560,1100 1540,1160 1500,1220 1460,1290 1420,1350 1390,1420 2020,1420Z" fill="#00FA9A"/>
<path d="M1960,1080 1990,1080 1995,1110 1965,1115Z" fill="#00FFFF"/>
<path d="M1850,1240 1880,1240 1885,1268 1852,1270Z" fill="#00FFFF"/>
<path d="M1205,380 1240,378 1243,402 1208,405Z" fill="#FFFF00"/>
</svg>
<svg x="1660" y="576" width="320" height="230" viewBox="0 -133.3 2133.3 1533.3" preserveAspectRatio="none">
<rect x="-300" y="-300" width="2600" height="2000" fill="#00FFFF"/>
<path d="M330,-153.3 1215,-153.3 1190,130 1215,230 1150,240 1100,270 1040,300 1000,330 950,300 900,260 850,240 800,230 740,250 690,290 660,330 640,400 640,480 660,540 670,590 700,600 760,570 800,560 795,640 765,700 770,760 740,840 700,880 640,900 560,920 500,920 440,890 400,850 390,790 360,800 340,860 330,920 310,980 270,1050 240,1100 230,1200 200,1300 170,1420 -20,1420 -20,-153.3Z" fill="#00FA9A"/>
<path d="M240,60 330,30 400,60 480,90 540,130 555,200 520,260 495,330 480,420 420,470 350,510 280,560 220,610 170,660 150,720 120,740 160,640 210,580 280,520 350,470 420,420 470,350 490,270 500,210 440,150 380,110 300,100Z" fill="#00FFFF"/>
<path d="M350,455 410,450 420,480 370,495 345,480Z" fill="#00BFBF"/>
<path d="M-20,80 60,90 130,130 190,180 250,185 240,220 180,230 185,300 160,350 200,420 150,440 110,500 90,560 40,600 -20,640Z" fill="#339900"/>
<path d="M20,1040 60,1000 90,1040 60,1100 20,1120Z" fill="#00FFFF"/>
<path d="M770,330 840,290 900,290 930,330 900,390 850,420 790,440 740,460 720,420Z" fill="#C8FFFF"/>
<path d="M700,420 760,400 820,380 860,390 840,440 790,500 740,550 700,570 680,540 690,470Z" fill="#00BFBF"/>
<path d="M715,470 770,420 820,400 830,430 780,490 730,540 700,550Z" fill="#007878"/>
<path d="M705,520 740,480 760,490 730,540 710,550Z" fill="#0096FF"/>
<path d="M1590,-153.3 1620,120 1650,200 1640,300 1650,380 1700,440 1690,520 1650,580 1700,620 1760,560 1830,500 2073.3,420 2073.3,-153.3Z" fill="#00BFBF"/>
<path d="M1760,60 1800,120 1820,220 1800,300 1770,260 1750,160Z" fill="#00FFFF"/>
<path d="M2073.3,420 1830,500 1760,560 1700,620 1680,700 1620,750 1560,780 1490,770 1440,800 1400,860 1370,930 1320,980 1250,1000 1200,970 1150,1000 1080,1010 1040,1050 980,1010 930,980 900,960 890,1040 850,1080 820,1120 800,1200 790,1280 760,1340 770,1420 2073.3,1420Z" fill="#00BFBF"/>
<path d="M1480,1000 1540,960 1560,900 1600,860 1650,880 1640,960 1600,1040 1560,1100 1520,1180 1480,1140Z" fill="#00FFFF"/>
<path d="M1700,900 1760,880 1800,940 1790,1040 1750,1100 1700,1060Z" fill="#00FFFF"/>
<path d="M1230,1280 1300,1230 1350,1180 1420,1150 1480,1180 1460,1260 1400,1330 1340,1400 1280,1420 1240,1360Z" fill="#00FFFF"/>
<path d="M1500,1250 1560,1200 1600,1120 1650,1100 1700,1150 1720,1250 1690,1330 1640,1400 1560,1420 1520,1340Z" fill="#00FFFF"/>
<path d="M1750,1250 1800,1200 1830,1280 1820,1380 1780,1420 1740,1350Z" fill="#00FFFF"/>
<path d="M900,1100 950,1090 960,1160 920,1200 880,1160Z" fill="#00FFFF"/>
<path d="M1830,1330 2073.3,1300 2073.3,1420 1840,1420Z" fill="#00FFFF"/>
<path d="M1210,400 1280,420 1270,520 1230,500Z" fill="#00FA9A"/>
<path d="M950,620 1000,580 1050,640 1000,670Z" fill="#00FA9A"/>
</svg>
<svg x="1060" y="806" width="320" height="210" viewBox="-133.3 0 2133.3 1400" preserveAspectRatio="none">
<rect x="-300" y="-300" width="2600" height="2000" fill="#50FF00"/>
<path d="M1300,0 2020,0 2020,330 1900,360 1800,340 1720,300 1620,260 1540,230 1500,150 1440,100 1380,110 1330,70Z" fill="#B8FA00"/>
<path d="M900,380 1000,350 1100,380 1200,420 1260,380 1300,420 1260,480 1180,500 1100,540 1050,600 1000,660 960,700 900,680 860,620 800,640 740,600 680,620 640,580 660,500 720,440 800,420 860,440Z" fill="#B8FA00"/>
<path d="M1320,560 1420,520 1500,540 1560,600 1640,620 1660,680 1600,720 1500,740 1400,760 1320,800 1280,780 1300,700 1340,640Z" fill="#B8FA00"/>
<path d="M1180,900 1260,880 1320,920 1340,1000 1300,1080 1240,1120 1200,1200 1120,1240 1060,1300 1000,1380 960,1420 700,1420 680,1340 720,1260 700,1180 660,1120 700,1100 760,1140 830,1180 900,1200 960,1160 1020,1100 1100,1060 1150,980Z" fill="#B8FA00"/>
<path d="M1380,1180 1440,1140 1500,1200 1560,1260 1640,1300 1720,1330 1800,1380 1840,1420 1300,1420 1320,1340 1350,1260Z" fill="#B8FA00"/>
<path d="M860,250 920,260 900,330 850,340Z" fill="#B8FA00"/>
<path d="M830,-10 930,-10 960,60 900,120 850,200 800,300 740,400 700,460 660,440 700,350 750,250 790,150 810,60Z" fill="#B8FA00"/>
<path d="M-173.3,-10 780,-10 750,50 715,100 690,140 650,165 625,200 615,250 630,300 650,350 655,400 645,450 640,500 630,550 620,600 600,650 590,700 600,760 620,800 640,900 660,980 640,1050 590,1090 560,1130 600,1200 650,1260 660,1340 640,1420 -173.3,1420Z" fill="#339900"/>
<path d="M-173.3,-10 740,-10 700,60 660,110 610,170 560,230 545,280 575,325 590,390 580,450 590,500 600,550 595,625 585,700 590,760 605,800 625,900 645,980 625,1040 575,1080 545,1130 585,1200 635,1260 645,1340 625,1420 -173.3,1420Z" fill="#00FA9A"/>
<path d="M-173.3,800 120,790 190,810 200,870 150,900 180,960 210,1000 180,1060 120,1080 60,1100 -173.3,1110Z" fill="#339900"/>
<path d="M30,860 100,850 160,880 100,900 40,900Z" fill="#00FA9A"/>
<path d="M-173.3,1130 80,1110 160,1100 230,1130 300,1200 330,1180 380,1200 440,1260 500,1330 530,1420 -173.3,1420Z" fill="#339900"/>
<path d="M60,1330 160,1290 260,1310 330,1360 380,1420 40,1420Z" fill="#50FF00"/>
<path d="M400,-10 330,50 250,100 190,150 145,200 115,250 105,300 100,350 115,400 105,450 100,500 115,550 165,590 200,625 240,660 270,700 280,760 290,850 300,950 320,1050 340,1120 400,1180 460,1230 510,1300 540,1420 615,1420 635,1340 620,1260 570,1200 530,1120 560,1080 605,1040 625,980 610,900 590,800 575,700 570,625 575,550 560,500 550,450 560,390 550,325 520,280 530,235 575,175 625,115 665,60 710,-10Z" fill="#00FFFF"/>
<path d="M300,720 380,700 460,720 500,800 510,900 520,1000 480,1060 430,1100 380,1110 340,1050 320,950 305,850Z" fill="#00FA9A"/>
<path d="M420,920 460,1000 450,1060 420,1040Z" fill="#339900"/>
<path d="M480,-10 400,60 330,120 270,180 225,230 195,280 180,330 178,380 195,420 215,445 250,450 265,560 275,650 300,700 380,690 450,710 500,780 520,860 540,940 570,1000 600,960 590,880 570,780 550,680 545,600 540,500 530,440 520,380 500,330 495,280 510,235 550,175 600,115 640,60 680,-10Z" fill="#00BFBF"/>
<path d="M420,130 500,100 560,60 600,60 560,140 500,200 440,230 400,200Z" fill="#00FFFF"/>
<path d="M290,560 360,540 420,580 440,660 380,690 300,690Z" fill="#00FFFF"/>
<path d="M280,380 340,390 350,440 320,500 280,490 265,440Z" fill="#007878"/>
<path d="M560,40 620,30 600,100 570,120 555,80Z" fill="#007878"/>
<path d="M380,400 500,380 520,440 480,480 400,470Z" fill="#007878"/>
<path d="M440,520 500,500 540,560 550,680 520,700 480,620Z" fill="#007878"/>
<path d="M500,760 560,780 590,880 600,960 570,990 540,920 515,840Z" fill="#007878"/>
<path d="M350,200 390,210 400,300 380,350 350,340 345,270Z" fill="#0096FF"/>
<path d="M430,400 480,390 490,420 450,450 420,440Z" fill="#0096FF"/>
<path d="M450,540 490,540 520,620 525,680 500,680 470,610Z" fill="#0096FF"/>
<path d="M520,830 550,840 545,870 520,865Z" fill="#0096FF"/>
<path d="M535,895 560,900 555,925 535,920Z" fill="#0096FF"/>
<path d="M270,430 290,440 290,480 270,475Z" fill="#0096FF"/>
<path d="M490,20 510,20 510,50 490,50Z" fill="#0096FF"/>
<path d="M350,245 370,245 370,270 350,270Z" fill="#0000FF"/>
<path d="M400,1140 470,1150 540,1200 620,1260 650,1340 640,1420 560,1420 520,1310 470,1250 410,1190Z" fill="#00FFFF"/>
<path d="M500,1210 560,1220 600,1270 580,1290 530,1260Z" fill="#00BFBF"/>
<path d="M570,1340 610,1340 610,1420 580,1420Z" fill="#00BFBF"/>
<path d="M800,150 860,60 920,30 1000,0 1180,0 1170,80 1140,140 1100,200 1080,280 1120,340 1100,390 1030,380 980,340 960,260 900,180 840,190Z" fill="#339900"/>
<path d="M1280,320 1340,300 1400,330 1440,400 1470,480 1450,540 1400,500 1360,440 1320,500 1290,440Z" fill="#339900"/>
<path d="M1200,540 1260,520 1280,600 1250,680 1300,700 1380,710 1370,740 1280,740 1240,800 1220,860 1180,840 1190,760 1170,700 1140,640 1150,580Z" fill="#339900"/>
<path d="M1820,680 1900,700 1960,690 2020,680 2020,1000 1960,1020 1900,1060 1840,1080 1800,1140 1740,1120 1700,1060 1660,1000 1600,980 1540,960 1500,900 1540,860 1600,880 1660,840 1680,780 1740,760 1800,740Z" fill="#339900"/>
<path d="M1540,700 1590,690 1610,760 1590,800 1550,770Z" fill="#339900"/>
<path d="M840,1000 900,960 960,900 1000,940 1100,960 1130,1020 1100,1060 1020,1060 960,1090 940,1160 900,1200 860,1160 830,1080Z" fill="#339900"/>
<path d="M860,1240 920,1200 980,1230 1040,1280 1100,1340 1160,1380 1200,1420 880,1420 870,1340Z" fill="#339900"/>
<path d="M1400,1020 1460,1000 1520,1040 1580,1100 1620,1180 1600,1220 1540,1200 1480,1140 1420,1100Z" fill="#339900"/>
<path d="M1800,1100 1900,1080 2020,1060 2020,1420 1960,1420 1940,1340 1900,1260 1840,1200 1800,1160Z" fill="#339900"/>
<path d="M1100,860 1160,820 1200,860 1160,920 1110,920Z" fill="#339900"/>
<path d="M680,960 760,940 790,980 740,1010 690,1000Z" fill="#339900"/>
<path d="M1400,270 1450,270 1470,310 1430,320Z" fill="#339900"/>
<path d="M880,70 940,50 960,100 930,150 890,130Z" fill="#00FA9A"/>
<path d="M1030,0 1140,0 1150,60 1130,120 1080,100 1040,50Z" fill="#00FA9A"/>
<path d="M900,140 960,160 1010,220 1050,280 1090,340 1060,370 1010,350 980,290 950,230 910,190Z" fill="#00FA9A"/>
<path d="M1310,340 1370,340 1390,400 1350,420 1320,390Z" fill="#00FA9A"/>
<path d="M1200,590 1250,570 1250,640 1210,650Z" fill="#00FA9A"/>
<path d="M1180,700 1230,700 1230,740 1185,740Z" fill="#00FA9A"/>
<path d="M920,980 1000,960 1080,980 1100,1030 1040,1040 960,1030 910,1020Z" fill="#00FA9A"/>
<path d="M1430,1050 1480,1040 1540,1080 1580,1140 1590,1190 1550,1180 1490,1120 1440,1090Z" fill="#00FA9A"/>
<path d="M1660,1000 1700,1000 1720,1050 1690,1060Z" fill="#00FA9A"/>
<path d="M1500,900 1560,900 1570,940 1520,950Z" fill="#00FA9A"/>
<path d="M1820,1100 1900,1090 1960,1110 1960,1160 1880,1170 1830,1150Z" fill="#00FA9A"/>
<path d="M920,1260 980,1250 1020,1300 1060,1340 1020,1360 960,1320 920,1300Z" fill="#00FA9A"/>
<path d="M1040,1260 1080,1250 1120,1310 1100,1330Z" fill="#00FA9A"/>
<path d="M580,310 610,310 615,350 585,355Z" fill="#00FA9A"/>
</svg>
<svg x="1370" y="806" width="300" height="210" viewBox="0 0 2000 1400" preserveAspectRatio="none">
<rect x="-300" y="-300" width="2600" height="2000" fill="#00FA9A"/>
<path d="M700,-10 640,50 580,70 520,90 470,120 420,140 370,130 330,150 310,210 260,210 230,260 240,320 210,370 190,430 150,500 90,530 70,600 40,660 -20,700 -20,1020 40,990 90,960 140,910 150,850 170,780 200,730 240,690 270,630 300,570 340,530 400,500 420,440 440,390 500,400 540,360 540,310 570,250 600,180 650,140 700,160 720,120 760,60 800,20 870,40 930,60 960,110 1000,100 1050,110 1100,140 1150,130 1200,100 1250,110 1300,60 1340,40 1390,-10Z" fill="#339900"/>
<path d="M-20,-10 700,-10 640,50 580,70 520,90 470,120 420,140 370,130 330,150 310,210 260,210 230,260 240,320 210,370 190,430 150,500 90,530 70,600 40,660 -20,700Z" fill="#50FF00"/>
<path d="M-20,-10 20,40 30,120 10,200 30,280 0,340 -20,350Z" fill="#B8FA00"/>
<path d="M860,180 920,140 980,130 990,160 950,200 900,240 870,220Z" fill="#339900"/>
<path d="M720,220 760,200 780,220 740,240Z" fill="#339900"/>
<path d="M1230,200 1270,190 1270,250 1240,260Z" fill="#339900"/>
<path d="M-20,1230 40,1260 80,1330 60,1420 -20,1420Z" fill="#339900"/>
<path d="M-20,1260 20,1300 30,1420 -20,1420Z" fill="#50FF00"/>
<path d="M2020,370 1900,420 1800,430 1700,400 1680,300 1620,310 1560,350 1500,400 1440,440 1380,440 1300,430 1240,470 1190,520 1200,580 1150,600 1100,640 1050,680 1000,720 960,760 900,800 850,840 800,870 750,900 700,940 650,960 600,1000 540,1020 500,1060 440,1080 380,1070 330,1090 280,1080 220,1100 190,1160 180,1230 200,1300 220,1420 2020,1420Z" fill="#00FFFF"/>
<path d="M1860,100 1920,90 2020,100 2020,210 1950,200 1880,180Z" fill="#00FFFF"/>
<path d="M1640,240 1700,180 1780,130 1830,90 1850,120 1800,170 1720,230 1660,280Z" fill="#00FFFF"/>
<path d="M2020,460 1960,480 1900,500 1830,540 1760,580 1700,600 1620,610 1540,620 1440,610 1420,640 1480,680 1560,700 1620,680 1700,690 1720,740 1700,800 1660,850 1650,900 1700,950 1760,940 1800,980 1800,1060 1850,1100 1900,1080 1960,1100 2020,1120Z" fill="#00FA9A"/>
<path d="M260,1130 330,1110 400,1140 420,1200 380,1260 300,1280 250,1220Z" fill="#00FA9A"/>
<path d="M540,1060 600,1040 640,1080 580,1110Z" fill="#00FA9A"/>
<path d="M620,960 680,950 700,990 640,1000Z" fill="#00FA9A"/>
<path d="M1200,680 1150,700 1100,760 1040,800 980,830 920,870 860,920 800,980 760,1040 720,1100 680,1160 640,1220 600,1290 560,1340 520,1420 2020,1420 2020,1280 1960,1300 1920,1340 1860,1330 1800,1290 1740,1250 1700,1200 1680,1150 1620,1130 1560,1120 1500,1130 1440,1130 1400,1090 1340,1070 1260,1080 1200,1060 1150,1040 1160,980 1190,920 1210,850 1220,760Z" fill="#00BFBF"/>
<path d="M870,1010 930,1000 980,1010 1010,1060 1020,1120 1000,1180 1060,1150 1120,1160 1130,1220 1100,1280 1160,1330 1240,1350 1300,1380 1320,1420 620,1420 650,1340 700,1280 730,1200 760,1130 800,1060Z" fill="#007878"/>
<path d="M1400,1340 1460,1300 1470,1340 1430,1400 1400,1420 1380,1400Z" fill="#007878"/>
<path d="M700,1280 760,1270 830,1260 880,1290 930,1280 950,1330 990,1380 1000,1420 900,1420 880,1360 840,1310 760,1300 710,1300Z" fill="#0096FF"/>
</svg>
<svg x="1660" y="806" width="320" height="210" viewBox="0 0 2133.3 1400" preserveAspectRatio="none">
<rect x="-300" y="-300" width="2600" height="2000" fill="#00FFFF"/>
<path d="M-20,-10 170,-10 180,60 140,110 100,150 60,200 80,270 40,300 0,330 -20,340Z" fill="#00FA9A"/>
<path d="M-20,480 40,500 80,560 100,650 130,700 120,780 140,850 160,920 150,1000 100,1050 50,1080 -20,1090Z" fill="#00FA9A"/>
<path d="M-20,1180 40,1200 60,1260 20,1300 -20,1310Z" fill="#00FA9A"/>
<path d="M900,-10 860,60 850,120 860,180 830,240 780,290 730,330 680,330 630,350 580,390 530,400 490,430 460,500 400,560 370,620 360,690 330,740 320,820 340,900 330,980 290,1060 250,1110 220,1180 200,1250 180,1330 150,1420 480,1420 500,1340 560,1300 600,1230 660,1180 720,1130 760,1090 820,1100 850,1130 900,1120 960,1150 1000,1190 1040,1240 1000,1300 1040,1330 1100,1290 1160,1230 1220,1200 1280,1170 1300,1100 1330,1060 1400,1050 1440,1000 1500,950 1560,900 1620,820 1660,740 1650,640 1640,560 1620,480 1600,400 1620,300 1660,220 1700,150 1760,100 1800,50 1820,-10Z" fill="#00BFBF"/>
<path d="M1210,190 1250,170 1260,220 1235,260 1215,230Z" fill="#00FFFF"/>
<path d="M680,810 720,790 760,870 770,920 740,940 720,880Z" fill="#00FFFF"/>
<path d="M550,930 580,920 590,980 560,1000Z" fill="#00FFFF"/>
<path d="M1100,940 1140,860 1160,880 1150,940 1110,1000 1090,980Z" fill="#00FFFF"/>
<path d="M1320,880 1360,850 1390,900 1370,950 1330,940Z" fill="#00FFFF"/>
<path d="M820,720 880,700 860,740 820,770Z" fill="#00FFFF"/>
<path d="M930,1050 960,1040 960,1080 935,1090Z" fill="#00FFFF"/>
<path d="M1700,820 1760,780 1830,740 1870,770 1840,850 1800,900 1740,930 1690,900Z" fill="#00BFBF"/>
<path d="M1480,1170 1540,1140 1590,1160 1570,1210 1510,1230Z" fill="#00BFBF"/>
<path d="M1640,1000 1700,1010 1690,1050 1640,1050Z" fill="#00BFBF"/>
<path d="M1840,60 1900,40 2073.3,200 1870,260 1830,200Z" fill="#00BFBF"/>
<path d="M1680,100 1720,80 1740,160 1700,200Z" fill="#00BFBF"/>
<path d="M570,640 540,700 520,780 490,860 470,950 460,1040 450,1120 420,1180 400,1250 360,1300 320,1340 280,1400 200,1420 220,1340 260,1260 280,1180 310,1100 340,1000 360,900 380,820 400,750 440,700 500,660Z" fill="#007878"/>
<path d="M1400,320 1450,310 1500,320 1490,370 1450,400 1440,450 1410,440 1420,390 1395,360Z" fill="#007878"/>
<path d="M1250,410 1290,400 1300,440 1270,470 1240,520 1220,510 1240,450Z" fill="#007878"/>
<path d="M1360,530 1385,530 1385,560 1362,560Z" fill="#007878"/>
<path d="M1540,660 1565,655 1568,695 1542,698Z" fill="#007878"/>
<path d="M355,1020 400,1030 415,1060 395,1090 390,1130 370,1110 360,1070Z" fill="#0096FF"/>
<path d="M330,1140 350,1130 360,1160 395,1160 380,1200 350,1230 320,1260 285,1250 310,1210 325,1170Z" fill="#0096FF"/>
</svg>
<svg x="1060" y="1016" width="320" height="230" viewBox="-133.3 0 2133.3 1533.3" preserveAspectRatio="none">
<rect x="-300" y="-300" width="2600" height="2000" fill="#B8FA00"/>
<path d="M-173.3,-10 520,-10 560,60 580,120 560,150 480,140 400,150 320,120 240,100 160,80 100,110 40,130 -173.3,120Z" fill="#50FF00"/>
<path d="M590,300 640,280 700,310 740,380 760,460 730,520 700,470 660,400 620,340Z" fill="#50FF00"/>
<path d="M1140,320 1220,300 1260,380 1300,460 1330,560 1340,680 1320,780 1280,830 1220,800 1190,720 1200,620 1170,540 1150,440Z" fill="#50FF00"/>
<path d="M1230,480 1290,470 1310,530 1280,590 1240,560Z" fill="#339900"/>
<path d="M1258,512 1285,512 1285,540 1258,540Z" fill="#00FFFF"/>
<path d="M1560,130 1600,120 1620,200 1590,250 1550,210Z" fill="#50FF00"/>
<path d="M1860,-10 1840,100 1850,200 1780,330 1700,400 1700,480 1760,560 1820,600 1900,540 2020,560 2020,640 1980,700 1940,800 1960,900 1920,980 1940,1080 1880,1160 1860,1260 1800,1340 1780,1573.3 2020,1573.3 2020,-10Z" fill="#50FF00"/>
<path d="M1940,-10 1920,100 1900,200 1880,300 1900,400 1940,500 2020,560 2020,-10Z" fill="#339900"/>
<path d="M900,-10 1000,-10 1060,60 1100,110 1160,140 1240,120 1300,130 1360,100 1340,40 1300,-10 1420,-10 1400,80 1380,150 1300,180 1200,190 1120,200 1060,170 1000,110 940,60Z" fill="#50FF00"/>
<path d="M1040,-10 1280,-10 1310,60 1280,110 1220,90 1160,110 1110,70 1070,30Z" fill="#00FA9A"/>
<path d="M1280,-10 1340,40 1350,110 1300,100 1290,50Z" fill="#339900"/>
<path d="M1090,140 1140,150 1130,200 1095,190Z" fill="#339900"/>
<path d="M1500,1300 1560,1260 1600,1330 1560,1573.3 1480,1573.3Z" fill="#50FF00"/>
<path d="M1530,1340 1555,1335 1555,1533.3 1532,1538.3Z" fill="#00FFFF"/>
<path d="M-173.3,390 40,380 120,370 200,350 280,340 360,330 440,320 520,300 590,310 640,330 700,340 710,300 700,200 720,120 760,100 800,160 860,230 900,300 940,380 1000,450 1040,540 1070,620 1100,700 1150,790 1190,870 1240,950 1290,1030 1340,1100 1390,1180 1440,1270 1490,1360 1500,1573.3 -173.3,1573.3Z" fill="#FFFF00"/>
<path d="M1420,760 1480,720 1560,700 1640,740 1700,800 1750,860 1740,940 1680,1000 1600,1040 1540,1020 1500,960 1460,880 1420,820Z" fill="#FFFF00"/>
<path d="M1580,1150 1620,1130 1640,1200 1600,1220Z" fill="#FFFF00"/>
<path d="M640,-10 680,60 700,200 700,300 660,330 620,300 590,220 575,120 555,40 550,-10Z" fill="#00FA9A"/>
<path d="M560,-10 640,-10 660,100 680,200 670,280 630,290 600,220 580,120 560,50Z" fill="#00FFFF"/>
<path d="M-173.3,570 60,560 140,560 220,540 300,550 380,540 460,520 540,540 600,590 640,560 700,560 720,480 710,380 720,280 730,200 760,190 820,220 870,280 880,380 900,470 920,560 960,640 1010,700 1050,780 1090,850 1130,920 1180,1000 1230,1070 1280,1140 1330,1220 1380,1300 1440,1533.3 1460,1573.3 -173.3,1573.3Z" fill="#FFD800"/>
<path d="M-173.3,1080 60,1090 140,1120 180,1180 140,1260 80,1330 40,1553.3 -173.3,1573.3Z" fill="#FFFF00"/>
<path d="M280,1573.3 300,1340 360,1260 440,1200 500,1130 580,1080 660,1060 740,1090 800,1060 850,1010 920,1020 980,960 1040,950 1100,990 1160,1000 1200,1040 1250,1100 1300,1180 1350,1260 1400,1340 1440,1573.3Z" fill="#FF9900"/>
<path d="M20,810 100,780 180,770 260,760 240,800 180,830 120,860 60,850Z" fill="#FF9900"/>
<path d="M480,680 540,680 560,700 500,705Z" fill="#FF9900"/>
<path d="M820,510 880,520 890,560 840,570Z" fill="#FF9900"/>
<path d="M370,880 400,880 400,895 370,895Z" fill="#FF9900"/>
</svg>
<svg x="1370" y="1016" width="300" height="230" viewBox="0 0 2000 1533.3" preserveAspectRatio="none">
<rect x="-300" y="-300" width="2600" height="2000" fill="#339900"/>
<path d="M560,1573.3 600,1340 660,1300 720,1300 760,1260 820,1240 880,1260 940,1230 1000,1200 1060,1230 1120,1260 1200,1240 1280,1200 1340,1200 1400,1220 1460,1200 1520,1180 1560,1180 1620,1220 1640,1300 1620,1533.3 1610,1573.3Z" fill="#50FF00"/>
<path d="M-20,560 0,560 40,600 70,680 90,760 80,840 100,920 110,1000 100,1100 80,1200 100,1300 120,1573.3 -20,1573.3Z" fill="#50FF00"/>
<path d="M-20,-10 30,-10 20,80 -20,120Z" fill="#50FF00"/>
<path d="M2020,640 1960,640 1920,680 1900,760 1900,840 1880,920 1860,1000 1880,1080 1920,1140 1900,1220 1860,1300 1840,1533.3 1830,1573.3 2020,1573.3Z" fill="#50FF00"/>
<path d="M120,1040 180,1040 185,1100 125,1100Z" fill="#50FF00"/>
<path d="M-20,1180 40,1200 60,1300 40,1573.3 -20,1573.3Z" fill="#B8FA00"/>
<path d="M10,840 50,830 60,880 20,890Z" fill="#B8FA00"/>
<path d="M1980,850 2020,840 2020,920 1985,910Z" fill="#B8FA00"/>
<path d="M120,-10 100,80 110,160 90,240 100,320 90,400 60,480 40,540 80,580 120,640 150,720 180,800 210,880 230,950 260,1000 320,1030 400,1040 470,1030 540,1060 600,1100 680,1130 760,1140 840,1160 900,1170 960,1190 1040,1180 1120,1170 1200,1180 1260,1160 1320,1150 1400,1160 1460,1150 1520,1120 1580,1100 1640,1060 1680,1020 1720,960 1760,900 1790,840 1820,760 1860,700 1900,650 1950,620 2020,600 2020,-10Z" fill="#00FA9A"/>
<path d="M1640,1140 1700,1120 1780,1130 1800,1200 1780,1300 1800,1533.3 1780,1573.3 1660,1573.3 1640,1340 1650,1240Z" fill="#00FA9A"/>
<path d="M200,1200 270,1190 280,1260 220,1280Z" fill="#00FA9A"/>
<path d="M660,1070 720,1080 710,1110 660,1105Z" fill="#339900"/>
<path d="M380,-10 350,80 380,160 350,240 340,320 330,400 290,480 270,560 260,640 280,720 300,800 280,860 330,900 400,900 480,880 540,920 580,970 640,960 720,940 800,900 880,890 940,940 1000,990 1060,1050 1100,1000 1180,960 1260,940 1340,920 1420,940 1500,960 1580,940 1660,900 1700,840 1720,760 1760,680 1800,600 1840,520 1870,440 1880,380 1900,300 1930,240 1980,220 2020,230 2020,-10Z" fill="#00FFFF"/>
<path d="M520,-10 500,80 520,160 490,240 450,320 490,400 510,480 480,560 560,600 580,700 660,740 720,800 740,850 820,820 900,780 980,740 1060,700 1140,680 1220,700 1280,740 1340,780 1300,830 1360,830 1400,790 1460,780 1520,760 1580,720 1600,680 1560,660 1500,670 1460,640 1440,580 1480,520 1540,460 1600,420 1660,390 1720,370 1780,340 1830,280 1860,200 1880,100 1900,-10Z" fill="#00BFBF"/>
<path d="M620,-10 610,60 640,120 700,100 760,60 800,120 760,200 700,280 640,300 610,380 600,460 620,540 640,600 620,660 680,700 740,690 780,740 840,720 900,680 940,620 1000,580 1060,560 1040,520 1100,540 1160,520 1220,550 1260,520 1300,480 1380,440 1460,420 1500,380 1560,320 1540,280 1480,290 1420,300 1400,240 1360,200 1300,180 1240,160 1200,100 1240,60 1300,100 1380,120 1460,100 1540,90 1530,40 1440,50 1400,-10Z" fill="#007878"/>
<path d="M1160,50 1220,40 1240,100 1200,150 1160,120Z" fill="#00BFBF"/>
<path d="M900,-10 1020,-10 1000,80 990,160 1000,240 960,300 1000,360 1070,380 1060,440 1020,500 960,540 940,590 900,620 890,560 900,500 840,490 800,450 810,380 790,350 830,290 810,230 850,170 880,100Z" fill="#0096FF"/>
<path d="M680,30 740,20 720,60 680,70Z" fill="#0096FF"/>
<path d="M1130,330 1150,330 1150,370 1130,370Z" fill="#0096FF"/>
<path d="M1200,380 1320,350 1310,380 1240,400 1200,400Z" fill="#0096FF"/>
</svg>
<svg x="1660" y="1016" width="320" height="230" viewBox="0 0 2133.3 1533.3" preserveAspectRatio="none">
<rect x="-300" y="-300" width="2600" height="2000" fill="#339900"/>
<path d="M-20,560 30,600 70,560 80,470 160,440 220,400 260,440 290,560 330,600 400,610 470,640 520,640 580,640 650,650 720,640 780,610 850,640 920,680 980,660 1030,590 1080,570 1140,500 1220,490 1290,490 1340,480 1380,560 1440,580 1480,500 1520,440 1580,400 1600,340 1650,330 1690,400 1660,470 1640,540 1600,580 1560,620 1620,640 1700,600 1760,560 1840,530 2073.3,490 2073.3,-10 -20,-10Z" fill="#00FA9A"/>
<path d="M-20,-10 1760,-10 1700,10 1640,40 1560,60 1480,70 1400,90 1300,110 1200,130 1120,150 1040,180 960,220 880,240 820,200 740,180 660,170 600,190 520,200 440,240 360,270 280,290 200,300 120,270 40,230 -20,150Z" fill="#00FFFF"/>
<path d="M580,400 640,340 720,300 800,320 860,350 940,340 1020,370 980,410 900,400 840,440 760,440 700,400 640,420Z" fill="#00FFFF"/>
<path d="M1180,230 1240,220 1250,270 1200,280Z" fill="#00FFFF"/>
<path d="M130,-10 140,60 180,100 230,160 290,130 260,80 330,60 400,30 420,-10Z" fill="#00BFBF"/>
<path d="M780,-10 920,-10 900,50 840,100 790,100Z" fill="#00BFBF"/>
<path d="M995,25 1030,25 1030,60 995,60Z" fill="#00BFBF"/>
<path d="M-20,760 40,720 100,700 160,720 200,680 240,620 280,640 260,720 220,800 180,860 130,920 80,940 30,920 -20,900Z" fill="#50FF00"/>
<path d="M60,830 120,760 170,730 150,800 100,870 60,900Z" fill="#B8FA00"/>
<path d="M180,620 230,600 280,640 290,720 240,760 200,740Z" fill="#50FF00"/>
<path d="M770,900 820,860 880,820 940,760 1000,720 1060,730 1120,700 1180,660 1250,680 1320,700 1400,720 1460,700 1480,760 1440,820 1380,850 1320,900 1260,940 1200,960 1140,940 1080,950 1020,940 960,960 900,950 840,970 780,950Z" fill="#50FF00"/>
<path d="M-20,1100 40,1080 120,1040 200,1010 280,990 360,990 420,1010 400,1060 340,1080 300,1120 260,1100 200,1100 140,1140 80,1200 20,1260 -20,1290Z" fill="#50FF00"/>
<path d="M-20,1300 60,1280 120,1300 200,1290 260,1310 330,1260 380,1200 440,1150 520,1120 580,1100 640,1120 700,1160 760,1150 820,1140 850,1200 800,1250 760,1300 700,1340 660,1573.3 -20,1573.3Z" fill="#50FF00"/>
<path d="M100,1200 180,1170 250,1200 240,1260 160,1290 100,1260Z" fill="#339900"/>
<path d="M860,1080 940,1060 1000,1090 1060,1100 1120,1060 1180,1040 1100,1100 1040,1140 960,1180 880,1220 840,1200 860,1140Z" fill="#50FF00"/>
<path d="M1300,1000 1380,980 1460,960 1480,1020 1520,1060 1600,1060 1680,1020 1740,960 1800,920 1860,900 1880,860 1900,820 2073.3,800 2073.3,1000 1860,980 1800,1010 1740,1040 1680,1080 1640,1140 1600,1160 1560,1120 1500,1100 1440,1130 1400,1100 1380,1050 1320,1040Z" fill="#50FF00"/>
<path d="M660,1573.3 700,1340 760,1300 820,1250 880,1220 960,1180 1040,1140 1120,1100 1200,1050 1260,1030 1300,1050 1380,1060 1400,1110 1440,1140 1380,1170 1320,1190 1260,1200 1240,1250 1320,1260 1360,1210 1420,1190 1480,1150 1540,1130 1600,1170 1640,1150 1690,1080 1750,1040 1820,1010 1880,980 2073.3,1000 2073.3,1573.3Z" fill="#B8FA00"/>
<path d="M1040,1290 1100,1260 1160,1280 1140,1330 1080,1340Z" fill="#50FF00"/>
<path d="M1380,1240 1440,1260 1420,1300 1380,1290Z" fill="#50FF00"/>
<path d="M1800,1130 1860,1120 1880,1160 1820,1180Z" fill="#50FF00"/>
<path d="M1320,960 1400,900 1480,850 1560,800 1640,780 1720,800 1800,820 1880,860 1860,900 1800,920 1740,960 1680,1000 1620,1040 1560,1060 1520,1040 1500,980 1440,960 1380,980Z" fill="#00FA9A"/>
<path d="M1400,930 1480,880 1560,840 1640,830 1700,850 1640,880 1560,900 1480,940 1420,970Z" fill="#00FFFF"/>
<path d="M1580,940 1640,920 1700,940 1680,980 1620,990Z" fill="#00FFFF"/>
<path d="M990,1020 1060,990 1140,990 1190,1010 1150,1040 1080,1050 1010,1050Z" fill="#00FA9A"/>
<path d="M1030,1015 1100,1005 1150,1015 1100,1035 1040,1038Z" fill="#00FFFF"/>
<path d="M1250,1210 1300,1190 1340,1200 1330,1250 1270,1260Z" fill="#00FA9A"/>
<path d="M1265,1215 1310,1205 1315,1240 1275,1245Z" fill="#00FFFF"/>
<path d="M920,1533.3 1000,1350 1080,1370 1090,1573.3 920,1573.3Z" fill="#00BFBF"/>
<path d="M380,700 420,660 460,700 480,760 440,800 400,820 370,780Z" fill="#00FA9A"/>
<path d="M430,1070 480,1060 490,1100 440,1110Z" fill="#00FA9A"/>
<path d="M1540,1060 1590,1070 1600,1120 1560,1120Z" fill="#00FA9A"/>
<path d="M1575,1172 1595,1172 1595,1190 1575,1190Z" fill="#FFFF00"/>
</svg>
</g>
<g filter="url(#wob)"><use href="#geo" color="#000"/><use href="#geoT" color="#000"/></g>
<g filter="url(#soft2)">
<path d="M88.8,490.4 111.5,486.4 133.9,482.4 155.9,478.5 177.6,474.7 199,470.9 220.1,467.2 240.8,463.6 261.3,459.9 281.5,456.4 301.4,452.9 321.1,449.4 340.5,446 359.6,442.6 378.5,439.3 397.2,436 415.7,432.7 433.9,429.5 451.9,426.3 469.7,423.2 487.3,420.1 504.7,417 521.9,414 539,411 555.8,408 572.5,405.1 589,402.2 605.4,399.3 621.6,396.4 637.7,393.6 653.6,390.8 669.3,388 684.9,385.3 700.4,382.5 715.8,379.8 731,377.1 746.1,374.5 761.1,371.8 775.9,369.2 790.7,366.6 805.3,364 819.9,361.5 834.3,358.9 848.6,356.4 862.9,353.9 877,351.4 891.1,348.9 905,346.4 918.9,344 932.7,341.6 946.5,339.1 960.1,336.7 973.7,334.3 987.2,331.9 1000.7,329.6 1014,327.2 1027.4,324.9 1040.6,322.5 1053.8,320.2 1067,317.9 1080,315.6 1093.1,313.3 1106.1,311 1119,308.7 1131.9,306.4 1144.8,304.2 1157.6,301.9 1170.4,299.7 1183.1,297.4 1195.9,295.2 1208.5,292.9 1221.2,290.7 1233.8,288.5 1246.4,286.2 1259,284 1271.6,281.8 1284.1,279.6 1296.6,277.4 1309.1,275.2 1321.6,273 1334.1,270.8 1346.6,268.6 1359,266.4 1371.5,264.2 M246.5,923.7 266.5,912.1 286.2,900.8 305.6,889.6 324.6,878.6 343.4,867.7 362,857 380.2,846.5 398.2,836.1 416,825.8 433.5,815.7 450.8,805.7 467.8,795.9 484.7,786.2 501.3,776.6 517.7,767.1 534,757.7 550,748.5 565.8,739.3 581.5,730.3 597,721.4 612.3,712.5 627.4,703.8 642.4,695.1 657.2,686.6 671.9,678.1 686.4,669.7 700.8,661.4 715.1,653.2 729.2,645 743.2,637 757,629 770.7,621 784.4,613.2 797.9,605.4 811.2,597.6 824.5,590 837.7,582.4 850.8,574.8 863.7,567.3 876.6,559.9 889.4,552.5 902.1,545.2 914.7,537.9 927.2,530.7 939.7,523.5 952,516.4 964.3,509.3 976.5,502.2 988.7,495.2 1000.7,488.2 1012.7,481.3 1024.7,474.4 1036.6,467.5 1048.4,460.7 1060.2,453.9 1071.9,447.2 1083.5,440.4 1095.1,433.7 1106.7,427.1 1118.2,420.4 1129.7,413.8 1141.1,407.2 1152.5,400.6 1163.8,394.1 1175.1,387.5 1186.4,381 1197.6,374.5 1208.9,368.1 1220,361.6 1231.2,355.2 1242.3,348.8 1253.4,342.3 1264.5,335.9 1275.6,329.6 1286.6,323.2 1297.6,316.8 1308.7,310.5 1319.6,304.1 1330.6,297.8 1341.6,291.4 1352.6,285.1 1363.5,278.8 1374.5,272.4 M542.9,1276.9 557.8,1259.2 572.4,1241.8 586.7,1224.7 600.9,1207.8 614.9,1191.2 628.6,1174.8 642.2,1158.7 655.5,1142.7 668.7,1127 681.7,1111.5 694.5,1096.2 707.2,1081.2 719.7,1066.3 732,1051.6 744.2,1037 756.3,1022.7 768.2,1008.5 779.9,994.5 791.5,980.6 803,966.9 814.4,953.4 825.6,940 836.8,926.8 847.8,913.6 858.7,900.7 869.4,887.8 880.1,875.1 890.7,862.5 901.2,850 911.5,837.6 921.8,825.4 932,813.2 942.1,801.2 952.1,789.2 962.1,777.4 971.9,765.7 981.7,754 991.4,742.4 1001,731 1010.6,719.6 1020.1,708.3 1029.5,697 1038.9,685.9 1048.2,674.8 1057.4,663.8 1066.6,652.9 1075.7,642 1084.8,631.2 1093.8,620.5 1102.7,609.8 1111.6,599.2 1120.5,588.6 1129.3,578.1 1138.1,567.6 1146.8,557.2 1155.5,546.9 1164.2,536.6 1172.8,526.3 1181.4,516.1 1189.9,505.9 1198.4,495.7 1206.9,485.6 1215.4,475.6 1223.8,465.5 1232.2,455.5 1240.5,445.6 1248.9,435.6 1257.2,425.7 1265.5,415.8 1273.8,405.9 1282,396.1 1290.3,386.3 1298.5,376.5 1306.7,366.7 1314.9,356.9 1323.1,347.2 1331.3,337.4 1339.4,327.7 1347.6,318 1355.7,308.3 1363.9,298.6 1372,288.9 1380.1,279.2 M942.3,1507.5 950.2,1485.8 957.9,1464.5 965.6,1443.4 973.1,1422.7 980.6,1402.3 987.9,1382.2 995.1,1362.4 1002.2,1342.9 1009.2,1323.6 1016.1,1304.6 1022.9,1285.9 1029.7,1267.3 1036.3,1249.1 1042.9,1231 1049.4,1213.2 1055.8,1195.6 1062.1,1178.2 1068.4,1161 1074.6,1144 1080.7,1127.2 1086.7,1110.6 1092.7,1094.2 1098.6,1077.9 1104.5,1061.9 1110.3,1045.9 1116,1030.2 1121.7,1014.6 1127.3,999.1 1132.9,983.8 1138.4,968.6 1143.9,953.6 1149.3,938.7 1154.7,923.9 1160,909.3 1165.3,894.7 1170.5,880.3 1175.8,866 1180.9,851.8 1186,837.8 1191.1,823.8 1196.2,809.9 1201.2,796.2 1206.2,782.5 1211.1,768.9 1216,755.4 1220.9,742 1225.8,728.6 1230.6,715.4 1235.4,702.2 1240.1,689.1 1244.9,676.1 1249.6,663.1 1254.3,650.2 1259,637.4 1263.6,624.6 1268.2,611.9 1272.8,599.3 1277.4,586.7 1282,574.2 1286.5,561.7 1291.1,549.2 1295.6,536.8 1300.1,524.5 1304.5,512.2 1309,499.9 1313.5,487.7 1317.9,475.5 1322.3,463.3 1326.7,451.2 1331.2,439.1 1335.5,427 1339.9,414.9 1344.3,402.9 1348.7,390.9 1353,378.9 1357.4,367 1361.7,355 1366.1,343.1 1370.4,331.2 1374.8,319.2 1379.1,307.3 1383.4,295.5 1387.7,283.6 M1396.4,1587.6 1396.4,1564.5 1396.4,1541.8 1396.4,1519.4 1396.4,1497.4 1396.4,1475.7 1396.4,1454.3 1396.4,1433.2 1396.4,1412.4 1396.4,1391.9 1396.4,1371.7 1396.4,1351.7 1396.4,1332 1396.4,1312.6 1396.4,1293.4 1396.4,1274.4 1396.4,1255.7 1396.4,1237.2 1396.4,1218.9 1396.4,1200.8 1396.4,1182.9 1396.4,1165.2 1396.4,1147.7 1396.4,1130.4 1396.4,1113.3 1396.4,1096.4 1396.4,1079.6 1396.4,1063 1396.4,1046.5 1396.4,1030.2 1396.4,1014.1 1396.4,998.1 1396.4,982.2 1396.4,966.5 1396.4,950.9 1396.4,935.5 1396.4,920.1 1396.4,904.9 1396.4,889.8 1396.4,874.9 1396.4,860 1396.4,845.2 1396.4,830.6 1396.4,816 1396.4,801.6 1396.4,787.2 1396.4,772.9 1396.4,758.7 1396.4,744.6 1396.4,730.6 1396.4,716.7 1396.4,702.8 1396.4,689 1396.4,675.3 1396.4,661.6 1396.4,648.1 1396.4,634.5 1396.4,621.1 1396.4,607.7 1396.4,594.3 1396.4,581 1396.4,567.8 1396.4,554.6 1396.4,541.5 1396.4,528.4 1396.4,515.3 1396.4,502.3 1396.4,489.3 1396.4,476.4 1396.4,463.4 1396.4,450.6 1396.4,437.7 1396.4,424.9 1396.4,412.1 1396.4,399.3 1396.4,386.6 1396.4,373.8 1396.4,361.1 1396.4,348.4 1396.4,335.7 1396.4,323.1 1396.4,310.4 1396.4,297.7 1396.4,285.1 M1850.5,1507.5 1842.6,1485.8 1834.9,1464.5 1827.2,1443.4 1819.7,1422.7 1812.2,1402.3 1804.9,1382.2 1797.7,1362.4 1790.6,1342.9 1783.6,1323.6 1776.7,1304.6 1769.9,1285.9 1763.1,1267.3 1756.5,1249.1 1749.9,1231 1743.4,1213.2 1737,1195.6 1730.7,1178.2 1724.4,1161 1718.2,1144 1712.1,1127.2 1706.1,1110.6 1700.1,1094.2 1694.2,1077.9 1688.3,1061.9 1682.5,1045.9 1676.8,1030.2 1671.1,1014.6 1665.5,999.1 1659.9,983.8 1654.4,968.6 1648.9,953.6 1643.5,938.7 1638.1,923.9 1632.8,909.3 1627.5,894.7 1622.3,880.3 1617,866 1611.9,851.8 1606.8,837.8 1601.7,823.8 1596.6,809.9 1591.6,796.2 1586.6,782.5 1581.7,768.9 1576.8,755.4 1571.9,742 1567,728.6 1562.2,715.4 1557.4,702.2 1552.7,689.1 1547.9,676.1 1543.2,663.1 1538.5,650.2 1533.8,637.4 1529.2,624.6 1524.6,611.9 1520,599.3 1515.4,586.7 1510.8,574.2 1506.3,561.7 1501.7,549.2 1497.2,536.8 1492.7,524.5 1488.3,512.2 1483.8,499.9 1479.3,487.7 1474.9,475.5 1470.5,463.3 1466.1,451.2 1461.6,439.1 1457.3,427 1452.9,414.9 1448.5,402.9 1444.1,390.9 1439.8,378.9 1435.4,367 1431.1,355 1426.7,343.1 1422.4,331.2 1418,319.2 1413.7,307.3 1409.4,295.5 1405.1,283.6 M2249.9,1276.9 2235,1259.2 2220.4,1241.8 2206.1,1224.7 2191.9,1207.8 2177.9,1191.2 2164.2,1174.8 2150.6,1158.7 2137.3,1142.7 2124.1,1127 2111.1,1111.5 2098.3,1096.2 2085.6,1081.2 2073.1,1066.3 2060.8,1051.6 2048.6,1037 2036.5,1022.7 2024.6,1008.5 2012.9,994.5 2001.3,980.6 1989.8,966.9 1978.4,953.4 1967.2,940 1956,926.8 1945,913.6 1934.1,900.7 1923.4,887.8 1912.7,875.1 1902.1,862.5 1891.6,850 1881.3,837.6 1871,825.4 1860.8,813.2 1850.7,801.2 1840.7,789.2 1830.7,777.4 1820.9,765.7 1811.1,754 1801.4,742.4 1791.8,731 1782.2,719.6 1772.7,708.3 1763.3,697 1753.9,685.9 1744.6,674.8 1735.4,663.8 1726.2,652.9 1717.1,642 1708,631.2 1699,620.5 1690.1,609.8 1681.2,599.2 1672.3,588.6 1663.5,578.1 1654.7,567.6 1646,557.2 1637.3,546.9 1628.6,536.6 1620,526.3 1611.4,516.1 1602.9,505.9 1594.4,495.7 1585.9,485.6 1577.4,475.6 1569,465.5 1560.6,455.5 1552.3,445.6 1543.9,435.6 1535.6,425.7 1527.3,415.8 1519,405.9 1510.8,396.1 1502.5,386.3 1494.3,376.5 1486.1,366.7 1477.9,356.9 1469.7,347.2 1461.5,337.4 1453.4,327.7 1445.2,318 1437.1,308.3 1428.9,298.6 1420.8,288.9 1412.7,279.2 M2546.3,923.7 2526.3,912.1 2506.6,900.8 2487.2,889.6 2468.2,878.6 2449.4,867.7 2430.8,857 2412.6,846.5 2394.6,836.1 2376.8,825.8 2359.3,815.7 2342,805.7 2325,795.9 2308.1,786.2 2291.5,776.6 2275.1,767.1 2258.8,757.7 2242.8,748.5 2227,739.3 2211.3,730.3 2195.8,721.4 2180.5,712.5 2165.4,703.8 2150.4,695.1 2135.6,686.6 2120.9,678.1 2106.4,669.7 2092,661.4 2077.7,653.2 2063.6,645 2049.6,637 2035.8,629 2022.1,621 2008.4,613.2 1994.9,605.4 1981.6,597.6 1968.3,590 1955.1,582.4 1942,574.8 1929.1,567.3 1916.2,559.9 1903.4,552.5 1890.7,545.2 1878.1,537.9 1865.6,530.7 1853.1,523.5 1840.8,516.4 1828.5,509.3 1816.3,502.2 1804.1,495.2 1792.1,488.2 1780.1,481.3 1768.1,474.4 1756.2,467.5 1744.4,460.7 1732.6,453.9 1720.9,447.2 1709.3,440.4 1697.7,433.7 1686.1,427.1 1674.6,420.4 1663.1,413.8 1651.7,407.2 1640.3,400.6 1629,394.1 1617.7,387.5 1606.4,381 1595.2,374.5 1583.9,368.1 1572.8,361.6 1561.6,355.2 1550.5,348.8 1539.4,342.3 1528.3,335.9 1517.2,329.6 1506.2,323.2 1495.2,316.8 1484.1,310.5 1473.2,304.1 1462.2,297.8 1451.2,291.4 1440.2,285.1 1429.3,278.8 1418.3,272.4 M2704,490.4 2681.3,486.4 2658.9,482.4 2636.9,478.5 2615.2,474.7 2593.8,470.9 2572.7,467.2 2552,463.6 2531.5,459.9 2511.3,456.4 2491.4,452.9 2471.7,449.4 2452.3,446 2433.2,442.6 2414.3,439.3 2395.6,436 2377.1,432.7 2358.9,429.5 2340.9,426.3 2323.1,423.2 2305.5,420.1 2288.1,417 2270.9,414 2253.8,411 2237,408 2220.3,405.1 2203.8,402.2 2187.4,399.3 2171.2,396.4 2155.1,393.6 2139.2,390.8 2123.5,388 2107.9,385.3 2092.4,382.5 2077,379.8 2061.8,377.1 2046.7,374.5 2031.7,371.8 2016.9,369.2 2002.1,366.6 1987.5,364 1972.9,361.5 1958.5,358.9 1944.2,356.4 1929.9,353.9 1915.8,351.4 1901.7,348.9 1887.8,346.4 1873.9,344 1860.1,341.6 1846.3,339.1 1832.7,336.7 1819.1,334.3 1805.6,331.9 1792.1,329.6 1778.8,327.2 1765.4,324.9 1752.2,322.5 1739,320.2 1725.8,317.9 1712.8,315.6 1699.7,313.3 1686.7,311 1673.8,308.7 1660.9,306.4 1648,304.2 1635.2,301.9 1622.4,299.7 1609.7,297.4 1596.9,295.2 1584.3,292.9 1571.6,290.7 1559,288.5 1546.4,286.2 1533.8,284 1521.2,281.8 1508.7,279.6 1496.2,277.4 1483.7,275.2 1471.2,273 1458.7,270.8 1446.2,268.6 1433.8,266.4 1421.3,264.2 M180.5,259.8 180.7,281 181.3,302.2 182.2,323.4 183.5,344.6 185.2,365.8 187.2,386.9 189.6,408 192.4,429 195.5,450 199,470.9 202.9,491.8 207.1,512.6 211.7,533.3 216.7,553.9 222,574.5 227.6,594.9 233.7,615.3 240.1,635.5 246.8,655.6 253.9,675.6 261.3,695.5 269.1,715.3 277.2,734.9 285.7,754.3 294.5,773.6 303.6,792.8 313.1,811.8 322.9,830.6 333,849.3 343.4,867.7 354.2,886 365.3,904.1 376.7,922 388.4,939.7 400.4,957.2 412.8,974.5 425.4,991.5 438.3,1008.4 451.5,1025 465,1041.3 478.8,1057.5 492.8,1073.4 507.2,1089 521.8,1104.4 536.7,1119.5 551.8,1134.4 567.2,1149 582.8,1163.4 598.7,1177.4 614.9,1191.2 631.2,1204.7 647.8,1217.9 664.7,1230.8 681.7,1243.4 699,1255.8 716.5,1267.8 734.2,1279.5 752.1,1290.9 770.2,1302 788.5,1312.8 806.9,1323.2 825.6,1333.3 844.4,1343.1 863.4,1352.6 882.6,1361.7 901.9,1370.5 921.3,1379 940.9,1387.1 960.7,1394.9 980.6,1402.3 1000.6,1409.4 1020.7,1416.1 1040.9,1422.5 1061.3,1428.6 1081.7,1434.2 1102.3,1439.5 1122.9,1444.5 1143.6,1449.1 1164.4,1453.3 1185.3,1457.2 1206.2,1460.7 1227.2,1463.8 1248.2,1466.6 1269.3,1469 1290.4,1471 1311.6,1472.7 1332.8,1474 1354,1474.9 1375.2,1475.5 1396.4,1475.7 1417.6,1475.5 1438.8,1474.9 1460,1474 1481.2,1472.7 1502.4,1471 1523.5,1469 1544.6,1466.6 1565.6,1463.8 1586.6,1460.7 1607.5,1457.2 1628.4,1453.3 1649.2,1449.1 1669.9,1444.5 1690.5,1439.5 1711.1,1434.2 1731.5,1428.6 1751.9,1422.5 1772.1,1416.1 1792.2,1409.4 1812.2,1402.3 1832.1,1394.9 1851.9,1387.1 1871.5,1379 1890.9,1370.5 1910.2,1361.7 1929.4,1352.6 1948.4,1343.1 1967.2,1333.3 1985.9,1323.2 2004.3,1312.8 2022.6,1302 2040.7,1290.9 2058.6,1279.5 2076.3,1267.8 2093.8,1255.8 2111.1,1243.4 2128.1,1230.8 2145,1217.9 2161.6,1204.7 2177.9,1191.2 2194.1,1177.4 2210,1163.4 2225.6,1149 2241,1134.4 2256.1,1119.5 2271,1104.4 2285.6,1089 2300,1073.4 2314,1057.5 2327.8,1041.3 2341.3,1025 2354.5,1008.4 2367.4,991.5 2380,974.5 2392.4,957.2 2404.4,939.7 2416.1,922 2427.5,904.1 2438.6,886 2449.4,867.7 2459.8,849.3 2469.9,830.6 2479.7,811.8 2489.2,792.8 2498.3,773.6 2507.1,754.3 2515.6,734.9 2523.7,715.3 2531.5,695.5 2538.9,675.6 2546,655.6 2552.7,635.5 2559.1,615.3 2565.2,594.9 2570.8,574.5 2576.1,553.9 2581.1,533.3 2585.7,512.6 2589.9,491.8 2593.8,470.9 2597.3,450 2600.4,429 2603.2,408 2605.6,386.9 2607.6,365.8 2609.3,344.6 2610.6,323.4 2611.5,302.2 2612.1,281 2612.3,259.8 M381.8,259.8 382,277.5 382.4,295.2 383.2,312.9 384.3,330.6 385.7,348.2 387.4,365.9 389.4,383.4 391.7,401 394.3,418.5 397.2,436 400.4,453.4 404,470.7 407.8,488 411.9,505.3 416.4,522.4 421.1,539.5 426.1,556.4 431.5,573.3 437.1,590.1 443,606.8 449.2,623.4 455.7,639.9 462.5,656.2 469.5,672.5 476.9,688.6 484.5,704.6 492.4,720.4 500.6,736.1 509,751.7 517.7,767.1 526.7,782.4 536,797.5 545.5,812.4 555.3,827.2 565.3,841.8 575.6,856.2 586.1,870.4 596.9,884.5 607.9,898.3 619.2,912 630.7,925.4 642.4,938.7 654.4,951.8 666.6,964.6 679,977.2 691.6,989.6 704.4,1001.8 717.5,1013.8 730.8,1025.5 744.2,1037 757.9,1048.3 771.7,1059.3 785.8,1070.1 800,1080.6 814.4,1090.9 829,1100.9 843.8,1110.7 858.7,1120.2 873.8,1129.5 889.1,1138.5 904.5,1147.2 920.1,1155.6 935.8,1163.8 951.6,1171.7 967.6,1179.3 983.7,1186.7 1000,1193.7 1016.3,1200.5 1032.8,1207 1049.4,1213.2 1066.1,1219.1 1082.9,1224.7 1099.8,1230.1 1116.7,1235.1 1133.8,1239.8 1150.9,1244.3 1168.2,1248.4 1185.5,1252.2 1202.8,1255.8 1220.2,1259 1237.7,1261.9 1255.2,1264.5 1272.8,1266.8 1290.3,1268.8 1308,1270.5 1325.6,1271.9 1343.3,1273 1361,1273.8 1378.7,1274.2 1396.4,1274.4 1414.1,1274.2 1431.8,1273.8 1449.5,1273 1467.2,1271.9 1484.8,1270.5 1502.5,1268.8 1520,1266.8 1537.6,1264.5 1555.1,1261.9 1572.6,1259 1590,1255.8 1607.3,1252.2 1624.6,1248.4 1641.9,1244.3 1659,1239.8 1676.1,1235.1 1693,1230.1 1709.9,1224.7 1726.7,1219.1 1743.4,1213.2 1760,1207 1776.5,1200.5 1792.8,1193.7 1809.1,1186.7 1825.2,1179.3 1841.2,1171.7 1857,1163.8 1872.7,1155.6 1888.3,1147.2 1903.7,1138.5 1919,1129.5 1934.1,1120.2 1949,1110.7 1963.8,1100.9 1978.4,1090.9 1992.8,1080.6 2007,1070.1 2021.1,1059.3 2034.9,1048.3 2048.6,1037 2062,1025.5 2075.3,1013.8 2088.4,1001.8 2101.2,989.6 2113.8,977.2 2126.2,964.6 2138.4,951.8 2150.4,938.7 2162.1,925.4 2173.6,912 2184.9,898.3 2195.9,884.5 2206.7,870.4 2217.2,856.2 2227.5,841.8 2237.5,827.2 2247.3,812.4 2256.8,797.5 2266.1,782.4 2275.1,767.1 2283.8,751.7 2292.2,736.1 2300.4,720.4 2308.3,704.6 2315.9,688.6 2323.3,672.5 2330.3,656.2 2337.1,639.9 2343.6,623.4 2349.8,606.8 2355.7,590.1 2361.3,573.3 2366.7,556.4 2371.7,539.5 2376.4,522.4 2380.9,505.3 2385,488 2388.8,470.7 2392.4,453.4 2395.6,436 2398.5,418.5 2401.1,401 2403.4,383.4 2405.4,365.9 2407.1,348.2 2408.5,330.6 2409.6,312.9 2410.4,295.2 2410.8,277.5 2411,259.8 M559.8,259.8 559.9,274.4 560.3,289 561,303.6 561.9,318.2 563,332.7 564.4,347.2 566.1,361.8 568,376.2 570.1,390.7 572.5,405.1 575.2,419.4 578.1,433.7 581.3,448 584.7,462.2 588.3,476.3 592.2,490.4 596.4,504.4 600.8,518.3 605.4,532.2 610.3,545.9 615.4,559.6 620.7,573.2 626.3,586.7 632.1,600.1 638.2,613.4 644.5,626.5 651,639.6 657.7,652.6 664.7,665.4 671.9,678.1 679.3,690.7 686.9,703.1 694.8,715.4 702.8,727.6 711.1,739.6 719.6,751.5 728.3,763.3 737.2,774.9 746.3,786.3 755.5,797.5 765,808.6 774.7,819.6 784.6,830.3 794.6,840.9 804.8,851.4 815.3,861.6 825.9,871.6 836.6,881.5 847.6,891.2 858.7,900.7 869.9,909.9 881.3,919 892.9,927.9 904.7,936.6 916.6,945.1 928.6,953.4 940.8,961.4 953.1,969.3 965.5,976.9 978.1,984.3 990.8,991.5 1003.6,998.5 1016.6,1005.2 1029.7,1011.7 1042.8,1018 1056.1,1024.1 1069.5,1029.9 1083,1035.5 1096.6,1040.8 1110.3,1045.9 1124,1050.8 1137.9,1055.4 1151.8,1059.8 1165.8,1064 1179.9,1067.9 1194,1071.5 1208.2,1074.9 1222.5,1078.1 1236.8,1081 1251.1,1083.7 1265.5,1086.1 1280,1088.2 1294.4,1090.1 1309,1091.8 1323.5,1093.2 1338,1094.3 1352.6,1095.2 1367.2,1095.9 1381.8,1096.3 1396.4,1096.4 1411,1096.3 1425.6,1095.9 1440.2,1095.2 1454.8,1094.3 1469.3,1093.2 1483.8,1091.8 1498.4,1090.1 1512.8,1088.2 1527.3,1086.1 1541.7,1083.7 1556,1081 1570.3,1078.1 1584.6,1074.9 1598.8,1071.5 1612.9,1067.9 1627,1064 1641,1059.8 1654.9,1055.4 1668.8,1050.8 1682.5,1045.9 1696.2,1040.8 1709.8,1035.5 1723.3,1029.9 1736.7,1024.1 1750,1018 1763.1,1011.7 1776.2,1005.2 1789.2,998.5 1802,991.5 1814.7,984.3 1827.3,976.9 1839.7,969.3 1852,961.4 1864.2,953.4 1876.2,945.1 1888.1,936.6 1899.9,927.9 1911.5,919 1922.9,909.9 1934.1,900.7 1945.2,891.2 1956.2,881.5 1966.9,871.6 1977.5,861.6 1988,851.4 1998.2,840.9 2008.2,830.3 2018.1,819.6 2027.8,808.6 2037.3,797.5 2046.5,786.3 2055.6,774.9 2064.5,763.3 2073.2,751.5 2081.7,739.6 2090,727.6 2098,715.4 2105.9,703.1 2113.5,690.7 2120.9,678.1 2128.1,665.4 2135.1,652.6 2141.8,639.6 2148.3,626.5 2154.6,613.4 2160.7,600.1 2166.5,586.7 2172.1,573.2 2177.4,559.6 2182.5,545.9 2187.4,532.2 2192,518.3 2196.4,504.4 2200.6,490.4 2204.5,476.3 2208.1,462.2 2211.5,448 2214.7,433.7 2217.6,419.4 2220.3,405.1 2222.7,390.7 2224.8,376.2 2226.7,361.8 2228.4,347.2 2229.8,332.7 2230.9,318.2 2231.8,303.6 2232.5,289 2232.9,274.4 2233,259.8 M720.7,259.8 720.8,271.6 721.1,283.4 721.6,295.2 722.4,306.9 723.3,318.7 724.4,330.4 725.8,342.1 727.3,353.8 729,365.5 731,377.1 733.1,388.7 735.5,400.3 738,411.8 740.8,423.3 743.7,434.7 746.9,446 750.2,457.3 753.8,468.6 757.5,479.8 761.5,490.9 765.6,501.9 769.9,512.9 774.4,523.8 779.1,534.6 784,545.4 789.1,556 794.4,566.6 799.8,577 805.4,587.4 811.2,597.6 817.2,607.8 823.4,617.9 829.7,627.8 836.2,637.6 842.9,647.4 849.8,657 856.8,666.4 864,675.8 871.3,685 878.8,694.1 886.5,703.1 894.3,711.9 902.2,720.6 910.4,729.2 918.6,737.6 927,745.8 935.6,754 944.3,761.9 953.1,769.7 962.1,777.4 971.2,784.9 980.4,792.2 989.8,799.4 999.2,806.4 1008.8,813.3 1018.6,820 1028.4,826.5 1038.3,832.8 1048.4,839 1058.6,845 1068.8,850.8 1079.2,856.4 1089.6,861.8 1100.2,867.1 1110.8,872.2 1121.6,877.1 1132.4,881.8 1143.3,886.3 1154.3,890.6 1165.3,894.7 1176.4,898.7 1187.6,902.4 1198.9,906 1210.2,909.3 1221.5,912.5 1232.9,915.4 1244.4,918.2 1255.9,920.7 1267.5,923.1 1279.1,925.2 1290.7,927.2 1302.4,928.9 1314.1,930.4 1325.8,931.8 1337.5,932.9 1349.3,933.8 1361,934.6 1372.8,935.1 1384.6,935.4 1396.4,935.5 1408.2,935.4 1420,935.1 1431.8,934.6 1443.5,933.8 1455.3,932.9 1467,931.8 1478.7,930.4 1490.4,928.9 1502.1,927.2 1513.7,925.2 1525.3,923.1 1536.9,920.7 1548.4,918.2 1559.9,915.4 1571.3,912.5 1582.6,909.3 1593.9,906 1605.2,902.4 1616.4,898.7 1627.5,894.7 1638.5,890.6 1649.5,886.3 1660.4,881.8 1671.2,877.1 1682,872.2 1692.6,867.1 1703.2,861.8 1713.6,856.4 1724,850.8 1734.2,845 1744.4,839 1754.5,832.8 1764.4,826.5 1774.2,820 1784,813.3 1793.6,806.4 1803,799.4 1812.4,792.2 1821.6,784.9 1830.7,777.4 1839.7,769.7 1848.5,761.9 1857.2,754 1865.8,745.8 1874.2,737.6 1882.4,729.2 1890.6,720.6 1898.5,711.9 1906.3,703.1 1914,694.1 1921.5,685 1928.8,675.8 1936,666.4 1943,657 1949.9,647.4 1956.6,637.6 1963.1,627.8 1969.4,617.9 1975.6,607.8 1981.6,597.6 1987.4,587.4 1993,577 1998.4,566.6 2003.7,556 2008.8,545.4 2013.7,534.6 2018.4,523.8 2022.9,512.9 2027.2,501.9 2031.3,490.9 2035.3,479.8 2039,468.6 2042.6,457.3 2045.9,446 2049.1,434.7 2052,423.3 2054.8,411.8 2057.3,400.3 2059.7,388.7 2061.8,377.1 2063.8,365.5 2065.5,353.8 2067,342.1 2068.4,330.4 2069.5,318.7 2070.4,306.9 2071.2,295.2 2071.7,283.4 2072,271.6 2072.1,259.8 M869,259.8 869.1,269 869.3,278.2 869.7,287.4 870.3,296.6 871,305.8 871.9,314.9 872.9,324.1 874.1,333.2 875.5,342.3 877,351.4 878.7,360.4 880.5,369.5 882.5,378.4 884.7,387.4 887,396.3 889.4,405.2 892.1,414 894.8,422.8 897.7,431.5 900.8,440.2 904,448.8 907.4,457.4 910.9,465.9 914.6,474.3 918.4,482.7 922.4,491 926.5,499.2 930.7,507.4 935.1,515.5 939.7,523.5 944.3,531.4 949.1,539.3 954.1,547 959.2,554.7 964.4,562.3 969.7,569.8 975.2,577.2 980.8,584.5 986.5,591.7 992.4,598.8 998.4,605.8 1004.5,612.7 1010.7,619.5 1017,626.2 1023.5,632.7 1030,639.2 1036.7,645.5 1043.5,651.7 1050.4,657.8 1057.4,663.8 1064.5,669.7 1071.7,675.4 1079,681 1086.4,686.5 1093.9,691.8 1101.5,697 1109.2,702.1 1116.9,707.1 1124.8,711.9 1132.7,716.5 1140.7,721.1 1148.8,725.5 1157,729.7 1165.2,733.8 1173.5,737.8 1181.9,741.6 1190.3,745.3 1198.8,748.8 1207.4,752.2 1216,755.4 1224.7,758.5 1233.4,761.4 1242.2,764.1 1251,766.8 1259.9,769.2 1268.8,771.5 1277.8,773.7 1286.7,775.7 1295.8,777.5 1304.8,779.2 1313.9,780.7 1323,782.1 1332.1,783.3 1341.3,784.3 1350.4,785.2 1359.6,785.9 1368.8,786.5 1378,786.9 1387.2,787.1 1396.4,787.2 1405.6,787.1 1414.8,786.9 1424,786.5 1433.2,785.9 1442.4,785.2 1451.5,784.3 1460.7,783.3 1469.8,782.1 1478.9,780.7 1488,779.2 1497,777.5 1506.1,775.7 1515,773.7 1524,771.5 1532.9,769.2 1541.8,766.8 1550.6,764.1 1559.4,761.4 1568.1,758.5 1576.8,755.4 1585.4,752.2 1594,748.8 1602.5,745.3 1610.9,741.6 1619.3,737.8 1627.6,733.8 1635.8,729.7 1644,725.5 1652.1,721.1 1660.1,716.5 1668,711.9 1675.9,707.1 1683.6,702.1 1691.3,697 1698.9,691.8 1706.4,686.5 1713.8,681 1721.1,675.4 1728.3,669.7 1735.4,663.8 1742.4,657.8 1749.3,651.7 1756.1,645.5 1762.8,639.2 1769.3,632.7 1775.8,626.2 1782.1,619.5 1788.3,612.7 1794.4,605.8 1800.4,598.8 1806.3,591.7 1812,584.5 1817.6,577.2 1823.1,569.8 1828.4,562.3 1833.6,554.7 1838.7,547 1843.7,539.3 1848.5,531.4 1853.1,523.5 1857.7,515.5 1862.1,507.4 1866.3,499.2 1870.4,491 1874.4,482.7 1878.2,474.3 1881.9,465.9 1885.4,457.4 1888.8,448.8 1892,440.2 1895.1,431.5 1898,422.8 1900.7,414 1903.4,405.2 1905.8,396.3 1908.1,387.4 1910.3,378.4 1912.3,369.5 1914.1,360.4 1915.8,351.4 1917.3,342.3 1918.7,333.2 1919.9,324.1 1920.9,314.9 1921.8,305.8 1922.5,296.6 1923.1,287.4 1923.5,278.2 1923.7,269 1923.8,259.8 M1008.1,259.8 1008.2,266.6 1008.4,273.4 1008.7,280.1 1009.1,286.9 1009.6,293.6 1010.3,300.4 1011,307.1 1011.9,313.8 1012.9,320.5 1014,327.2 1015.3,333.9 1016.6,340.5 1018.1,347.1 1019.7,353.7 1021.4,360.3 1023.2,366.8 1025.1,373.3 1027.1,379.8 1029.3,386.2 1031.6,392.6 1033.9,398.9 1036.4,405.2 1039,411.5 1041.7,417.7 1044.5,423.9 1047.4,430 1050.5,436.1 1053.6,442.1 1056.8,448 1060.2,453.9 1063.6,459.8 1067.1,465.5 1070.8,471.3 1074.5,476.9 1078.4,482.5 1082.3,488 1086.3,493.5 1090.4,498.8 1094.7,504.1 1099,509.4 1103.4,514.5 1107.9,519.6 1112.4,524.6 1117.1,529.5 1121.9,534.3 1126.7,539.1 1131.6,543.8 1136.6,548.3 1141.7,552.8 1146.8,557.2 1152.1,561.5 1157.4,565.8 1162.7,569.9 1168.2,573.9 1173.7,577.8 1179.3,581.7 1184.9,585.4 1190.7,589.1 1196.4,592.6 1202.3,596 1208.2,599.4 1214.1,602.6 1220.1,605.7 1226.2,608.8 1232.3,611.7 1238.5,614.5 1244.7,617.2 1251,619.8 1257.3,622.3 1263.6,624.6 1270,626.9 1276.4,629.1 1282.9,631.1 1289.4,633 1295.9,634.8 1302.5,636.5 1309.1,638.1 1315.7,639.6 1322.3,640.9 1329,642.2 1335.7,643.3 1342.4,644.3 1349.1,645.2 1355.8,645.9 1362.6,646.6 1369.3,647.1 1376.1,647.5 1382.8,647.8 1389.6,648 1396.4,648.1 1403.2,648 1410,647.8 1416.7,647.5 1423.5,647.1 1430.2,646.6 1437,645.9 1443.7,645.2 1450.4,644.3 1457.1,643.3 1463.8,642.2 1470.5,640.9 1477.1,639.6 1483.7,638.1 1490.3,636.5 1496.9,634.8 1503.4,633 1509.9,631.1 1516.4,629.1 1522.8,626.9 1529.2,624.6 1535.5,622.3 1541.8,619.8 1548.1,617.2 1554.3,614.5 1560.5,611.7 1566.6,608.8 1572.7,605.7 1578.7,602.6 1584.6,599.4 1590.5,596 1596.4,592.6 1602.1,589.1 1607.9,585.4 1613.5,581.7 1619.1,577.8 1624.6,573.9 1630.1,569.9 1635.4,565.8 1640.7,561.5 1646,557.2 1651.1,552.8 1656.2,548.3 1661.2,543.8 1666.1,539.1 1670.9,534.3 1675.7,529.5 1680.4,524.6 1684.9,519.6 1689.4,514.5 1693.8,509.4 1698.1,504.1 1702.4,498.8 1706.5,493.5 1710.5,488 1714.4,482.5 1718.3,476.9 1722,471.3 1725.7,465.5 1729.2,459.8 1732.6,453.9 1736,448 1739.2,442.1 1742.3,436.1 1745.4,430 1748.3,423.9 1751.1,417.7 1753.8,411.5 1756.4,405.2 1758.9,398.9 1761.2,392.6 1763.5,386.2 1765.7,379.8 1767.7,373.3 1769.6,366.8 1771.4,360.3 1773.1,353.7 1774.7,347.1 1776.2,340.5 1777.5,333.9 1778.8,327.2 1779.9,320.5 1780.9,313.8 1781.8,307.1 1782.5,300.4 1783.2,293.6 1783.7,286.9 1784.1,280.1 1784.4,273.4 1784.6,266.6 1784.7,259.8 M1140.9,259.8 1140.9,264.3 1141.1,268.7 1141.3,273.2 1141.5,277.6 1141.9,282.1 1142.3,286.5 1142.8,290.9 1143.4,295.4 1144,299.8 1144.8,304.2 1145.6,308.6 1146.5,312.9 1147.5,317.3 1148.5,321.6 1149.6,325.9 1150.8,330.2 1152.1,334.5 1153.4,338.8 1154.8,343 1156.3,347.2 1157.9,351.4 1159.5,355.5 1161.2,359.6 1163,363.7 1164.8,367.8 1166.8,371.8 1168.7,375.8 1170.8,379.7 1172.9,383.7 1175.1,387.5 1177.4,391.4 1179.7,395.2 1182.1,399 1184.6,402.7 1187.1,406.3 1189.7,410 1192.4,413.6 1195.1,417.1 1197.8,420.6 1200.7,424 1203.6,427.4 1206.5,430.8 1209.5,434 1212.6,437.3 1215.7,440.5 1218.9,443.6 1222.2,446.7 1225.4,449.7 1228.8,452.6 1232.2,455.5 1235.6,458.4 1239.1,461.1 1242.6,463.8 1246.2,466.5 1249.9,469.1 1253.5,471.6 1257.2,474.1 1261,476.5 1264.8,478.8 1268.7,481.1 1272.5,483.3 1276.5,485.4 1280.4,487.5 1284.4,489.4 1288.4,491.4 1292.5,493.2 1296.6,495 1300.7,496.7 1304.8,498.3 1309,499.9 1313.2,501.4 1317.4,502.8 1321.7,504.1 1326,505.4 1330.3,506.6 1334.6,507.7 1338.9,508.7 1343.3,509.7 1347.6,510.6 1352,511.4 1356.4,512.2 1360.8,512.8 1365.3,513.4 1369.7,513.9 1374.1,514.3 1378.6,514.7 1383,514.9 1387.5,515.1 1391.9,515.3 1396.4,515.3 1400.9,515.3 1405.3,515.1 1409.8,514.9 1414.2,514.7 1418.7,514.3 1423.1,513.9 1427.5,513.4 1432,512.8 1436.4,512.2 1440.8,511.4 1445.2,510.6 1449.5,509.7 1453.9,508.7 1458.2,507.7 1462.5,506.6 1466.8,505.4 1471.1,504.1 1475.4,502.8 1479.6,501.4 1483.8,499.9 1488,498.3 1492.1,496.7 1496.2,495 1500.3,493.2 1504.4,491.4 1508.4,489.4 1512.4,487.5 1516.3,485.4 1520.3,483.3 1524.1,481.1 1528,478.8 1531.8,476.5 1535.6,474.1 1539.3,471.6 1542.9,469.1 1546.6,466.5 1550.2,463.8 1553.7,461.1 1557.2,458.4 1560.6,455.5 1564,452.6 1567.4,449.7 1570.6,446.7 1573.9,443.6 1577.1,440.5 1580.2,437.3 1583.3,434 1586.3,430.8 1589.2,427.4 1592.1,424 1595,420.6 1597.7,417.1 1600.4,413.6 1603.1,410 1605.7,406.3 1608.2,402.7 1610.7,399 1613.1,395.2 1615.4,391.4 1617.7,387.5 1619.9,383.7 1622,379.7 1624.1,375.8 1626,371.8 1628,367.8 1629.8,363.7 1631.6,359.6 1633.3,355.5 1634.9,351.4 1636.5,347.2 1638,343 1639.4,338.8 1640.7,334.5 1642,330.2 1643.2,325.9 1644.3,321.6 1645.3,317.3 1646.3,312.9 1647.2,308.6 1648,304.2 1648.8,299.8 1649.4,295.4 1650,290.9 1650.5,286.5 1650.9,282.1 1651.3,277.6 1651.5,273.2 1651.7,268.7 1651.9,264.3 1651.9,259.8 M1269.6,259.8 1269.6,262 1269.7,264.2 1269.8,266.4 1269.9,268.6 1270.1,270.8 1270.3,273.1 1270.6,275.2 1270.9,277.4 1271.2,279.6 1271.6,281.8 1272,284 1272.4,286.2 1272.9,288.3 1273.4,290.5 1273.9,292.6 1274.5,294.7 1275.2,296.9 1275.8,299 1276.5,301.1 1277.3,303.2 1278,305.2 1278.9,307.3 1279.7,309.3 1280.6,311.4 1281.5,313.4 1282.5,315.4 1283.4,317.4 1284.5,319.3 1285.5,321.3 1286.6,323.2 1287.7,325.1 1288.9,327 1290.1,328.8 1291.3,330.7 1292.6,332.5 1293.8,334.3 1295.2,336.1 1296.5,337.8 1297.9,339.6 1299.3,341.3 1300.7,343 1302.2,344.6 1303.7,346.3 1305.2,347.9 1306.8,349.4 1308.3,351 1309.9,352.5 1311.6,354 1313.2,355.5 1314.9,356.9 1316.6,358.3 1318.4,359.7 1320.1,361 1321.9,362.4 1323.7,363.6 1325.5,364.9 1327.4,366.1 1329.2,367.3 1331.1,368.5 1333,369.6 1334.9,370.7 1336.9,371.7 1338.8,372.8 1340.8,373.7 1342.8,374.7 1344.8,375.6 1346.9,376.5 1348.9,377.3 1351,378.2 1353,378.9 1355.1,379.7 1357.2,380.4 1359.3,381 1361.5,381.7 1363.6,382.3 1365.7,382.8 1367.9,383.3 1370,383.8 1372.2,384.2 1374.4,384.6 1376.6,385 1378.8,385.3 1381,385.6 1383.1,385.9 1385.4,386.1 1387.6,386.3 1389.8,386.4 1392,386.5 1394.2,386.6 1396.4,386.6 1398.6,386.6 1400.8,386.5 1403,386.4 1405.2,386.3 1407.4,386.1 1409.7,385.9 1411.8,385.6 1414,385.3 1416.2,385 1418.4,384.6 1420.6,384.2 1422.8,383.8 1424.9,383.3 1427.1,382.8 1429.2,382.3 1431.3,381.7 1433.5,381 1435.6,380.4 1437.7,379.7 1439.8,378.9 1441.8,378.2 1443.9,377.3 1445.9,376.5 1448,375.6 1450,374.7 1452,373.7 1454,372.8 1455.9,371.7 1457.9,370.7 1459.8,369.6 1461.7,368.5 1463.6,367.3 1465.4,366.1 1467.3,364.9 1469.1,363.6 1470.9,362.4 1472.7,361 1474.4,359.7 1476.2,358.3 1477.9,356.9 1479.6,355.5 1481.2,354 1482.9,352.5 1484.5,351 1486,349.4 1487.6,347.9 1489.1,346.3 1490.6,344.6 1492.1,343 1493.5,341.3 1494.9,339.6 1496.3,337.8 1497.6,336.1 1499,334.3 1500.2,332.5 1501.5,330.7 1502.7,328.8 1503.9,327 1505.1,325.1 1506.2,323.2 1507.3,321.3 1508.3,319.3 1509.4,317.4 1510.3,315.4 1511.3,313.4 1512.2,311.4 1513.1,309.3 1513.9,307.3 1514.8,305.2 1515.5,303.2 1516.3,301.1 1517,299 1517.6,296.9 1518.3,294.7 1518.9,292.6 1519.4,290.5 1519.9,288.3 1520.4,286.2 1520.8,284 1521.2,281.8 1521.6,279.6 1521.9,277.4 1522.2,275.2 1522.5,273.1 1522.7,270.8 1522.9,268.6 1523,266.4 1523.1,264.2 1523.2,262 1523.2,259.8" fill="none" stroke="#000" stroke-width="1.45" stroke-dasharray="1.45 3.3" stroke-linecap="butt"/>
</g>
</g>
<rect x="1080.5" y="598" width="866" height="626" fill="none" stroke="#5a5a5a" stroke-width="2"/>
<text x="1110" y="594" font-size="10.8" font-weight="bold" fill="#8f5c08" text-anchor="middle" textLength="34.5" lengthAdjust="spacingAndGlyphs">140°W</text>
<text x="1270" y="594" font-size="10.8" font-weight="bold" fill="#8f5c08" text-anchor="middle" textLength="34.5" lengthAdjust="spacingAndGlyphs">120°W</text>
<text x="1394" y="594" font-size="10.8" font-weight="bold" fill="#8f5c08" text-anchor="middle" textLength="34.5" lengthAdjust="spacingAndGlyphs">100°W</text>
<text x="1516.5" y="594" font-size="10.8" font-weight="bold" fill="#8f5c08" text-anchor="middle" textLength="25.2" lengthAdjust="spacingAndGlyphs">80°W</text>
<text x="1677.5" y="594" font-size="10.8" font-weight="bold" fill="#8f5c08" text-anchor="middle" textLength="25.2" lengthAdjust="spacingAndGlyphs">60°W</text>
<text x="1394" y="1236" font-size="10.8" font-weight="bold" fill="#8f5c08" text-anchor="middle" textLength="34.5" lengthAdjust="spacingAndGlyphs">100°W</text>
<text x="1744.5" y="1236" font-size="10.8" font-weight="bold" fill="#8f5c08" text-anchor="middle" textLength="25.2" lengthAdjust="spacingAndGlyphs">80°W</text>
<text x="1055.5" y="638" font-size="10.8" font-weight="bold" fill="#8f5c08" text-anchor="middle" textLength="34.5" lengthAdjust="spacingAndGlyphs">140°W</text>
<text x="1055.5" y="1129.5" font-size="10.8" font-weight="bold" fill="#8f5c08" text-anchor="middle" textLength="34.5" lengthAdjust="spacingAndGlyphs">120°W</text>
<text x="1963.5" y="919" font-size="10.8" font-weight="bold" fill="#8f5c08" text-anchor="middle" textLength="25.2" lengthAdjust="spacingAndGlyphs">60°W</text>
<text x="1394.5" y="647.5" font-size="10.8" font-weight="bold" fill="#8f5c08" text-anchor="middle" textLength="25.2" lengthAdjust="spacingAndGlyphs">60°N</text>
<text x="1394.5" y="787.5" font-size="10.8" font-weight="bold" fill="#8f5c08" text-anchor="middle" textLength="25.2" lengthAdjust="spacingAndGlyphs">50°N</text>
<text x="1394.5" y="936.5" font-size="10.8" font-weight="bold" fill="#8f5c08" text-anchor="middle" textLength="25.2" lengthAdjust="spacingAndGlyphs">40°N</text>
<text x="1394.5" y="1096.5" font-size="10.8" font-weight="bold" fill="#8f5c08" text-anchor="middle" textLength="25.2" lengthAdjust="spacingAndGlyphs">30°N</text>
<text x="39.2" y="1662.8" font-size="16.8" fill="#444">© 2026 European Centre for Medium-Range Weather Forecasts (ECMWF)</text>
<text x="39.2" y="1682.8" font-size="16.8" fill="#444">Source: www.ecmwf.int</text>
<text x="39.2" y="1702.8" font-size="16.8" fill="#444">Licence: CC BY 4.0 and ECMWF Terms of Use (https://apps.ecmwf.int/datasets/licences/general/)</text>
<text x="39.2" y="1722.8" font-size="16.8" fill="#444">Created at 2026-03-01T20:08:41.422Z</text>
<g fill="#0069A6">
</g>
<g>
<circle cx="1622.9" cy="1687.9" r="31.8" fill="#0069A6"/>
<circle cx="1648.2" cy="1687.9" r="31.8" fill="#0069A6"/>
<circle cx="1622.9" cy="1687.9" r="14.2" fill="#fff"/>
<circle cx="1648.4" cy="1687.9" r="14.2" fill="#fff"/>
<rect x="1588" y="1681.7" width="34" height="12.5" fill="#fff"/>
<rect x="1650" y="1681.7" width="32" height="12.5" fill="#fff"/>
<rect x="1591.1" y="1684.3" width="26.7" height="6.9" fill="#0069A6"/>
<text x="1687.3" y="1714" font-size="76.5" font-weight="bold" fill="#0069A6" stroke="#0069A6" stroke-width="1.8" stroke-linejoin="miter" textLength="275" lengthAdjust="spacingAndGlyphs">ECMWF</text>
</g>
</svg></body></html>
